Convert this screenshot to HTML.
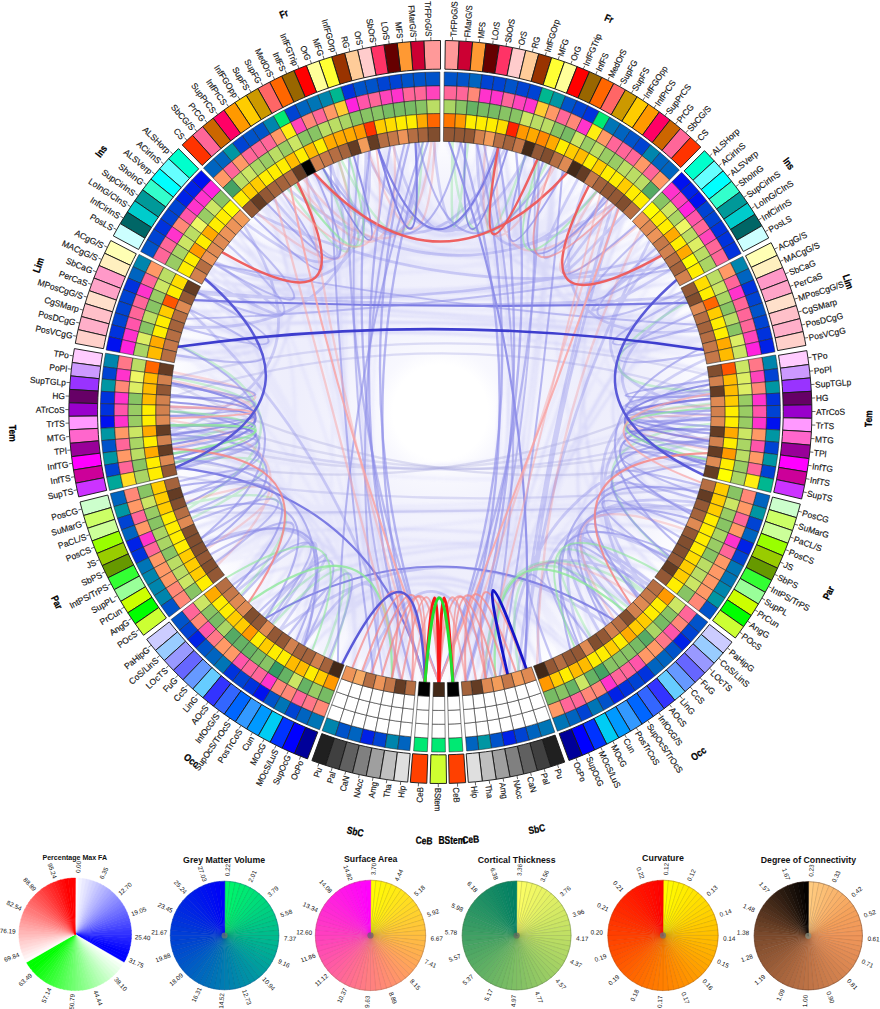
<!DOCTYPE html>
<html><head><meta charset="utf-8"><title>Connectogram</title>
<style>
html,body{margin:0;padding:0;background:#fff;}
body{width:880px;height:1009px;position:relative;overflow:hidden;font-family:"Liberation Sans",sans-serif;}
svg text{font-family:"Liberation Sans",sans-serif;}
</style></head><body>
<svg width="880" height="1009" viewBox="0 0 880 1009" style="position:absolute;left:0;top:0;font-family:'Liberation Sans',sans-serif">
<rect width="880" height="1009" fill="#fff"/>
<defs><radialGradient id="wash" cx="440.4" cy="412" r="270.6" gradientUnits="userSpaceOnUse"><stop offset="0" stop-color="#fff"/><stop offset="0.175" stop-color="#fff"/><stop offset="0.235" stop-color="#f8f8fe"/><stop offset="0.36" stop-color="#f3f3fd"/><stop offset="0.55" stop-color="#eeeefc"/><stop offset="0.78" stop-color="#f0f0fc"/><stop offset="0.92" stop-color="#f8f8fe"/><stop offset="1" stop-color="#fdfdff"/></radialGradient><filter id="bl" x="-5%" y="-5%" width="110%" height="110%"><feGaussianBlur stdDeviation="1.1"/></filter><filter id="bs" x="-5%" y="-5%" width="110%" height="110%"><feGaussianBlur stdDeviation="0.45"/></filter></defs>
<circle cx="440.4" cy="412" r="270.6" fill="url(#wash)"/>
<g fill="none" stroke-linecap="round">
<g filter="url(#bl)">
<path d="M611.9 203.3Q512.3 330.6 626.5 216.2M687 522.2Q528.2 447.8 693.7 505.7M292.8 185.8Q440.6 317.5 589 186.4M529.2 156.9Q511.7 349.2 704.7 356.1M703.5 351Q532.1 354.7 610.7 202.3M271.5 201.2Q402.2 314.2 421.4 142.6M354.4 668.1Q432 515.5 483.8 678.6M624.2 214.1Q534.4 446.8 450.8 681.9M700.2 338.2Q533.3 377.8 686 299.7M266.4 205.4Q368.8 337.1 241.8 229M708.8 381.9Q549.7 409.6 709.9 430M286.7 189.9Q336.5 439.1 414.8 680.9M279.2 195.3Q373.8 332.5 255.2 215.4M595.9 191.2Q494.2 328.8 578.1 179.7M578 179.6Q501.6 321.6 604.9 197.7M185.8 502.2Q444.2 517.6 700.9 483.5M554.4 167.1Q515.6 343.8 695.2 322.3M238.5 232.6Q381.4 335.4 318.3 171.1M414.3 143.2Q424.1 303.8 386 147.4M322.7 168.9Q344.5 411.5 319.9 653.8M172.6 447.6Q334 387.3 215.6 262.2M195.5 298.2Q351.4 449.6 351 666.9M653.1 245.5Q539.6 451.7 479.4 679.3M290.6 636.7Q353.3 464.4 171.6 438.9M687.1 521.9Q526.8 474.2 622.7 611.3M233.7 238.2Q367 342.3 256.2 214.4M540 663.1Q470 505.8 502.8 674.8M678 283.6Q538.4 452.6 517.5 670.9M255.5 215.1Q426.7 313.6 564.3 172M178.6 345.6Q442.6 313.5 704.9 357.2M591.2 636Q475.1 510 464.1 681.1M182.7 331.1Q443.6 307.6 702.6 347M194.8 299.7Q445.2 305.3 695.1 322M318.5 653Q372.1 489.9 217.2 564.1M206.2 277.5Q341.1 454.3 375.1 674.1M665.1 561.9Q492.7 503.7 454.9 681.7M554.3 167.1Q533.3 427.8 467.1 680.8M171.7 439.3Q437 508.4 706.6 458M479.1 144.7Q478.3 311.6 587.8 185.7M170.8 428.3Q338.8 431.2 183.5 495.3M302.6 644.3Q404.5 515.6 404.7 679.7M198.5 291.9Q351.8 453.8 379.3 675.1M574.1 646.7Q481.3 503.5 526.1 668.1M178.8 479.3Q375.3 487.9 413.8 680.8M279 195.4Q348.5 358.5 172.3 378.8M171.3 389.3Q342.7 412.4 171.5 437.1M171.1 432.7Q446.3 513 710.3 401.4M238.4 591.3Q357.6 476.6 217.4 564.3M481.3 145Q539.5 410.8 488 677.9M379.9 675.2Q415 507 361.4 670.3M185.1 500.2Q344 407.6 194.1 301.1M311.8 649.5Q425.4 519.7 499.1 675.7M584.4 640.5Q503.4 497.5 616 617.3M177.4 350.6Q348.5 465.8 365.2 671.4M555.9 167.9Q490.1 326.8 595.9 191.2M170.7 426.9Q355.4 457.2 277.2 627.2M170.8 428.2Q332.5 403.9 176.2 356M387.9 147Q414.7 305.2 366.5 152.2M599.7 630.1Q526.6 455.1 710.5 408.6M446.7 142Q549.7 404.2 485.2 678.4M264 207.5Q374.6 327.9 284.4 191.5M683 293.3Q540.1 387 710.3 401.9M575.6 645.8Q529.8 469.8 709.1 439.5M310 175.5Q372.2 336.1 219.1 257.1M177.9 348.2Q350.5 362.6 245.8 224.7M641.3 231.5Q538.5 381.9 708 449M323.5 655.5Q401.8 506.1 352.6 667.4M211.6 555.5Q433.8 511.9 648.5 584.2M525.5 668.3Q470.8 514.2 509.3 673.2M311.2 174.8Q435.1 306.6 545.4 163.1M262.2 209Q382.5 318.8 337.5 162.3M273.6 199.5Q456.1 314.3 665.3 262.4M320.8 654.2Q393.7 494.6 294.5 639.3M205.1 279.3Q438.8 311.7 671.2 271.7M643.4 590.2Q491.6 504 485 678.4M354.3 156Q331.6 415.2 369.7 672.7M649.5 583Q517.6 480.7 634.5 599.8M332.5 164.4Q399.5 327.2 313.6 173.5M397.3 145.4Q442.7 311.9 495.9 147.7M215.1 263Q349.7 364 190.4 309.7M384.5 676.2Q411 510.3 342.3 663.6M628 217.7Q487 323.9 495.5 147.6M180.2 339.4Q345.4 412.8 181.5 488.8M491.1 146.7Q540.7 407.5 514.5 671.7M195.6 526.2Q374.7 490.5 371 673M188.8 510.4Q353.2 457 214.6 560.2M340.1 161.2Q396.2 314.2 318.4 171M573 647.3Q470.7 506.4 469.3 680.6M256.6 609.9Q427.5 513.3 568.8 649.6M360.4 154Q343.4 419.4 400.3 679.1M216.8 563.5Q450.7 508.9 690.9 513M298.2 182.4Q347 431.9 404.3 679.7M247.7 222.8Q442.8 305.1 641.6 231.8M694.4 320.3Q539 409.4 698.9 490.3M255.3 608.7Q343.3 447 172.4 378.4M178.7 345.3Q441.3 312.3 703.2 349.8M629.5 604.9Q502 498.9 559.8 654.3M460.7 142.7Q527 347.9 703.9 471.4M604.8 197.7Q513.8 347.1 673.1 274.9M186.2 503.2Q442.2 520.7 697.5 494.9M244.6 225.9Q343.1 442.3 385.2 676.4M187.4 317.4Q332.8 404.2 176.4 469.2M225.1 248.9Q375.7 335.9 314.1 173.3M506 150Q541.8 415.2 489.2 677.7M572.7 176.5Q480.6 325.6 535.6 159.2M211.8 268.1Q360 354.1 231.6 240.7M552.9 166.4Q533.2 394.5 634.6 599.7M563.2 652.6Q488.9 497.7 583.5 641.1M608.3 623.6Q485.1 505.6 499.4 675.6M356.7 155.2Q419.3 318.8 405.4 144.2M431.3 142.1Q389.9 328.9 205 279.6M488.1 677.9Q456.5 518.7 473.2 680.1M416.4 143Q441.1 309 468.2 143.3M329.3 658.2Q369 486.8 199.6 534.4M373 673.6Q437.8 509.4 493.8 676.8M174.6 459.8Q333.1 393.8 205.1 279.3M227.4 246Q431.7 313.9 620.7 210.9M172.6 446.8Q371.1 477.8 392.1 677.7M686 299.5Q539.2 390.4 710.5 411.6M270.2 202.3Q340.8 440 404.1 679.7M710.4 419Q538.3 446.2 656 574.7M272.8 200.2Q377.9 339 257.1 213.6M182.8 493.1Q335.6 436.1 173.2 451.4M386.1 147.4Q341 415.2 403.2 679.5M209.2 272.3Q342.4 362.1 191.4 307.3M667.2 558.7Q535.3 443.7 709.8 431.2M295.3 639.8Q435.9 506.3 562.9 652.7M665.9 263.3Q529.9 442.6 527.4 667.7M408.7 143.8Q451.9 312.7 532.6 158.1M170.3 410.5Q341 446.8 230.3 581.8M271.1 622.5Q451.2 513.2 650.1 582.2M391.1 677.6Q440.1 519.5 488 677.9M196.8 528.8Q370.3 494.6 364.9 671.3M634.2 223.9Q525.4 345.7 670 269.8M408.1 143.8Q336.4 405.4 374.3 673.9M303 179.5Q444.9 303.3 596.8 191.8M266.4 205.4Q439 306.7 608.7 200.7M355.9 155.5Q345.4 420.9 405.3 679.8M559.1 169.4Q487.8 325 579.8 180.7M258.2 212.6Q358.4 358.9 183.9 327.4M296.8 640.8Q395 495.9 327.5 657.4M399.1 145.1Q443.7 303.3 497.6 148M398.4 145.2Q439.8 309.9 479.4 144.7M338.4 662.1Q413.2 505 391.4 677.6M701.2 482.3Q544.9 437.5 704.2 469.9M246.8 223.6Q340.5 413.4 252.4 605.9M258.2 212.6Q361.4 354.4 194.8 299.5M277 196.9Q443.6 306.5 616.4 207.1M514.7 671.7Q461.9 506.3 485.8 678.3M619.8 210.1Q501.5 321.7 561.2 170.4M457.2 142.4Q549.5 413.1 451.8 681.9M337.1 162.4Q345.5 415.2 354.2 668M413.4 143.3Q337.6 409.5 400.6 679.1M484.7 145.6Q486.4 329.5 644 234.5M320.3 170.1Q333.1 429.5 403.2 679.5M302.1 180Q398.5 323.2 349.4 157.7M290.2 636.5Q395.2 503.7 354 667.9M705.8 462.4Q520.5 481.2 528.8 667.2M257.9 212.9Q377.2 326.6 303.4 179.3M195.3 298.4Q449.2 310.6 701.4 342.5" stroke="#8686ea" stroke-opacity="0.065" stroke-width="3.8"/>
<path d="M629.2 605.2Q485.9 496.1 498.9 675.7M555.7 167.8Q538.6 424.9 488.7 677.7M457.4 142.4Q487.5 330.6 665.7 263M187.5 317.2Q350.1 376.2 191.2 307.8M305.5 178Q336.2 431.4 398.7 678.9M180.5 338.4Q345.5 370.9 208.8 273.1M296.2 183.6Q450.6 311.5 627.5 217.2M177.9 348.4Q445 307.7 707.5 371.5M189.9 311.1Q446.3 310.6 701 341M591.8 635.7Q529.3 457.6 710.4 404.4M616.6 207.3Q540.5 406.7 637.4 596.8M356.6 155.2Q340.9 422 409.1 680.3M524.2 155.2Q513.9 344 702.9 348.5M211.8 268.2Q347.3 372.8 177.8 349M199.5 289.9Q335.4 392.1 171.5 437.3M607.5 624.2Q530.5 472.7 699.8 487.1M677.9 283.3Q538 458.8 488.5 677.8M175.7 465.9Q364.4 479.3 354.8 668.2M230.6 582.1Q447.4 520.4 670.3 553.7M199.3 290.2Q436.2 305.3 671.2 271.7M209.7 271.6Q436.9 315.6 660.3 255.2M709.7 391.3Q546.8 426.3 694.6 503.2M476.8 144.4Q535.5 416.6 450.6 681.9M701 341.1Q537.6 375.3 682.8 292.9M479.2 144.7Q482.5 321.3 619.4 209.7M386.9 147.3Q439 306 486.8 145.9M405.3 144.2Q334 409.8 394.2 678.1M311.8 174.5Q390.3 314.8 321.3 169.6M298.4 641.8Q437 520.8 567.7 650.2M649.1 583.5Q528.5 459.6 698.2 492.7M630.1 604.3Q510.2 475.5 649.7 582.7M537.8 663.9Q468.6 502.9 502.8 674.8M379.3 148.9Q446.2 302.6 528.7 156.8M543 162.2Q467.7 316.7 485.5 145.7M238.1 233.1Q399.8 323.1 437.6 141.9M191.5 517Q441.4 507.8 691.5 511.5M594 189.8Q516.1 346.8 682.9 293M295.8 640.1Q437.5 511.3 571.4 648.2M688 304.1Q526.9 351.1 625.4 215.2M686.5 523.4Q515.2 473.6 597 632.1M215.6 561.8Q359 472.1 231.2 582.8M686.5 300.6Q535.9 462.9 485.1 678.4M201.9 538.8Q436.8 513 669.3 555.3M649.1 240.5Q517.1 353.7 661.4 256.8M232.6 239.5Q360.8 350.3 221.7 253.5M312.8 174Q448.4 314.4 605.1 197.9M205 279.5Q441 317.6 677.4 282.4M175.5 359Q347.9 366.4 237.2 234.1M279 195.4Q379.1 334.6 266.4 205.4M708.8 381.5Q547.3 411.5 709 440.1M184.3 326.2Q442.7 313.9 700.2 338.2M643.4 233.8Q535.7 421.5 604.3 626.7M658.4 571.5Q533.4 452.2 706 461.2M499 675.7Q480.4 505.5 590.4 636.6M262.1 209.1Q378.7 337.9 273.2 199.9M695.2 322.3Q530.3 363.4 655.2 248.2M176.1 356.4Q356.1 350.9 305.6 178M499.8 148.5Q498.5 322.6 657.1 250.8M537.1 159.8Q482 311.5 550.1 165.2M172.5 446.2Q344.4 374.8 265.5 206.1M437.2 141.9Q389 317.7 215.1 263M682.6 531.5Q493.2 492.1 454.6 681.7M497.7 148.1Q512.9 334.6 700 337.5M479 144.7Q549.8 417.1 453.8 681.8M700.4 339Q536 379.8 691.7 312.9M687.8 520.4Q538.6 411.5 686.7 301M205.4 545.1Q359.5 467 230.3 581.8M390 677.4Q444.5 509.7 512.6 672.3M382.9 148.1Q449.2 312.1 542.9 162.1M194.3 300.6Q446.6 311.5 698.3 331.8M368.7 151.6Q445.3 315.5 537.9 160.1M702.6 347.2Q516.2 336 504.4 149.6M196.2 527.5Q347.6 470.4 230.6 582.2M251 604.6Q448.2 508 658.4 571.4M523.8 155.1Q544 423.8 464.1 681.1M204.1 542.7Q375.4 489.4 352.5 667.4M346.7 158.7Q442.6 309.9 544.8 162.9M328 657.6Q360.4 475.6 175.8 466M255.5 608.9Q366.6 481.1 231.7 583.5M625.4 215.2Q541.8 445 473.8 680M338 162.1Q331.8 422.7 388.9 677.1M625.4 215.2Q513.3 345.6 653.7 246.3M552.4 166.2Q539 427.2 473.3 680.1M341.8 663.4Q419.7 504.4 422.4 681.5M172.8 448.5Q355.8 466.3 295.9 640.2M310.3 648.7Q431.4 510 525 668.5M271.2 622.5Q403.1 501.4 410.1 680.4" stroke="#8080e8" stroke-opacity="0.14" stroke-width="3.0"/>
</g><g filter="url(#bs)">
<path d="M629.3 605Q519.3 485 647.7 585.1M204.9 279.7Q353.1 358.6 215.3 262.7M198.7 291.4Q441.5 314.3 684.7 296.7M363.9 671Q436 508.7 492.9 676.9M369 151.5Q379.7 328 215.4 262.6M691.6 511.2Q526.7 475.8 608.9 623.1M331.4 164.9Q378.6 323.1 246.6 223.8M256.5 214.1Q453.7 307.1 667.8 266.2M303.4 644.8Q399.5 510 371.3 673.1M280.1 629.4Q379.8 487.5 262.8 615.5M171.1 432.8Q345.2 425.6 176.1 467.7M710.5 409.3Q539.9 379.3 659.6 254.1M365.8 152.4Q368.3 337 184 327M705.4 359.5Q534.3 436.8 645 588.3M197.8 293.3Q432.5 313.4 660.9 256M237.6 590.4Q375.5 480.2 272.1 623.2M612.8 204Q543.4 432.8 518.4 670.6M697.8 330.3Q521.5 349.6 585.5 184.2M171 431.4Q339.2 375.8 244.3 226.2M694.9 502.5Q524.9 480.3 582.1 642M328.5 166.1Q414.6 313 417.9 142.8M709.1 439.6Q516 476.8 509 673.2M288.1 188.9Q445 313.6 613 204.3M365.5 152.5Q442.6 307.8 526.3 155.9M686 299.6Q548.1 394.7 708.9 441.7M622.6 611.4Q509.9 477.4 650.6 581.6M624.1 214Q506.9 336.6 613.8 204.9M691.8 510.8Q515.7 486.9 540.6 662.8M670.1 269.9Q520.3 358.5 659.2 253.6M273.8 199.4Q382 325.2 306.3 177.5M393.4 146Q441.9 314 495.4 147.6M189.8 311.2Q351 463.2 400.5 679.1M648.4 584.3Q495 507.2 483.8 678.6M710.4 419.5Q535 409.9 709.8 392.8M617.9 208.4Q543.5 433.1 523.8 668.9M605.3 198.1Q498.2 326.5 577.6 179.3M707.6 372.2Q543.3 444 637.8 596.4M598.7 630.8Q512.9 480.4 668.1 557.3M313.7 173.5Q426.9 303.9 504.5 149.6M301.9 643.9Q361.7 488.1 204.1 542.8M280.9 630Q442 507.1 606.9 624.7M477 144.4Q477.1 319.3 596.9 191.9M433.7 142Q450.1 314.6 499.9 148.5M649.7 241.2Q543.3 442.4 523 669.2" stroke="#7878e6" stroke-opacity="0.30" stroke-width="2.8"/>
<path d="M174.9 461.8Q342.8 441.6 192.1 518.2M172.5 377.6Q338.4 411.1 171.9 441.7M188.2 508.7Q338.6 417.9 178.7 345.2M186.6 504.4Q353.2 464.8 241 594.1M323.6 655.5Q384.8 497.5 265.2 617.5M341.7 160.6Q418.1 312.5 422.3 142.5M295.6 184Q393.6 321.4 338.5 161.9M287.8 189.2Q389.3 323.7 323.4 168.5M330.8 658.8Q387.7 499.4 273.3 624.2M709.7 391.3Q539.3 387 687.1 302M707.2 453.9Q542.2 418.4 710.4 403.8M668.2 557.1Q537.7 442.7 710.2 423.9M627.4 606.9Q491.9 500 518.8 670.5M643.1 590.6Q507.5 488.8 590.3 636.7M525.6 155.7Q467.3 313.6 497.7 148.1M468 143.3Q447.9 310.3 452.7 142.2M546.8 163.8Q463 312.5 451.9 142.1M642.1 591.6Q489.7 501.3 485.1 678.4" stroke="#6ae27a" stroke-opacity="0.30" stroke-width="2.5"/>
<path d="M172.7 447.6Q338.4 412.9 172.1 381M170.3 408.9Q338.7 403.9 173.2 372.2M185.7 501.9Q347.9 454.9 207.3 548.4M217.7 564.8Q343.5 443.8 170.4 420.6M368.4 151.7Q425.7 311.1 435 142M297.2 183Q404 316.7 394.2 145.9M339.3 161.6Q385.9 325.8 257.5 213.2M303.5 179.1Q412 314 431.4 142.1M710.5 414.9Q542.2 417.8 709.1 439.8M710.4 405.3Q542.2 417.8 707.9 449.3M614 618.9Q521 474.6 683.8 529M636.8 597.5Q491.6 500.2 504.1 674.5M554.4 167.1Q470.7 314.6 485.6 145.7M497.8 148.1Q485 320.3 612.5 203.8M596.4 191.5Q507.3 335 636.7 226.5M640.4 230.4Q539.6 435.6 537.2 664.2" stroke="#f58888" stroke-opacity="0.30" stroke-width="2.4"/>
</g>
<path d="M265.9 618.1Q440 514 613.1 619.7" stroke="#7070e0" stroke-width="2.0" stroke-opacity="0.8"/>
<path d="M423.1 142.5Q339.7 395.5 337.9 661.9" stroke="#8c8ce8" stroke-width="2.0" stroke-opacity="0.6"/>
<path d="M404.3 144.3Q338.5 407.9 382.8 675.9" stroke="#8c8ce8" stroke-width="2.0" stroke-opacity="0.55"/>
<path d="M484.1 145.5Q542.4 411.7 485.8 678.3" stroke="#8c8ce8" stroke-width="2.0" stroke-opacity="0.55"/>
<path d="M330.5 165.3Q338.8 420.6 373.6 673.7" stroke="#8c8ce8" stroke-width="2.0" stroke-opacity="0.6"/>
<path d="M562.5 171.1Q541.6 424.6 499.7 675.5" stroke="#8c8ce8" stroke-width="2.0" stroke-opacity="0.6"/>
<path d="M358.3 154.7Q338.7 420.3 401.3 679.3" stroke="#8c8ce8" stroke-width="1.9" stroke-opacity="0.5"/>
<path d="M534.1 158.7Q541.6 425 467.1 680.8" stroke="#8c8ce8" stroke-width="1.9" stroke-opacity="0.5"/>
<path d="M378.3 149.1Q439.5 310 498 148.1" stroke="#7070e0" stroke-width="2.2" stroke-opacity="0.85"/>
<path d="M378.3 149.1Q423.9 311.3 415.5 143" stroke="#7070e0" stroke-width="2.2" stroke-opacity="0.85"/>
<path d="M418.4 142.8Q457.8 311.5 551.5 165.8" stroke="#8c8ce8" stroke-width="2.0" stroke-opacity="0.6"/>
<path d="M323.2 168.6Q421.5 311.8 460.7 142.7" stroke="#8c8ce8" stroke-width="2.0" stroke-opacity="0.6"/>
<path d="M353.8 156.2Q401.9 317.6 323.2 168.6" stroke="#7070e0" stroke-width="2.0" stroke-opacity="0.7"/>
<path d="M465.4 143.1Q457.8 311.5 507.2 150.3" stroke="#7070e0" stroke-width="2.0" stroke-opacity="0.7"/>
<path d="M525.2 155.6Q479.9 318 564.2 172" stroke="#8c8ce8" stroke-width="2.0" stroke-opacity="0.7"/>
<path d="M542.9 162.1Q491.8 323.9 607.6 199.9" stroke="#8c8ce8" stroke-width="2.0" stroke-opacity="0.7"/>
<path d="M314.8 172.9Q383.8 327.2 267.7 204.3" stroke="#8c8ce8" stroke-width="2.0" stroke-opacity="0.65"/>
<path d="M282.6 192.8Q375.2 333.6 253.6 216.9" stroke="#8c8ce8" stroke-width="2.0" stroke-opacity="0.6"/>
<path d="M603.9 197Q508.3 335.9 635.5 225.2" stroke="#8c8ce8" stroke-width="2.0" stroke-opacity="0.6"/>
<path d="M194.6 300.1Q441 310 687.5 302.9" stroke="#7070e0" stroke-width="2.2" stroke-opacity="0.9"/>
<path d="M186.9 318.9Q430.1 310.5 670 269.7" stroke="#8c8ce8" stroke-width="1.9" stroke-opacity="0.5"/>
<path d="M214.4 264.1Q453.2 310.8 696 324.8" stroke="#8c8ce8" stroke-width="1.9" stroke-opacity="0.5"/>
<path d="M176 467.4Q373.9 489.3 425 681.7" stroke="#7070e0" stroke-width="2.2" stroke-opacity="0.9"/>
<path d="M449 142Q541.4 397.5 524.7 668.6" stroke="#8c8ce8" stroke-width="2.2" stroke-opacity="0.9"/>
<path d="M174.3 458.2Q454.3 513 709.1 384.5" stroke="#a4a4dc" stroke-width="2.4" stroke-opacity="0.33"/>
<path d="M171.9 383.1Q425.9 513 706.3 459.6" stroke="#a4a4dc" stroke-width="2.4" stroke-opacity="0.33"/>
<path d="M171.3 434.8Q445.5 513.9 710.5 408" stroke="#a4a4dc" stroke-width="2.4" stroke-opacity="0.3"/>
<path d="M170.4 406.6Q434.8 513.8 709.4 436.3" stroke="#a4a4dc" stroke-width="2.4" stroke-opacity="0.3"/>
<path d="M170.5 423.1Q439.7 514 710.1 426.8" stroke="#9c9ce0" stroke-width="2.2" stroke-opacity="0.3"/>
<path d="M170.7 397.2Q440.2 310 710 396.2" stroke="#9c9ce0" stroke-width="2.2" stroke-opacity="0.3"/>
<path d="M172.4 378.4Q439.8 310 708 375.1" stroke="#9c9ce0" stroke-width="2.2" stroke-opacity="0.3"/>
<path d="M178.1 476.6Q438.3 514 699.8 487.2" stroke="#9c9ce0" stroke-width="2.2" stroke-opacity="0.3"/>
<path d="M189.7 512.4Q441.9 514 693.9 505.1" stroke="#9c9ce0" stroke-width="2.2" stroke-opacity="0.3"/>
<path d="M427.8 142.2Q338.4 411.5 425 681.7" stroke="#8c8ce8" stroke-width="2.3" stroke-opacity="0.62"/>
<path d="M409 143.7Q338.6 417.7 438.9 682.1" stroke="#8c8ce8" stroke-width="2.3" stroke-opacity="0.62"/>
<path d="M390.3 146.6Q338.5 416.2 412.1 680.6" stroke="#8c8ce8" stroke-width="2.3" stroke-opacity="0.62"/>
<path d="M369.6 151.3Q339 422.6 425 681.7" stroke="#8c8ce8" stroke-width="2.3" stroke-opacity="0.62"/>
<path d="M349.4 157.7Q339.9 429.2 438.9 682.1" stroke="#8c8ce8" stroke-width="2.3" stroke-opacity="0.55"/>
<path d="M460.7 142.7Q542.4 413.5 452.8 681.8" stroke="#8c8ce8" stroke-width="2.3" stroke-opacity="0.62"/>
<path d="M477.1 144.4Q542.1 419.2 438.9 682.1" stroke="#8c8ce8" stroke-width="2.3" stroke-opacity="0.62"/>
<path d="M498 148.1Q542.2 418.2 465.7 680.9" stroke="#8c8ce8" stroke-width="2.3" stroke-opacity="0.62"/>
<path d="M516.2 152.8Q541.7 424.1 452.8 681.8" stroke="#8c8ce8" stroke-width="2.3" stroke-opacity="0.62"/>
<path d="M538.5 160.3Q540.6 431.1 438.9 682.1" stroke="#8c8ce8" stroke-width="2.3" stroke-opacity="0.55"/>
<path d="M171.9 383.1Q338.5 415.3 174.3 458.2" stroke="#7070e0" stroke-width="2.1" stroke-opacity="0.75"/>
<path d="M170.5 401.9Q338.5 416.2 172.2 444.2" stroke="#7070e0" stroke-width="2.0" stroke-opacity="0.7"/>
<path d="M170.3 411.3Q339.9 429.4 186.3 503.6" stroke="#8c8ce8" stroke-width="2.1" stroke-opacity="0.7"/>
<path d="M171.3 434.8Q343 442.4 206 546.3" stroke="#8c8ce8" stroke-width="2.1" stroke-opacity="0.65"/>
<path d="M180.6 485.7Q350.6 460.4 235.9 588.4" stroke="#8c8ce8" stroke-width="2.1" stroke-opacity="0.65"/>
<path d="M189.7 512.4Q357.7 471.6 265.9 618.1" stroke="#8c8ce8" stroke-width="2.1" stroke-opacity="0.6"/>
<path d="M174.3 458.2Q356.6 470.2 304.2 645.3" stroke="#8c8ce8" stroke-width="2.1" stroke-opacity="0.6"/>
<path d="M206 546.3Q366.7 482.6 296.2 640.4" stroke="#8c8ce8" stroke-width="2.0" stroke-opacity="0.6"/>
<path d="M178.5 345.9Q339.1 424.1 201.5 538" stroke="#8c8ce8" stroke-width="2.1" stroke-opacity="0.6"/>
<path d="M709.1 384.5Q542.3 416.7 705.4 464.3" stroke="#7070e0" stroke-width="2.1" stroke-opacity="0.75"/>
<path d="M710.2 398.6Q542.4 414.9 708.9 440.9" stroke="#7070e0" stroke-width="2.0" stroke-opacity="0.7"/>
<path d="M710.4 417.4Q540.3 432.6 690.5 513.9" stroke="#8c8ce8" stroke-width="2.1" stroke-opacity="0.7"/>
<path d="M708.9 440.9Q536.7 445.5 669 555.9" stroke="#8c8ce8" stroke-width="2.1" stroke-opacity="0.65"/>
<path d="M698.5 491.7Q528.6 463.3 637.2 597" stroke="#8c8ce8" stroke-width="2.1" stroke-opacity="0.65"/>
<path d="M688.7 518.3Q521.1 474.4 605.7 625.6" stroke="#8c8ce8" stroke-width="2.1" stroke-opacity="0.6"/>
<path d="M705.4 464.3Q522.7 472.3 570.2 648.9" stroke="#8c8ce8" stroke-width="2.1" stroke-opacity="0.6"/>
<path d="M671.4 551.9Q512.2 484.4 578.4 644.2" stroke="#8c8ce8" stroke-width="2.0" stroke-opacity="0.6"/>
<path d="M702.7 347.4Q541.5 425.6 676.2 543.7" stroke="#8c8ce8" stroke-width="2.1" stroke-opacity="0.6"/>
<path d="M172.7 376Q338.9 402.4 170.7 397.2" stroke="#8c8ce8" stroke-width="2.3" stroke-opacity="0.6"/>
<path d="M171.6 385.4Q338.5 407.7 170.3 416" stroke="#8c8ce8" stroke-width="2.3" stroke-opacity="0.6"/>
<path d="M170.8 394.8Q338.4 413.1 171.3 434.8" stroke="#7070e0" stroke-width="2.3" stroke-opacity="0.6"/>
<path d="M170.4 406.6Q338.4 414 170.8 427.8" stroke="#8c8ce8" stroke-width="2.3" stroke-opacity="0.6"/>
<path d="M170.3 416Q338.7 419.7 172.8 448.9" stroke="#8c8ce8" stroke-width="2.3" stroke-opacity="0.6"/>
<path d="M170.6 425.4Q339.1 424.2 175.1 462.8" stroke="#7070e0" stroke-width="2.3" stroke-opacity="0.6"/>
<path d="M171.7 439.5Q339.7 428.1 176.5 469.7" stroke="#8c8ce8" stroke-width="2.3" stroke-opacity="0.55"/>
<path d="M173.5 453.5Q341.2 435.5 183.3 494.7" stroke="#8c8ce8" stroke-width="2.3" stroke-opacity="0.55"/>
<path d="M179.3 481.2Q343.6 444.1 189.7 512.4" stroke="#8c8ce8" stroke-width="2.2" stroke-opacity="0.5"/>
<path d="M183.3 494.7Q346.4 451.6 201.5 538" stroke="#8c8ce8" stroke-width="2.2" stroke-opacity="0.5"/>
<path d="M193.3 521.1Q351 461.2 215.9 562.2" stroke="#8c8ce8" stroke-width="2.2" stroke-opacity="0.5"/>
<path d="M210.8 554.3Q359.2 473.8 242.1 595.4" stroke="#8c8ce8" stroke-width="2.2" stroke-opacity="0.5"/>
<path d="M232.8 584.8Q368.6 484.5 269.5 621.2" stroke="#8c8ce8" stroke-width="2.2" stroke-opacity="0.5"/>
<path d="M258.8 612Q380.1 494.2 304.2 645.3" stroke="#8c8ce8" stroke-width="2.2" stroke-opacity="0.5"/>
<path d="M288.3 635.2Q390.5 501 329.3 658.2" stroke="#8c8ce8" stroke-width="2.2" stroke-opacity="0.5"/>
<path d="M198 292.8Q345.9 373.5 183.8 327.8" stroke="#8c8ce8" stroke-width="2.2" stroke-opacity="0.5"/>
<path d="M190.3 310.1Q342.9 381.9 176.4 355.1" stroke="#8c8ce8" stroke-width="2.2" stroke-opacity="0.5"/>
<path d="M240.4 230.5Q359.7 349.6 214.4 264.1" stroke="#8c8ce8" stroke-width="2.2" stroke-opacity="0.5"/>
<path d="M228.2 244.9Q354.1 357.6 198 292.8" stroke="#8c8ce8" stroke-width="2.2" stroke-opacity="0.45"/>
<path d="M708.6 380.3Q542 402.9 710 395.7" stroke="#8c8ce8" stroke-width="2.3" stroke-opacity="0.6"/>
<path d="M709.6 389.6Q542.3 408.3 710.5 414.6" stroke="#8c8ce8" stroke-width="2.3" stroke-opacity="0.6"/>
<path d="M710.2 399Q542.4 413.6 709.6 433.4" stroke="#7070e0" stroke-width="2.3" stroke-opacity="0.6"/>
<path d="M710.5 410.8Q542.4 414.5 710.1 426.4" stroke="#8c8ce8" stroke-width="2.3" stroke-opacity="0.6"/>
<path d="M710.4 420.2Q542.1 420.3 708.2 447.5" stroke="#8c8ce8" stroke-width="2.3" stroke-opacity="0.6"/>
<path d="M709.9 429.7Q541.6 424.7 705.9 461.5" stroke="#7070e0" stroke-width="2.3" stroke-opacity="0.6"/>
<path d="M708.6 443.8Q541 428.7 704.5 468.4" stroke="#8c8ce8" stroke-width="2.3" stroke-opacity="0.55"/>
<path d="M706.6 457.8Q539.5 436.1 697.9 493.5" stroke="#8c8ce8" stroke-width="2.3" stroke-opacity="0.55"/>
<path d="M700.3 485.4Q537 444.6 691.6 511.3" stroke="#8c8ce8" stroke-width="2.2" stroke-opacity="0.5"/>
<path d="M696.1 498.9Q534.2 452.1 679.8 537.1" stroke="#8c8ce8" stroke-width="2.2" stroke-opacity="0.5"/>
<path d="M685.6 525.2Q529.4 461.7 665.4 561.5" stroke="#8c8ce8" stroke-width="2.2" stroke-opacity="0.5"/>
<path d="M667.4 558.3Q521.1 474.4 639.1 594.9" stroke="#8c8ce8" stroke-width="2.2" stroke-opacity="0.5"/>
<path d="M644.8 588.6Q511.6 485 611.7 620.9" stroke="#8c8ce8" stroke-width="2.2" stroke-opacity="0.5"/>
<path d="M618.2 615.4Q500 494.8 576.8 645.1" stroke="#8c8ce8" stroke-width="2.2" stroke-opacity="0.5"/>
<path d="M588 638.2Q489.4 501.5 551.6 658.2" stroke="#8c8ce8" stroke-width="2.2" stroke-opacity="0.5"/>
<path d="M684.8 296.9Q535.1 374.1 696.6 326.6" stroke="#8c8ce8" stroke-width="2.2" stroke-opacity="0.5"/>
<path d="M692.2 314.2Q538 382.5 704.2 353.8" stroke="#8c8ce8" stroke-width="2.2" stroke-opacity="0.5"/>
<path d="M643.7 234.2Q521.6 350.2 665.9 263.3" stroke="#8c8ce8" stroke-width="2.2" stroke-opacity="0.5"/>
<path d="M655.6 248.7Q527.1 358.2 682.3 291.8" stroke="#8c8ce8" stroke-width="2.2" stroke-opacity="0.45"/>
<path d="M248.6 602.2Q392.9 502.2 392 677.7" stroke="#8ee89a" stroke-width="2.3" stroke-opacity="0.8"/>
<path d="M623.8 610.3Q487.1 502.7 495.1 676.5" stroke="#8ee89a" stroke-width="2.3" stroke-opacity="0.8"/>
<path d="M170.6 425.4Q338.9 422.4 173.5 453.5" stroke="#8ee89a" stroke-width="2.6" stroke-opacity="0.8"/>
<path d="M170.3 411.3Q338.8 421.5 175.1 462.8" stroke="#8ee89a" stroke-width="2.2" stroke-opacity="0.6"/>
<path d="M710.5 408Q542.1 420.3 706.3 459.6" stroke="#8ee89a" stroke-width="2.2" stroke-opacity="0.7"/>
<path d="M226.9 577.5Q374.5 489.9 312.4 649.9" stroke="#8ee89a" stroke-width="2.0" stroke-opacity="0.6"/>
<path d="M658.3 571.6Q508.3 488.1 574.3 646.6" stroke="#8ee89a" stroke-width="2.0" stroke-opacity="0.6"/>
<path d="M349.4 157.7Q395.3 320.5 294.4 184.8" stroke="#8ee89a" stroke-width="2.0" stroke-opacity="0.55"/>
<path d="M538.5 160.3Q488.7 322.2 596.3 191.5" stroke="#8ee89a" stroke-width="2.0" stroke-opacity="0.55"/>
<path d="M290.4 187.4Q342.7 441.3 438.9 682.1" stroke="#f9a4a4" stroke-width="2.1" stroke-opacity="0.85"/>
<path d="M618.5 208.9Q535.8 448.2 438.9 682.1" stroke="#f9a4a4" stroke-width="2.1" stroke-opacity="0.85"/>
<path d="M275.1 198.4Q341.7 437.9 401.3 679.3" stroke="#f9a4a4" stroke-width="2.2" stroke-opacity="0.5"/>
<path d="M306.5 177.4Q341.1 435.3 425 681.7" stroke="#f9a4a4" stroke-width="2.2" stroke-opacity="0.45"/>
<path d="M607.6 199.9Q537.5 443.2 452.8 681.8" stroke="#f9a4a4" stroke-width="2.2" stroke-opacity="0.45"/>
<path d="M600.2 194.2Q539.5 436.3 481.2 679" stroke="#f9a4a4" stroke-width="1.9" stroke-opacity="0.5"/>
<path d="M172.8 448.9Q349 457.2 248.6 602.2" stroke="#f58686" stroke-width="2.1" stroke-opacity="0.85"/>
<path d="M707.4 453.1Q531.3 458.3 630.6 603.8" stroke="#f58686" stroke-width="2.1" stroke-opacity="0.85"/>
<path d="M170.4 406.6Q338.4 412.2 170.4 418.4" stroke="#f9a4a4" stroke-width="2.2" stroke-opacity="0.8"/>
<path d="M709.9 393.9Q541.9 422.1 701.1 482.6" stroke="#f9a4a4" stroke-width="2.0" stroke-opacity="0.7"/>
<path d="M314.4 173.1Q440.5 310 566.7 173.3" stroke="#ee5858" stroke-width="2.5" stroke-opacity="0.95"/>
<path d="M297.6 182.8Q371 337.2 222.5 252.4" stroke="#ee5858" stroke-width="2.5" stroke-opacity="0.95"/>
<path d="M588.6 186.2Q511.2 338.6 660.9 255.9" stroke="#ee5858" stroke-width="2.5" stroke-opacity="0.95"/>
<path d="M498 148.1Q469.6 314.3 537.2 159.8" stroke="#ee5858" stroke-width="2.5" stroke-opacity="0.95"/>
<path d="M551.5 165.8Q494.9 325.8 614.9 205.9" stroke="#f58686" stroke-width="2.0" stroke-opacity="0.6"/>
<path d="M376.5 149.6Q397.8 319.3 282.6 192.8" stroke="#f9a4a4" stroke-width="1.9" stroke-opacity="0.5"/>
<path d="M352.5 667.4Q414.6 510.7 392 677.7" stroke="#f58686" stroke-width="2.1" stroke-opacity="0.7"/>
<path d="M362.3 670.6Q420.2 512 412.1 680.6" stroke="#f58686" stroke-width="2.1" stroke-opacity="0.7"/>
<path d="M371.8 673.2Q424.5 512.7 425 681.7" stroke="#f58686" stroke-width="2.1" stroke-opacity="0.7"/>
<path d="M381.9 675.7Q429 513.4 438.9 682.1" stroke="#f58686" stroke-width="2.1" stroke-opacity="0.7"/>
<path d="M401.8 679.3Q432.8 513.7 438.9 682.1" stroke="#f58686" stroke-width="2.1" stroke-opacity="0.65"/>
<path d="M392 677.7Q428.3 513.3 425 681.7" stroke="#f58686" stroke-width="2.0" stroke-opacity="0.65"/>
<path d="M525.6 668.3Q465.1 511 485.8 678.3" stroke="#f58686" stroke-width="2.1" stroke-opacity="0.7"/>
<path d="M515.7 671.4Q459.5 512.2 465.7 680.9" stroke="#f58686" stroke-width="2.1" stroke-opacity="0.7"/>
<path d="M506.2 674Q455.2 512.9 452.8 681.8" stroke="#f58686" stroke-width="2.1" stroke-opacity="0.7"/>
<path d="M496 676.3Q450.7 513.5 438.9 682.1" stroke="#f58686" stroke-width="2.1" stroke-opacity="0.7"/>
<path d="M476 679.7Q446.9 513.8 438.9 682.1" stroke="#f58686" stroke-width="2.1" stroke-opacity="0.65"/>
<path d="M485.8 678.3Q451.3 513.4 452.8 681.8" stroke="#f58686" stroke-width="2.0" stroke-opacity="0.65"/>
<path d="M412.1 680.6Q439.8 514 465.7 680.9" stroke="#f58686" stroke-width="2.0" stroke-opacity="0.55"/>
<path d="M205.3 279Q339.6 396.4 176 467.4" stroke="#5252d6" stroke-width="2.5" stroke-opacity="0.95"/>
<path d="M676.2 280.2Q541.4 398 703.1 474.9" stroke="#5252d6" stroke-width="2.5" stroke-opacity="0.95"/>
<path d="M178.3 346.8Q441 310 703.2 349.7" stroke="#3838cc" stroke-width="2.6" stroke-opacity="0.97"/>
<path d="M342.3 663.7Q418.7 511.7 425 681.7" stroke="#5252d6" stroke-width="2.5" stroke-opacity="0.95"/>
<path d="M526.1 668.1Q469.3 509.8 507.5 673.6" stroke="#1414c8" stroke-width="2.8" stroke-opacity="1"/>
<path d="M425 681.7Q437.2 513.9 438.9 682.1" stroke="#f81818" stroke-width="3.0" stroke-opacity="1"/>
<path d="M438.9 682.1Q442.5 514 452.8 681.8" stroke="#f81818" stroke-width="3.0" stroke-opacity="1"/>
<path d="M425 681.7Q439.8 514 452.8 681.8" stroke="#20e030" stroke-width="3.0" stroke-opacity="1"/>
</g>
<g stroke="#222" stroke-width="0.55" stroke-linejoin="miter">
<path d="M444.2 72A340 340 0 0 1 457.6 72.4L456.9 86.3A326.1 326.1 0 0 0 444.1 85.9Z" fill="#0053ca"/>
<path d="M444.1 85.9A326.1 326.1 0 0 1 456.9 86.3L456.2 100.2A312.2 312.2 0 0 0 443.9 99.8Z" fill="#ff6699"/>
<path d="M443.9 99.8A312.2 312.2 0 0 1 456.2 100.2L455.5 114A298.4 298.4 0 0 0 443.8 113.6Z" fill="#aad564"/>
<path d="M443.8 113.6A298.4 298.4 0 0 1 455.5 114L454.8 127.9A284.5 284.5 0 0 0 443.6 127.5Z" fill="#ff7700"/>
<path d="M443.6 127.5A284.5 284.5 0 0 1 454.8 127.9L454.1 141.7A270.6 270.6 0 0 0 443.4 141.4Z" fill="#935835"/>
<path d="M457.6 72.4A340 340 0 0 1 469.9 73.3L468.7 87.1A326.1 326.1 0 0 0 456.9 86.3Z" fill="#0053ca"/>
<path d="M456.9 86.3A326.1 326.1 0 0 1 468.7 87.1L467.5 101A312.2 312.2 0 0 0 456.2 100.2Z" fill="#ff6699"/>
<path d="M456.2 100.2A312.2 312.2 0 0 1 467.5 101L466.3 114.7A298.4 298.4 0 0 0 455.5 114Z" fill="#88c464"/>
<path d="M455.5 114A298.4 298.4 0 0 1 466.3 114.7L465.1 128.6A284.5 284.5 0 0 0 454.8 127.9Z" fill="#ff9900"/>
<path d="M454.8 127.9A284.5 284.5 0 0 1 465.1 128.6L463.9 142.4A270.6 270.6 0 0 0 454.1 141.7Z" fill="#935835"/>
<path d="M469.9 73.3A340 340 0 0 1 482.1 74.6L480.4 88.4A326.1 326.1 0 0 0 468.7 87.1Z" fill="#0064c0"/>
<path d="M468.7 87.1A326.1 326.1 0 0 1 480.4 88.4L478.7 102.2A312.2 312.2 0 0 0 467.5 101Z" fill="#ff8877"/>
<path d="M467.5 101A312.2 312.2 0 0 1 478.7 102.2L477 115.9A298.4 298.4 0 0 0 466.3 114.7Z" fill="#66b364"/>
<path d="M466.3 114.7A298.4 298.4 0 0 1 477 115.9L475.3 129.7A284.5 284.5 0 0 0 465.1 128.6Z" fill="#ffee00"/>
<path d="M465.1 128.6A284.5 284.5 0 0 1 475.3 129.7L473.6 143.4A270.6 270.6 0 0 0 463.9 142.4Z" fill="#935835"/>
<path d="M482.1 74.6A340 340 0 0 1 494.3 76.3L492.1 90A326.1 326.1 0 0 0 480.4 88.4Z" fill="#0043d3"/>
<path d="M480.4 88.4A326.1 326.1 0 0 1 492.1 90L489.9 103.8A312.2 312.2 0 0 0 478.7 102.2Z" fill="#ff33cc"/>
<path d="M478.7 102.2A312.2 312.2 0 0 1 489.9 103.8L487.7 117.4A298.4 298.4 0 0 0 477 115.9Z" fill="#77bb64"/>
<path d="M477 115.9A298.4 298.4 0 0 1 487.7 117.4L485.5 131.1A284.5 284.5 0 0 0 475.3 129.7Z" fill="#ffee00"/>
<path d="M475.3 129.7A284.5 284.5 0 0 1 485.5 131.1L483.3 144.8A270.6 270.6 0 0 0 473.6 143.4Z" fill="#d2814e"/>
<path d="M494.3 76.3A340 340 0 0 1 506.5 78.5L503.8 92.1A326.1 326.1 0 0 0 492.1 90Z" fill="#0043d3"/>
<path d="M492.1 90A326.1 326.1 0 0 1 503.8 92.1L501.1 105.8A312.2 312.2 0 0 0 489.9 103.8Z" fill="#ff33cc"/>
<path d="M489.9 103.8A312.2 312.2 0 0 1 501.1 105.8L498.4 119.3A298.4 298.4 0 0 0 487.7 117.4Z" fill="#77bb64"/>
<path d="M487.7 117.4A298.4 298.4 0 0 1 498.4 119.3L495.7 132.9A284.5 284.5 0 0 0 485.5 131.1Z" fill="#ffee00"/>
<path d="M485.5 131.1A284.5 284.5 0 0 1 495.7 132.9L493 146.6A270.6 270.6 0 0 0 483.3 144.8Z" fill="#f39c5a"/>
<path d="M506.5 78.5A340 340 0 0 1 518.5 81.1L515.3 94.6A326.1 326.1 0 0 0 503.8 92.1Z" fill="#0053ca"/>
<path d="M503.8 92.1A326.1 326.1 0 0 1 515.3 94.6L512.1 108.2A312.2 312.2 0 0 0 501.1 105.8Z" fill="#ff6699"/>
<path d="M501.1 105.8A312.2 312.2 0 0 1 512.1 108.2L509 121.6A298.4 298.4 0 0 0 498.4 119.3Z" fill="#88c464"/>
<path d="M498.4 119.3A298.4 298.4 0 0 1 509 121.6L505.8 135.1A284.5 284.5 0 0 0 495.7 132.9Z" fill="#ffdd00"/>
<path d="M495.7 132.9A284.5 284.5 0 0 1 505.8 135.1L502.6 148.6A270.6 270.6 0 0 0 493 146.6Z" fill="#b56e43"/>
<path d="M518.5 81.1A340 340 0 0 1 530.5 84.1L526.8 97.6A326.1 326.1 0 0 0 515.3 94.6Z" fill="#0043d3"/>
<path d="M515.3 94.6A326.1 326.1 0 0 1 526.8 97.6L523.1 111A312.2 312.2 0 0 0 512.1 108.2Z" fill="#ff44bb"/>
<path d="M512.1 108.2A312.2 312.2 0 0 1 523.1 111L519.5 124.3A298.4 298.4 0 0 0 509 121.6Z" fill="#88c464"/>
<path d="M509 121.6A298.4 298.4 0 0 1 519.5 124.3L515.8 137.7A284.5 284.5 0 0 0 505.8 135.1Z" fill="#ff2200"/>
<path d="M505.8 135.1A284.5 284.5 0 0 1 515.8 137.7L512.1 151.1A270.6 270.6 0 0 0 502.6 148.6Z" fill="#a4633c"/>
<path d="M530.5 84.1A340 340 0 0 1 542.3 87.6L538.1 100.9A326.1 326.1 0 0 0 526.8 97.6Z" fill="#0043d3"/>
<path d="M526.8 97.6A326.1 326.1 0 0 1 538.1 100.9L534 114.2A312.2 312.2 0 0 0 523.1 111Z" fill="#ff33cc"/>
<path d="M523.1 111A312.2 312.2 0 0 1 534 114.2L529.8 127.3A298.4 298.4 0 0 0 519.5 124.3Z" fill="#cce664"/>
<path d="M519.5 124.3A298.4 298.4 0 0 1 529.8 127.3L525.7 140.6A284.5 284.5 0 0 0 515.8 137.7Z" fill="#ff9900"/>
<path d="M515.8 137.7A284.5 284.5 0 0 1 525.7 140.6L521.5 153.8A270.6 270.6 0 0 0 512.1 151.1Z" fill="#c57849"/>
<path d="M542.3 87.6A340 340 0 0 1 554 91.5L549.3 104.6A326.1 326.1 0 0 0 538.1 100.9Z" fill="#00b790"/>
<path d="M538.1 100.9A326.1 326.1 0 0 1 549.3 104.6L544.7 117.7A312.2 312.2 0 0 0 534 114.2Z" fill="#ffcc33"/>
<path d="M534 114.2A312.2 312.2 0 0 1 544.7 117.7L540.1 130.7A298.4 298.4 0 0 0 529.8 127.3Z" fill="#bbdd64"/>
<path d="M529.8 127.3A298.4 298.4 0 0 1 540.1 130.7L535.4 143.8A284.5 284.5 0 0 0 525.7 140.6Z" fill="#ffaa00"/>
<path d="M525.7 140.6A284.5 284.5 0 0 1 535.4 143.8L530.8 156.9A270.6 270.6 0 0 0 521.5 153.8Z" fill="#432918"/>
<path d="M554 91.5A340 340 0 0 1 565.5 95.9L560.4 108.8A326.1 326.1 0 0 0 549.3 104.6Z" fill="#0096a3"/>
<path d="M549.3 104.6A326.1 326.1 0 0 1 560.4 108.8L555.3 121.7A312.2 312.2 0 0 0 544.7 117.7Z" fill="#ff9966"/>
<path d="M544.7 117.7A312.2 312.2 0 0 1 555.3 121.7L550.2 134.5A298.4 298.4 0 0 0 540.1 130.7Z" fill="#bbdd64"/>
<path d="M540.1 130.7A298.4 298.4 0 0 1 550.2 134.5L545.1 147.5A284.5 284.5 0 0 0 535.4 143.8Z" fill="#ff8800"/>
<path d="M535.4 143.8A284.5 284.5 0 0 1 545.1 147.5L540 160.4A270.6 270.6 0 0 0 530.8 156.9Z" fill="#935835"/>
<path d="M565.5 95.9A340 340 0 0 1 576.9 100.6L571.3 113.3A326.1 326.1 0 0 0 560.4 108.8Z" fill="#0053ca"/>
<path d="M560.4 108.8A326.1 326.1 0 0 1 571.3 113.3L565.7 126.1A312.2 312.2 0 0 0 555.3 121.7Z" fill="#ff6699"/>
<path d="M555.3 121.7A312.2 312.2 0 0 1 565.7 126.1L560.2 138.7A298.4 298.4 0 0 0 550.2 134.5Z" fill="#88c464"/>
<path d="M550.2 134.5A298.4 298.4 0 0 1 560.2 138.7L554.6 151.4A284.5 284.5 0 0 0 545.1 147.5Z" fill="#ffaa00"/>
<path d="M545.1 147.5A284.5 284.5 0 0 1 554.6 151.4L549 164.2A270.6 270.6 0 0 0 540 160.4Z" fill="#814e2f"/>
<path d="M576.9 100.6A340 340 0 0 1 588.1 105.7L582 118.3A326.1 326.1 0 0 0 571.3 113.3Z" fill="#0043d3"/>
<path d="M571.3 113.3A326.1 326.1 0 0 1 582 118.3L576 130.8A312.2 312.2 0 0 0 565.7 126.1Z" fill="#ff8877"/>
<path d="M565.7 126.1A312.2 312.2 0 0 1 576 130.8L570 143.2A298.4 298.4 0 0 0 560.2 138.7Z" fill="#77bb64"/>
<path d="M560.2 138.7A298.4 298.4 0 0 1 570 143.2L564 155.7A284.5 284.5 0 0 0 554.6 151.4Z" fill="#ffee00"/>
<path d="M554.6 151.4A284.5 284.5 0 0 1 564 155.7L557.9 168.3A270.6 270.6 0 0 0 549 164.2Z" fill="#b56e43"/>
<path d="M588.1 105.7A340 340 0 0 1 599.1 111.3L592.6 123.6A326.1 326.1 0 0 0 582 118.3Z" fill="#0032dd"/>
<path d="M582 118.3A326.1 326.1 0 0 1 592.6 123.6L586.1 135.9A312.2 312.2 0 0 0 576 130.8Z" fill="#ff33cc"/>
<path d="M576 130.8A312.2 312.2 0 0 1 586.1 135.9L579.7 148.1A298.4 298.4 0 0 0 570 143.2Z" fill="#cce664"/>
<path d="M570 143.2A298.4 298.4 0 0 1 579.7 148.1L573.2 160.4A284.5 284.5 0 0 0 564 155.7Z" fill="#ffcc00"/>
<path d="M564 155.7A284.5 284.5 0 0 1 573.2 160.4L566.7 172.7A270.6 270.6 0 0 0 557.9 168.3Z" fill="#df8a53"/>
<path d="M599.1 111.3A340 340 0 0 1 609.8 117.2L602.9 129.3A326.1 326.1 0 0 0 592.6 123.6Z" fill="#00e973"/>
<path d="M592.6 123.6A326.1 326.1 0 0 1 602.9 129.3L596 141.3A312.2 312.2 0 0 0 586.1 135.9Z" fill="#ffee11"/>
<path d="M586.1 135.9A312.2 312.2 0 0 1 596 141.3L589.1 153.3A298.4 298.4 0 0 0 579.7 148.1Z" fill="#99cc64"/>
<path d="M579.7 148.1A298.4 298.4 0 0 1 589.1 153.3L582.2 165.3A284.5 284.5 0 0 0 573.2 160.4Z" fill="#ffbb00"/>
<path d="M573.2 160.4A284.5 284.5 0 0 1 582.2 165.3L575.3 177.4A270.6 270.6 0 0 0 566.7 172.7Z" fill="#432918"/>
<path d="M609.8 117.2A340 340 0 0 1 620.4 123.6L613 135.4A326.1 326.1 0 0 0 602.9 129.3Z" fill="#0075b6"/>
<path d="M602.9 129.3A326.1 326.1 0 0 1 613 135.4L605.7 147.1A312.2 312.2 0 0 0 596 141.3Z" fill="#ff9966"/>
<path d="M596 141.3A312.2 312.2 0 0 1 605.7 147.1L598.4 158.9A298.4 298.4 0 0 0 589.1 153.3Z" fill="#bbdd64"/>
<path d="M589.1 153.3A298.4 298.4 0 0 1 598.4 158.9L591 170.6A284.5 284.5 0 0 0 582.2 165.3Z" fill="#ffee00"/>
<path d="M582.2 165.3A284.5 284.5 0 0 1 591 170.6L583.7 182.4A270.6 270.6 0 0 0 575.3 177.4Z" fill="#643c24"/>
<path d="M620.4 123.6A340 340 0 0 1 630.7 130.3L622.9 141.8A326.1 326.1 0 0 0 613 135.4Z" fill="#0064c0"/>
<path d="M613 135.4A326.1 326.1 0 0 1 622.9 141.8L615.2 153.3A312.2 312.2 0 0 0 605.7 147.1Z" fill="#ff6699"/>
<path d="M605.7 147.1A312.2 312.2 0 0 1 615.2 153.3L607.4 164.7A298.4 298.4 0 0 0 598.4 158.9Z" fill="#99cc64"/>
<path d="M598.4 158.9A298.4 298.4 0 0 1 607.4 164.7L599.7 176.3A284.5 284.5 0 0 0 591 170.6Z" fill="#ffcc00"/>
<path d="M591 170.6A284.5 284.5 0 0 1 599.7 176.3L591.9 187.8A270.6 270.6 0 0 0 583.7 182.4Z" fill="#c57849"/>
<path d="M630.7 130.3A340 340 0 0 1 640.8 137.3L632.6 148.6A326.1 326.1 0 0 0 622.9 141.8Z" fill="#0053ca"/>
<path d="M622.9 141.8A326.1 326.1 0 0 1 632.6 148.6L624.4 159.8A312.2 312.2 0 0 0 615.2 153.3Z" fill="#ff6699"/>
<path d="M615.2 153.3A312.2 312.2 0 0 1 624.4 159.8L616.3 170.9A298.4 298.4 0 0 0 607.4 164.7Z" fill="#99cc64"/>
<path d="M607.4 164.7A298.4 298.4 0 0 1 616.3 170.9L608.1 182.2A284.5 284.5 0 0 0 599.7 176.3Z" fill="#ffee00"/>
<path d="M599.7 176.3A284.5 284.5 0 0 1 608.1 182.2L599.9 193.4A270.6 270.6 0 0 0 591.9 187.8Z" fill="#a4633c"/>
<path d="M640.8 137.3A340 340 0 0 1 650.6 144.8L642 155.7A326.1 326.1 0 0 0 632.6 148.6Z" fill="#0043d3"/>
<path d="M632.6 148.6A326.1 326.1 0 0 1 642 155.7L633.4 166.6A312.2 312.2 0 0 0 624.4 159.8Z" fill="#ff6699"/>
<path d="M624.4 159.8A312.2 312.2 0 0 1 633.4 166.6L624.9 177.5A298.4 298.4 0 0 0 616.3 170.9Z" fill="#bbdd64"/>
<path d="M616.3 170.9A298.4 298.4 0 0 1 624.9 177.5L616.3 188.4A284.5 284.5 0 0 0 608.1 182.2Z" fill="#ffee00"/>
<path d="M608.1 182.2A284.5 284.5 0 0 1 616.3 188.4L607.7 199.3A270.6 270.6 0 0 0 599.9 193.4Z" fill="#935835"/>
<path d="M650.6 144.8A340 340 0 0 1 660.1 152.6L651.2 163.2A326.1 326.1 0 0 0 642 155.7Z" fill="#0085ad"/>
<path d="M642 155.7A326.1 326.1 0 0 1 651.2 163.2L642.2 173.8A312.2 312.2 0 0 0 633.4 166.6Z" fill="#ff9966"/>
<path d="M633.4 166.6A312.2 312.2 0 0 1 642.2 173.8L633.3 184.3A298.4 298.4 0 0 0 624.9 177.5Z" fill="#bbdd64"/>
<path d="M624.9 177.5A298.4 298.4 0 0 1 633.3 184.3L624.3 194.9A284.5 284.5 0 0 0 616.3 188.4Z" fill="#ffcc00"/>
<path d="M616.3 188.4A284.5 284.5 0 0 1 624.3 194.9L615.3 205.5A270.6 270.6 0 0 0 607.7 199.3Z" fill="#935835"/>
<path d="M660.1 152.6A340 340 0 0 1 669.4 160.7L660 171A326.1 326.1 0 0 0 651.2 163.2Z" fill="#0064c0"/>
<path d="M651.2 163.2A326.1 326.1 0 0 1 660 171L650.7 181.2A312.2 312.2 0 0 0 642.2 173.8Z" fill="#ff6699"/>
<path d="M642.2 173.8A312.2 312.2 0 0 1 650.7 181.2L641.4 191.4A298.4 298.4 0 0 0 633.3 184.3Z" fill="#bbdd64"/>
<path d="M633.3 184.3A298.4 298.4 0 0 1 641.4 191.4L632 201.7A284.5 284.5 0 0 0 624.3 194.9Z" fill="#ffee00"/>
<path d="M624.3 194.9A284.5 284.5 0 0 1 632 201.7L622.6 212A270.6 270.6 0 0 0 615.3 205.5Z" fill="#814e2f"/>
<path d="M669.4 160.7A340 340 0 0 1 679.3 170L669.5 179.9A326.1 326.1 0 0 0 660 171Z" fill="#0064c0"/>
<path d="M660 171A326.1 326.1 0 0 1 669.5 179.9L659.7 189.8A312.2 312.2 0 0 0 650.7 181.2Z" fill="#ff9966"/>
<path d="M650.7 181.2A312.2 312.2 0 0 1 659.7 189.8L650 199.6A298.4 298.4 0 0 0 641.4 191.4Z" fill="#55aa64"/>
<path d="M641.4 191.4A298.4 298.4 0 0 1 650 199.6L640.3 209.5A284.5 284.5 0 0 0 632 201.7Z" fill="#ffee00"/>
<path d="M632 201.7A284.5 284.5 0 0 1 640.3 209.5L630.5 219.4A270.6 270.6 0 0 0 622.6 212Z" fill="#b56e43"/>
<path d="M681.6 172.3A340 340 0 0 1 691 182.2L680.7 191.6A326.1 326.1 0 0 0 671.7 182.1Z" fill="#0011f0"/>
<path d="M671.7 182.1A326.1 326.1 0 0 1 680.7 191.6L670.5 201A312.2 312.2 0 0 0 661.8 191.9Z" fill="#ff33cc"/>
<path d="M661.8 191.9A312.2 312.2 0 0 1 670.5 201L660.3 210.3A298.4 298.4 0 0 0 652.1 201.7Z" fill="#88c464"/>
<path d="M652.1 201.7A298.4 298.4 0 0 1 660.3 210.3L650.1 219.7A284.5 284.5 0 0 0 642.2 211.5Z" fill="#ffff00"/>
<path d="M642.2 211.5A284.5 284.5 0 0 1 650.1 219.7L639.8 229.1A270.6 270.6 0 0 0 632.3 221.2Z" fill="#ed9459"/>
<path d="M691 182.2A340 340 0 0 1 699.1 191.4L688.5 200.4A326.1 326.1 0 0 0 680.7 191.6Z" fill="#0021e7"/>
<path d="M680.7 191.6A326.1 326.1 0 0 1 688.5 200.4L678 209.4A312.2 312.2 0 0 0 670.5 201Z" fill="#ff44bb"/>
<path d="M670.5 201A312.2 312.2 0 0 1 678 209.4L667.5 218.4A298.4 298.4 0 0 0 660.3 210.3Z" fill="#cce664"/>
<path d="M660.3 210.3A298.4 298.4 0 0 1 667.5 218.4L656.9 227.4A284.5 284.5 0 0 0 650.1 219.7Z" fill="#ffee00"/>
<path d="M650.1 219.7A284.5 284.5 0 0 1 656.9 227.4L646.3 236.4A270.6 270.6 0 0 0 639.8 229.1Z" fill="#df8a53"/>
<path d="M699.1 191.4A340 340 0 0 1 706.9 200.9L696 209.5A326.1 326.1 0 0 0 688.5 200.4Z" fill="#0011f0"/>
<path d="M688.5 200.4A326.1 326.1 0 0 1 696 209.5L685.1 218.2A312.2 312.2 0 0 0 678 209.4Z" fill="#ff22dd"/>
<path d="M678 209.4A312.2 312.2 0 0 1 685.1 218.2L674.3 226.7A298.4 298.4 0 0 0 667.5 218.4Z" fill="#aad564"/>
<path d="M667.5 218.4A298.4 298.4 0 0 1 674.3 226.7L663.4 235.4A284.5 284.5 0 0 0 656.9 227.4Z" fill="#ffee00"/>
<path d="M656.9 227.4A284.5 284.5 0 0 1 663.4 235.4L652.5 244A270.6 270.6 0 0 0 646.3 236.4Z" fill="#ed9459"/>
<path d="M706.9 200.9A340 340 0 0 1 714.4 210.7L703.2 218.9A326.1 326.1 0 0 0 696 209.5Z" fill="#0043d3"/>
<path d="M696 209.5A326.1 326.1 0 0 1 703.2 218.9L692 227.1A312.2 312.2 0 0 0 685.1 218.2Z" fill="#ff55aa"/>
<path d="M685.1 218.2A312.2 312.2 0 0 1 692 227.1L680.9 235.3A298.4 298.4 0 0 0 674.3 226.7Z" fill="#eef764"/>
<path d="M674.3 226.7A298.4 298.4 0 0 1 680.9 235.3L669.7 243.5A284.5 284.5 0 0 0 663.4 235.4Z" fill="#ffaa00"/>
<path d="M663.4 235.4A284.5 284.5 0 0 1 669.7 243.5L658.5 251.8A270.6 270.6 0 0 0 652.5 244Z" fill="#c57849"/>
<path d="M714.4 210.7A340 340 0 0 1 721.5 220.7L710 228.5A326.1 326.1 0 0 0 703.2 218.9Z" fill="#0043d3"/>
<path d="M703.2 218.9A326.1 326.1 0 0 1 710 228.5L698.5 236.4A312.2 312.2 0 0 0 692 227.1Z" fill="#ff6699"/>
<path d="M692 227.1A312.2 312.2 0 0 1 698.5 236.4L687.1 244.1A298.4 298.4 0 0 0 680.9 235.3Z" fill="#bbdd64"/>
<path d="M680.9 235.3A298.4 298.4 0 0 1 687.1 244.1L675.6 251.9A284.5 284.5 0 0 0 669.7 243.5Z" fill="#ffee00"/>
<path d="M669.7 243.5A284.5 284.5 0 0 1 675.6 251.9L664.1 259.8A270.6 270.6 0 0 0 658.5 251.8Z" fill="#d2814e"/>
<path d="M721.5 220.7A340 340 0 0 1 728.2 231L716.5 238.4A326.1 326.1 0 0 0 710 228.5Z" fill="#0032dd"/>
<path d="M710 228.5A326.1 326.1 0 0 1 716.5 238.4L704.7 245.8A312.2 312.2 0 0 0 698.5 236.4Z" fill="#ff44bb"/>
<path d="M698.5 236.4A312.2 312.2 0 0 1 704.7 245.8L693 253.2A298.4 298.4 0 0 0 687.1 244.1Z" fill="#ddee64"/>
<path d="M687.1 244.1A298.4 298.4 0 0 1 693 253.2L681.2 260.6A284.5 284.5 0 0 0 675.6 251.9Z" fill="#ffaa00"/>
<path d="M675.6 251.9A284.5 284.5 0 0 1 681.2 260.6L669.5 268A270.6 270.6 0 0 0 664.1 259.8Z" fill="#b56e43"/>
<path d="M728.2 231A340 340 0 0 1 734.6 241.6L722.6 248.5A326.1 326.1 0 0 0 716.5 238.4Z" fill="#0032dd"/>
<path d="M716.5 238.4A326.1 326.1 0 0 1 722.6 248.5L710.5 255.5A312.2 312.2 0 0 0 704.7 245.8Z" fill="#ff6699"/>
<path d="M704.7 245.8A312.2 312.2 0 0 1 710.5 255.5L698.6 262.4A298.4 298.4 0 0 0 693 253.2Z" fill="#bbdd64"/>
<path d="M693 253.2A298.4 298.4 0 0 1 698.6 262.4L686.6 269.4A284.5 284.5 0 0 0 681.2 260.6Z" fill="#ffff00"/>
<path d="M681.2 260.6A284.5 284.5 0 0 1 686.6 269.4L674.5 276.4A270.6 270.6 0 0 0 669.5 268Z" fill="#a4633c"/>
<path d="M734.6 241.6A340 340 0 0 1 741.2 253.5L728.9 260A326.1 326.1 0 0 0 722.6 248.5Z" fill="#0032dd"/>
<path d="M722.6 248.5A326.1 326.1 0 0 1 728.9 260L716.6 266.4A312.2 312.2 0 0 0 710.5 255.5Z" fill="#ff6699"/>
<path d="M710.5 255.5A312.2 312.2 0 0 1 716.6 266.4L704.4 272.9A298.4 298.4 0 0 0 698.6 262.4Z" fill="#aad564"/>
<path d="M698.6 262.4A298.4 298.4 0 0 1 704.4 272.9L692.1 279.4A284.5 284.5 0 0 0 686.6 269.4Z" fill="#ffee00"/>
<path d="M686.6 269.4A284.5 284.5 0 0 1 692.1 279.4L679.8 285.8A270.6 270.6 0 0 0 674.5 276.4Z" fill="#d2814e"/>
<path d="M742.7 256.4A340 340 0 0 1 748.7 268.6L736.1 274.4A326.1 326.1 0 0 0 730.3 262.7Z" fill="#0085ad"/>
<path d="M730.3 262.7A326.1 326.1 0 0 1 736.1 274.4L723.5 280.3A312.2 312.2 0 0 0 718 269.1Z" fill="#ff9966"/>
<path d="M718 269.1A312.2 312.2 0 0 1 723.5 280.3L711 286.1A298.4 298.4 0 0 0 705.7 275.4Z" fill="#bbdd64"/>
<path d="M705.7 275.4A298.4 298.4 0 0 1 711 286.1L698.4 292A284.5 284.5 0 0 0 693.3 281.8Z" fill="#ffdd00"/>
<path d="M693.3 281.8A284.5 284.5 0 0 1 698.4 292L685.7 297.9A270.6 270.6 0 0 0 681 288.1Z" fill="#935835"/>
<path d="M748.7 268.6A340 340 0 0 1 753.7 279.8L740.9 285.2A326.1 326.1 0 0 0 736.1 274.4Z" fill="#0064c0"/>
<path d="M736.1 274.4A326.1 326.1 0 0 1 740.9 285.2L728 290.6A312.2 312.2 0 0 0 723.5 280.3Z" fill="#ff6699"/>
<path d="M723.5 280.3A312.2 312.2 0 0 1 728 290.6L715.3 296A298.4 298.4 0 0 0 711 286.1Z" fill="#cce664"/>
<path d="M711 286.1A298.4 298.4 0 0 1 715.3 296L702.5 301.4A284.5 284.5 0 0 0 698.4 292Z" fill="#ffee00"/>
<path d="M698.4 292A284.5 284.5 0 0 1 702.5 301.4L689.7 306.8A270.6 270.6 0 0 0 685.7 297.9Z" fill="#814e2f"/>
<path d="M753.7 279.8A340 340 0 0 1 758.2 291.3L745.3 296.2A326.1 326.1 0 0 0 740.9 285.2Z" fill="#0032dd"/>
<path d="M740.9 285.2A326.1 326.1 0 0 1 745.3 296.2L732.3 301.1A312.2 312.2 0 0 0 728 290.6Z" fill="#ff33cc"/>
<path d="M728 290.6A312.2 312.2 0 0 1 732.3 301.1L719.4 306A298.4 298.4 0 0 0 715.3 296Z" fill="#aad564"/>
<path d="M715.3 296A298.4 298.4 0 0 1 719.4 306L706.4 311A284.5 284.5 0 0 0 702.5 301.4Z" fill="#ff6600"/>
<path d="M702.5 301.4A284.5 284.5 0 0 1 706.4 311L693.4 315.9A270.6 270.6 0 0 0 689.7 306.8Z" fill="#df8a53"/>
<path d="M758.2 291.3A340 340 0 0 1 762.4 302.9L749.2 307.3A326.1 326.1 0 0 0 745.3 296.2Z" fill="#0043d3"/>
<path d="M745.3 296.2A326.1 326.1 0 0 1 749.2 307.3L736.1 311.8A312.2 312.2 0 0 0 732.3 301.1Z" fill="#ff6699"/>
<path d="M732.3 301.1A312.2 312.2 0 0 1 736.1 311.8L723 316.2A298.4 298.4 0 0 0 719.4 306Z" fill="#88c464"/>
<path d="M719.4 306A298.4 298.4 0 0 1 723 316.2L709.8 320.7A284.5 284.5 0 0 0 706.4 311Z" fill="#ffcc00"/>
<path d="M706.4 311A284.5 284.5 0 0 1 709.8 320.7L696.7 325.1A270.6 270.6 0 0 0 693.4 315.9Z" fill="#b56e43"/>
<path d="M762.4 302.9A340 340 0 0 1 766.2 314.6L752.8 318.6A326.1 326.1 0 0 0 749.2 307.3Z" fill="#0053ca"/>
<path d="M749.2 307.3A326.1 326.1 0 0 1 752.8 318.6L739.5 322.6A312.2 312.2 0 0 0 736.1 311.8Z" fill="#ff6699"/>
<path d="M736.1 311.8A312.2 312.2 0 0 1 739.5 322.6L726.3 326.5A298.4 298.4 0 0 0 723 316.2Z" fill="#bbdd64"/>
<path d="M723 316.2A298.4 298.4 0 0 1 726.3 326.5L713 330.5A284.5 284.5 0 0 0 709.8 320.7Z" fill="#ffee00"/>
<path d="M709.8 320.7A284.5 284.5 0 0 1 713 330.5L699.7 334.5A270.6 270.6 0 0 0 696.7 325.1Z" fill="#a4633c"/>
<path d="M766.2 314.6A340 340 0 0 1 769.5 326.5L756 330A326.1 326.1 0 0 0 752.8 318.6Z" fill="#0043d3"/>
<path d="M752.8 318.6A326.1 326.1 0 0 1 756 330L742.6 333.5A312.2 312.2 0 0 0 739.5 322.6Z" fill="#ff6699"/>
<path d="M739.5 322.6A312.2 312.2 0 0 1 742.6 333.5L729.2 336.9A298.4 298.4 0 0 0 726.3 326.5Z" fill="#88c464"/>
<path d="M726.3 326.5A298.4 298.4 0 0 1 729.2 336.9L715.8 340.4A284.5 284.5 0 0 0 713 330.5Z" fill="#ffee00"/>
<path d="M713 330.5A284.5 284.5 0 0 1 715.8 340.4L702.3 343.9A270.6 270.6 0 0 0 699.7 334.5Z" fill="#b56e43"/>
<path d="M769.5 326.5A340 340 0 0 1 772.4 338.5L758.8 341.5A326.1 326.1 0 0 0 756 330Z" fill="#0032dd"/>
<path d="M756 330A326.1 326.1 0 0 1 758.8 341.5L745.2 344.5A312.2 312.2 0 0 0 742.6 333.5Z" fill="#ff44bb"/>
<path d="M742.6 333.5A312.2 312.2 0 0 1 745.2 344.5L731.7 347.5A298.4 298.4 0 0 0 729.2 336.9Z" fill="#ddee64"/>
<path d="M729.2 336.9A298.4 298.4 0 0 1 731.7 347.5L718.2 350.5A284.5 284.5 0 0 0 715.8 340.4Z" fill="#ffaa00"/>
<path d="M715.8 340.4A284.5 284.5 0 0 1 718.2 350.5L704.6 353.5A270.6 270.6 0 0 0 702.3 343.9Z" fill="#c57849"/>
<path d="M772.4 338.5A340 340 0 0 1 775 351.8L761.4 354.3A326.1 326.1 0 0 0 758.8 341.5Z" fill="#0021e7"/>
<path d="M758.8 341.5A326.1 326.1 0 0 1 761.4 354.3L747.7 356.7A312.2 312.2 0 0 0 745.2 344.5Z" fill="#ff22dd"/>
<path d="M745.2 344.5A312.2 312.2 0 0 1 747.7 356.7L734.1 359.2A298.4 298.4 0 0 0 731.7 347.5Z" fill="#cce664"/>
<path d="M731.7 347.5A298.4 298.4 0 0 1 734.1 359.2L720.4 361.6A284.5 284.5 0 0 0 718.2 350.5Z" fill="#ffbb00"/>
<path d="M718.2 350.5A284.5 284.5 0 0 1 720.4 361.6L706.7 364.1A270.6 270.6 0 0 0 704.6 353.5Z" fill="#c57849"/>
<path d="M775.6 355A340 340 0 0 1 777.6 368.5L763.8 370.3A326.1 326.1 0 0 0 761.9 357.4Z" fill="#0085ad"/>
<path d="M761.9 357.4A326.1 326.1 0 0 1 763.8 370.3L750 372.1A312.2 312.2 0 0 0 748.2 359.7Z" fill="#ff7788"/>
<path d="M748.2 359.7A312.2 312.2 0 0 1 750 372.1L736.3 373.8A298.4 298.4 0 0 0 734.6 362Z" fill="#cce664"/>
<path d="M734.6 362A298.4 298.4 0 0 1 736.3 373.8L722.6 375.6A284.5 284.5 0 0 0 720.9 364.3Z" fill="#ff5500"/>
<path d="M720.9 364.3A284.5 284.5 0 0 1 722.6 375.6L708.8 377.4A270.6 270.6 0 0 0 707.2 366.7Z" fill="#814e2f"/>
<path d="M777.6 368.5A340 340 0 0 1 779 380.8L765.1 382A326.1 326.1 0 0 0 763.8 370.3Z" fill="#0043d3"/>
<path d="M763.8 370.3A326.1 326.1 0 0 1 765.1 382L751.3 383.3A312.2 312.2 0 0 0 750 372.1Z" fill="#ff44bb"/>
<path d="M750 372.1A312.2 312.2 0 0 1 751.3 383.3L737.5 384.6A298.4 298.4 0 0 0 736.3 373.8Z" fill="#ddee64"/>
<path d="M736.3 373.8A298.4 298.4 0 0 1 737.5 384.6L723.7 385.9A284.5 284.5 0 0 0 722.6 375.6Z" fill="#ffbb00"/>
<path d="M722.6 375.6A284.5 284.5 0 0 1 723.7 385.9L709.9 387.1A270.6 270.6 0 0 0 708.8 377.4Z" fill="#d2814e"/>
<path d="M779 380.8A340 340 0 0 1 779.9 393.1L766 393.8A326.1 326.1 0 0 0 765.1 382Z" fill="#0096a3"/>
<path d="M765.1 382A326.1 326.1 0 0 1 766 393.8L752.1 394.6A312.2 312.2 0 0 0 751.3 383.3Z" fill="#ff8877"/>
<path d="M751.3 383.3A312.2 312.2 0 0 1 752.1 394.6L738.3 395.4A298.4 298.4 0 0 0 737.5 384.6Z" fill="#ddee64"/>
<path d="M737.5 384.6A298.4 298.4 0 0 1 738.3 395.4L724.5 396.2A284.5 284.5 0 0 0 723.7 385.9Z" fill="#ffbb00"/>
<path d="M723.7 385.9A284.5 284.5 0 0 1 724.5 396.2L710.6 396.9A270.6 270.6 0 0 0 709.9 387.1Z" fill="#643c24"/>
<path d="M779.9 393.1A340 340 0 0 1 780.3 405.4L766.4 405.7A326.1 326.1 0 0 0 766 393.8Z" fill="#0032dd"/>
<path d="M766 393.8A326.1 326.1 0 0 1 766.4 405.7L752.5 405.9A312.2 312.2 0 0 0 752.1 394.6Z" fill="#ff33cc"/>
<path d="M752.1 394.6A312.2 312.2 0 0 1 752.5 405.9L738.7 406.2A298.4 298.4 0 0 0 738.3 395.4Z" fill="#99cc64"/>
<path d="M738.3 395.4A298.4 298.4 0 0 1 738.7 406.2L724.8 406.5A284.5 284.5 0 0 0 724.5 396.2Z" fill="#ffcc00"/>
<path d="M724.5 396.2A284.5 284.5 0 0 1 724.8 406.5L710.9 406.7A270.6 270.6 0 0 0 710.6 396.9Z" fill="#df8a53"/>
<path d="M780.3 405.4A340 340 0 0 1 780.4 417.7L766.5 417.5A326.1 326.1 0 0 0 766.4 405.7Z" fill="#0043d3"/>
<path d="M766.4 405.7A326.1 326.1 0 0 1 766.5 417.5L752.6 417.3A312.2 312.2 0 0 0 752.5 405.9Z" fill="#ff55aa"/>
<path d="M752.5 405.9A312.2 312.2 0 0 1 752.6 417.3L738.8 417A298.4 298.4 0 0 0 738.7 406.2Z" fill="#99cc64"/>
<path d="M738.7 406.2A298.4 298.4 0 0 1 738.8 417L724.9 416.8A284.5 284.5 0 0 0 724.8 406.5Z" fill="#ffee00"/>
<path d="M724.8 406.5A284.5 284.5 0 0 1 724.9 416.8L711 416.6A270.6 270.6 0 0 0 710.9 406.7Z" fill="#d2814e"/>
<path d="M780.4 417.7A340 340 0 0 1 779.9 430.1L766 429.3A326.1 326.1 0 0 0 766.5 417.5Z" fill="#0011f0"/>
<path d="M766.5 417.5A326.1 326.1 0 0 1 766 429.3L752.2 428.6A312.2 312.2 0 0 0 752.6 417.3Z" fill="#ff33cc"/>
<path d="M752.6 417.3A312.2 312.2 0 0 1 752.2 428.6L738.4 427.9A298.4 298.4 0 0 0 738.8 417Z" fill="#99cc64"/>
<path d="M738.8 417A298.4 298.4 0 0 1 738.4 427.9L724.5 427.1A284.5 284.5 0 0 0 724.9 416.8Z" fill="#ffee00"/>
<path d="M724.9 416.8A284.5 284.5 0 0 1 724.5 427.1L710.6 426.4A270.6 270.6 0 0 0 711 416.6Z" fill="#df8a53"/>
<path d="M779.9 430.1A340 340 0 0 1 779 442.4L765.2 441.2A326.1 326.1 0 0 0 766 429.3Z" fill="#0096a3"/>
<path d="M766 429.3A326.1 326.1 0 0 1 765.2 441.2L751.3 439.9A312.2 312.2 0 0 0 752.2 428.6Z" fill="#ff9966"/>
<path d="M752.2 428.6A312.2 312.2 0 0 1 751.3 439.9L737.6 438.7A298.4 298.4 0 0 0 738.4 427.9Z" fill="#cce664"/>
<path d="M738.4 427.9A298.4 298.4 0 0 1 737.6 438.7L723.8 437.4A284.5 284.5 0 0 0 724.5 427.1Z" fill="#ffaa00"/>
<path d="M724.5 427.1A284.5 284.5 0 0 1 723.8 437.4L709.9 436.2A270.6 270.6 0 0 0 710.6 426.4Z" fill="#643c24"/>
<path d="M779 442.4A340 340 0 0 1 777.7 454.7L763.9 452.9A326.1 326.1 0 0 0 765.2 441.2Z" fill="#0043d3"/>
<path d="M765.2 441.2A326.1 326.1 0 0 1 763.9 452.9L750.1 451.2A312.2 312.2 0 0 0 751.3 439.9Z" fill="#ff55aa"/>
<path d="M751.3 439.9A312.2 312.2 0 0 1 750.1 451.2L736.4 449.5A298.4 298.4 0 0 0 737.6 438.7Z" fill="#aad564"/>
<path d="M737.6 438.7A298.4 298.4 0 0 1 736.4 449.5L722.7 447.7A284.5 284.5 0 0 0 723.8 437.4Z" fill="#ffee00"/>
<path d="M723.8 437.4A284.5 284.5 0 0 1 722.7 447.7L708.9 446A270.6 270.6 0 0 0 709.9 436.2Z" fill="#d2814e"/>
<path d="M777.7 454.7A340 340 0 0 1 775.9 466.9L762.2 464.7A326.1 326.1 0 0 0 763.9 452.9Z" fill="#0096a3"/>
<path d="M763.9 452.9A326.1 326.1 0 0 1 762.2 464.7L748.5 462.4A312.2 312.2 0 0 0 750.1 451.2Z" fill="#ff9966"/>
<path d="M750.1 451.2A312.2 312.2 0 0 1 748.5 462.4L734.9 460.2A298.4 298.4 0 0 0 736.4 449.5Z" fill="#bbdd64"/>
<path d="M736.4 449.5A298.4 298.4 0 0 1 734.9 460.2L721.2 457.9A284.5 284.5 0 0 0 722.7 447.7Z" fill="#ff9900"/>
<path d="M722.7 447.7A284.5 284.5 0 0 1 721.2 457.9L707.4 455.7A270.6 270.6 0 0 0 708.9 446Z" fill="#643c24"/>
<path d="M775.9 466.9A340 340 0 0 1 773.7 479.1L760.1 476.3A326.1 326.1 0 0 0 762.2 464.7Z" fill="#0043d3"/>
<path d="M762.2 464.7A326.1 326.1 0 0 1 760.1 476.3L746.5 473.6A312.2 312.2 0 0 0 748.5 462.4Z" fill="#ff6699"/>
<path d="M748.5 462.4A312.2 312.2 0 0 1 746.5 473.6L732.9 470.9A298.4 298.4 0 0 0 734.9 460.2Z" fill="#99cc64"/>
<path d="M734.9 460.2A298.4 298.4 0 0 1 732.9 470.9L719.3 468.1A284.5 284.5 0 0 0 721.2 457.9Z" fill="#ffee00"/>
<path d="M721.2 457.9A284.5 284.5 0 0 1 719.3 468.1L705.7 465.4A270.6 270.6 0 0 0 707.4 455.7Z" fill="#df8a53"/>
<path d="M773.7 479.1A340 340 0 0 1 770.8 492.4L757.3 489.1A326.1 326.1 0 0 0 760.1 476.3Z" fill="#00b790"/>
<path d="M760.1 476.3A326.1 326.1 0 0 1 757.3 489.1L743.7 485.8A312.2 312.2 0 0 0 746.5 473.6Z" fill="#ffee11"/>
<path d="M746.5 473.6A312.2 312.2 0 0 1 743.7 485.8L730.3 482.6A298.4 298.4 0 0 0 732.9 470.9Z" fill="#aad564"/>
<path d="M732.9 470.9A298.4 298.4 0 0 1 730.3 482.6L716.8 479.3A284.5 284.5 0 0 0 719.3 468.1Z" fill="#ffff00"/>
<path d="M719.3 468.1A284.5 284.5 0 0 1 716.8 479.3L703.3 476A270.6 270.6 0 0 0 705.7 465.4Z" fill="#643c24"/>
<path d="M770 495.6A340 340 0 0 1 766.3 508.7L753 504.8A326.1 326.1 0 0 0 756.5 492.1Z" fill="#0064c0"/>
<path d="M756.5 492.1A326.1 326.1 0 0 1 753 504.8L739.7 500.8A312.2 312.2 0 0 0 743 488.7Z" fill="#ff8877"/>
<path d="M743 488.7A312.2 312.2 0 0 1 739.7 500.8L726.5 496.9A298.4 298.4 0 0 0 729.6 485.3Z" fill="#88c464"/>
<path d="M729.6 485.3A298.4 298.4 0 0 1 726.5 496.9L713.1 492.9A284.5 284.5 0 0 0 716.2 481.9Z" fill="#ffcc00"/>
<path d="M716.2 481.9A284.5 284.5 0 0 1 713.1 492.9L699.8 489A270.6 270.6 0 0 0 702.7 478.5Z" fill="#b56e43"/>
<path d="M766.3 508.7A340 340 0 0 1 762.6 520.5L749.4 516.1A326.1 326.1 0 0 0 753 504.8Z" fill="#0096a3"/>
<path d="M753 504.8A326.1 326.1 0 0 1 749.4 516.1L736.3 511.6A312.2 312.2 0 0 0 739.7 500.8Z" fill="#ff9966"/>
<path d="M739.7 500.8A312.2 312.2 0 0 1 736.3 511.6L723.2 507.2A298.4 298.4 0 0 0 726.5 496.9Z" fill="#cce664"/>
<path d="M726.5 496.9A298.4 298.4 0 0 1 723.2 507.2L710 502.8A284.5 284.5 0 0 0 713.1 492.9Z" fill="#ffcc00"/>
<path d="M713.1 492.9A284.5 284.5 0 0 1 710 502.8L696.8 498.4A270.6 270.6 0 0 0 699.8 489Z" fill="#643c24"/>
<path d="M762.6 520.5A340 340 0 0 1 758.5 532.2L745.5 527.3A326.1 326.1 0 0 0 749.4 516.1Z" fill="#0043d3"/>
<path d="M749.4 516.1A326.1 326.1 0 0 1 745.5 527.3L732.5 522.3A312.2 312.2 0 0 0 736.3 511.6Z" fill="#ff6699"/>
<path d="M736.3 511.6A312.2 312.2 0 0 1 732.5 522.3L719.5 517.5A298.4 298.4 0 0 0 723.2 507.2Z" fill="#99cc64"/>
<path d="M723.2 507.2A298.4 298.4 0 0 1 719.5 517.5L706.5 512.5A284.5 284.5 0 0 0 710 502.8Z" fill="#ffcc00"/>
<path d="M710 502.8A284.5 284.5 0 0 1 706.5 512.5L693.5 507.6A270.6 270.6 0 0 0 696.8 498.4Z" fill="#935835"/>
<path d="M758.5 532.2A340 340 0 0 1 753.9 543.7L741.1 538.3A326.1 326.1 0 0 0 745.5 527.3Z" fill="#0064c0"/>
<path d="M745.5 527.3A326.1 326.1 0 0 1 741.1 538.3L728.2 532.9A312.2 312.2 0 0 0 732.5 522.3Z" fill="#ff9966"/>
<path d="M732.5 522.3A312.2 312.2 0 0 1 728.2 532.9L715.5 527.5A298.4 298.4 0 0 0 719.5 517.5Z" fill="#88c464"/>
<path d="M719.5 517.5A298.4 298.4 0 0 1 715.5 527.5L702.7 522.2A284.5 284.5 0 0 0 706.5 512.5Z" fill="#ffee00"/>
<path d="M706.5 512.5A284.5 284.5 0 0 1 702.7 522.2L689.9 516.8A270.6 270.6 0 0 0 693.5 507.6Z" fill="#a4633c"/>
<path d="M753.9 543.7A340 340 0 0 1 748.9 555L736.3 549.1A326.1 326.1 0 0 0 741.1 538.3Z" fill="#0021e7"/>
<path d="M741.1 538.3A326.1 326.1 0 0 1 736.3 549.1L723.7 543.3A312.2 312.2 0 0 0 728.2 532.9Z" fill="#ff33cc"/>
<path d="M728.2 532.9A312.2 312.2 0 0 1 723.7 543.3L711.1 537.5A298.4 298.4 0 0 0 715.5 527.5Z" fill="#aad564"/>
<path d="M715.5 527.5A298.4 298.4 0 0 1 711.1 537.5L698.5 531.6A284.5 284.5 0 0 0 702.7 522.2Z" fill="#ffee00"/>
<path d="M702.7 522.2A284.5 284.5 0 0 1 698.5 531.6L685.9 525.8A270.6 270.6 0 0 0 689.9 516.8Z" fill="#df8a53"/>
<path d="M748.9 555A340 340 0 0 1 743.5 566.1L731.1 559.8A326.1 326.1 0 0 0 736.3 549.1Z" fill="#0043d3"/>
<path d="M736.3 549.1A326.1 326.1 0 0 1 731.1 559.8L718.7 553.5A312.2 312.2 0 0 0 723.7 543.3Z" fill="#ff6699"/>
<path d="M723.7 543.3A312.2 312.2 0 0 1 718.7 553.5L706.4 547.2A298.4 298.4 0 0 0 711.1 537.5Z" fill="#99cc64"/>
<path d="M711.1 537.5A298.4 298.4 0 0 1 706.4 547.2L694 540.9A284.5 284.5 0 0 0 698.5 531.6Z" fill="#ffee00"/>
<path d="M698.5 531.6A284.5 284.5 0 0 1 694 540.9L681.6 534.6A270.6 270.6 0 0 0 685.9 525.8Z" fill="#935835"/>
<path d="M743.5 566.1A340 340 0 0 1 737.7 577L725.5 570.3A326.1 326.1 0 0 0 731.1 559.8Z" fill="#0075b6"/>
<path d="M731.1 559.8A326.1 326.1 0 0 1 725.5 570.3L713.4 563.5A312.2 312.2 0 0 0 718.7 553.5Z" fill="#ff9966"/>
<path d="M718.7 553.5A312.2 312.2 0 0 1 713.4 563.5L701.3 556.8A298.4 298.4 0 0 0 706.4 547.2Z" fill="#88c464"/>
<path d="M706.4 547.2A298.4 298.4 0 0 1 701.3 556.8L689.1 550.1A284.5 284.5 0 0 0 694 540.9Z" fill="#ffee00"/>
<path d="M694 540.9A284.5 284.5 0 0 1 689.1 550.1L677 543.3A270.6 270.6 0 0 0 681.6 534.6Z" fill="#814e2f"/>
<path d="M737.7 577A340 340 0 0 1 731.5 587.7L719.6 580.5A326.1 326.1 0 0 0 725.5 570.3Z" fill="#0075b6"/>
<path d="M725.5 570.3A326.1 326.1 0 0 1 719.6 580.5L707.7 573.4A312.2 312.2 0 0 0 713.4 563.5Z" fill="#ff9966"/>
<path d="M713.4 563.5A312.2 312.2 0 0 1 707.7 573.4L695.9 566.2A298.4 298.4 0 0 0 701.3 556.8Z" fill="#bbdd64"/>
<path d="M701.3 556.8A298.4 298.4 0 0 1 695.9 566.2L684 559A284.5 284.5 0 0 0 689.1 550.1Z" fill="#ffdd00"/>
<path d="M689.1 550.1A284.5 284.5 0 0 1 684 559L672.1 551.9A270.6 270.6 0 0 0 677 543.3Z" fill="#814e2f"/>
<path d="M731.5 587.7A340 340 0 0 1 724.9 598.2L713.2 590.6A326.1 326.1 0 0 0 719.6 580.5Z" fill="#0085ad"/>
<path d="M719.6 580.5A326.1 326.1 0 0 1 713.2 590.6L701.6 583A312.2 312.2 0 0 0 707.7 573.4Z" fill="#ff9966"/>
<path d="M707.7 573.4A312.2 312.2 0 0 1 701.6 583L690.1 575.4A298.4 298.4 0 0 0 695.9 566.2Z" fill="#bbdd64"/>
<path d="M695.9 566.2A298.4 298.4 0 0 1 690.1 575.4L678.4 567.8A284.5 284.5 0 0 0 684 559Z" fill="#ffcc00"/>
<path d="M684 559A284.5 284.5 0 0 1 678.4 567.8L666.8 560.2A270.6 270.6 0 0 0 672.1 551.9Z" fill="#935835"/>
<path d="M724.9 598.2A340 340 0 0 1 717.9 608.4L706.6 600.4A326.1 326.1 0 0 0 713.2 590.6Z" fill="#0096a3"/>
<path d="M713.2 590.6A326.1 326.1 0 0 1 706.6 600.4L695.2 592.4A312.2 312.2 0 0 0 701.6 583Z" fill="#ff9966"/>
<path d="M701.6 583A312.2 312.2 0 0 1 695.2 592.4L684 584.4A298.4 298.4 0 0 0 690.1 575.4Z" fill="#cce664"/>
<path d="M690.1 575.4A298.4 298.4 0 0 1 684 584.4L672.6 576.4A284.5 284.5 0 0 0 678.4 567.8Z" fill="#ffcc00"/>
<path d="M678.4 567.8A284.5 284.5 0 0 1 672.6 576.4L661.3 568.3A270.6 270.6 0 0 0 666.8 560.2Z" fill="#643c24"/>
<path d="M717.9 608.4A340 340 0 0 1 709.8 619.4L698.8 611A326.1 326.1 0 0 0 706.6 600.4Z" fill="#0053ca"/>
<path d="M706.6 600.4A326.1 326.1 0 0 1 698.8 611L687.8 602.5A312.2 312.2 0 0 0 695.2 592.4Z" fill="#ff8877"/>
<path d="M695.2 592.4A312.2 312.2 0 0 1 687.8 602.5L676.8 594.1A298.4 298.4 0 0 0 684 584.4Z" fill="#88c464"/>
<path d="M684 584.4A298.4 298.4 0 0 1 676.8 594.1L665.8 585.6A284.5 284.5 0 0 0 672.6 576.4Z" fill="#ffee00"/>
<path d="M672.6 576.4A284.5 284.5 0 0 1 665.8 585.6L654.8 577.1A270.6 270.6 0 0 0 661.3 568.3Z" fill="#935835"/>
<path d="M707.8 622A340 340 0 0 1 699.1 632.6L688.5 623.6A326.1 326.1 0 0 0 696.8 613.4Z" fill="#0053ca"/>
<path d="M696.8 613.4A326.1 326.1 0 0 1 688.5 623.6L678 614.6A312.2 312.2 0 0 0 685.9 604.8Z" fill="#ff6699"/>
<path d="M685.9 604.8A312.2 312.2 0 0 1 678 614.6L667.5 605.6A298.4 298.4 0 0 0 675.1 596.3Z" fill="#cce664"/>
<path d="M675.1 596.3A298.4 298.4 0 0 1 667.5 605.6L656.9 596.6A284.5 284.5 0 0 0 664.1 587.7Z" fill="#ff9900"/>
<path d="M664.1 587.7A284.5 284.5 0 0 1 656.9 596.6L646.3 587.6A270.6 270.6 0 0 0 653.2 579.1Z" fill="#b56e43"/>
<path d="M699.1 632.6A340 340 0 0 1 690.9 641.9L680.7 632.5A326.1 326.1 0 0 0 688.5 623.6Z" fill="#0043d3"/>
<path d="M688.5 623.6A326.1 326.1 0 0 1 680.7 632.5L670.4 623.1A312.2 312.2 0 0 0 678 614.6Z" fill="#ff8877"/>
<path d="M678 614.6A312.2 312.2 0 0 1 670.4 623.1L660.3 613.8A298.4 298.4 0 0 0 667.5 605.6Z" fill="#88c464"/>
<path d="M667.5 605.6A298.4 298.4 0 0 1 660.3 613.8L650 604.4A284.5 284.5 0 0 0 656.9 596.6Z" fill="#ffee00"/>
<path d="M656.9 596.6A284.5 284.5 0 0 1 650 604.4L639.8 595A270.6 270.6 0 0 0 646.3 587.6Z" fill="#c57849"/>
<path d="M690.9 641.9A340 340 0 0 1 682.4 650.8L672.5 641.1A326.1 326.1 0 0 0 680.7 632.5Z" fill="#0021e7"/>
<path d="M680.7 632.5A326.1 326.1 0 0 1 672.5 641.1L662.6 631.3A312.2 312.2 0 0 0 670.4 623.1Z" fill="#ff55aa"/>
<path d="M670.4 623.1A312.2 312.2 0 0 1 662.6 631.3L652.8 621.6A298.4 298.4 0 0 0 660.3 613.8Z" fill="#77bb64"/>
<path d="M660.3 613.8A298.4 298.4 0 0 1 652.8 621.6L642.9 611.9A284.5 284.5 0 0 0 650 604.4Z" fill="#ffee00"/>
<path d="M650 604.4A284.5 284.5 0 0 1 642.9 611.9L633 602.1A270.6 270.6 0 0 0 639.8 595Z" fill="#df8a53"/>
<path d="M682.4 650.8A340 340 0 0 1 673.5 659.5L664 649.4A326.1 326.1 0 0 0 672.5 641.1Z" fill="#0053ca"/>
<path d="M672.5 641.1A326.1 326.1 0 0 1 664 649.4L654.5 639.3A312.2 312.2 0 0 0 662.6 631.3Z" fill="#ff7788"/>
<path d="M662.6 631.3A312.2 312.2 0 0 1 654.5 639.3L645 629.2A298.4 298.4 0 0 0 652.8 621.6Z" fill="#aad564"/>
<path d="M652.8 621.6A298.4 298.4 0 0 1 645 629.2L635.5 619.1A284.5 284.5 0 0 0 642.9 611.9Z" fill="#ffcc00"/>
<path d="M642.9 611.9A284.5 284.5 0 0 1 635.5 619.1L625.9 609A270.6 270.6 0 0 0 633 602.1Z" fill="#d2814e"/>
<path d="M673.5 659.5A340 340 0 0 1 664.4 667.8L655.2 657.4A326.1 326.1 0 0 0 664 649.4Z" fill="#0064c0"/>
<path d="M664 649.4A326.1 326.1 0 0 1 655.2 657.4L646 646.9A312.2 312.2 0 0 0 654.5 639.3Z" fill="#ff9966"/>
<path d="M654.5 639.3A312.2 312.2 0 0 1 646 646.9L637 636.5A298.4 298.4 0 0 0 645 629.2Z" fill="#55aa64"/>
<path d="M645 629.2A298.4 298.4 0 0 1 637 636.5L627.8 626.1A284.5 284.5 0 0 0 635.5 619.1Z" fill="#ffcc00"/>
<path d="M635.5 619.1A284.5 284.5 0 0 1 627.8 626.1L618.6 615.6A270.6 270.6 0 0 0 625.9 609Z" fill="#814e2f"/>
<path d="M664.4 667.8A340 340 0 0 1 654.9 675.8L646.1 665A326.1 326.1 0 0 0 655.2 657.4Z" fill="#0064c0"/>
<path d="M655.2 657.4A326.1 326.1 0 0 1 646.1 665L637.4 654.2A312.2 312.2 0 0 0 646 646.9Z" fill="#ff9966"/>
<path d="M646 646.9A312.2 312.2 0 0 1 637.4 654.2L628.7 643.5A298.4 298.4 0 0 0 637 636.5Z" fill="#77bb64"/>
<path d="M637 636.5A298.4 298.4 0 0 1 628.7 643.5L619.9 632.7A284.5 284.5 0 0 0 627.8 626.1Z" fill="#ffaa00"/>
<path d="M627.8 626.1A284.5 284.5 0 0 1 619.9 632.7L611.1 622A270.6 270.6 0 0 0 618.6 615.6Z" fill="#b56e43"/>
<path d="M654.9 675.8A340 340 0 0 1 645.2 683.4L636.8 672.3A326.1 326.1 0 0 0 646.1 665Z" fill="#0032dd"/>
<path d="M646.1 665A326.1 326.1 0 0 1 636.8 672.3L628.4 661.2A312.2 312.2 0 0 0 637.4 654.2Z" fill="#ff55aa"/>
<path d="M637.4 654.2A312.2 312.2 0 0 1 628.4 661.2L620.1 650.2A298.4 298.4 0 0 0 628.7 643.5Z" fill="#88c464"/>
<path d="M628.7 643.5A298.4 298.4 0 0 1 620.1 650.2L611.7 639.1A284.5 284.5 0 0 0 619.9 632.7Z" fill="#ffee00"/>
<path d="M619.9 632.7A284.5 284.5 0 0 1 611.7 639.1L603.4 628A270.6 270.6 0 0 0 611.1 622Z" fill="#d2814e"/>
<path d="M645.2 683.4A340 340 0 0 1 635.1 690.7L627.2 679.3A326.1 326.1 0 0 0 636.8 672.3Z" fill="#0043d3"/>
<path d="M636.8 672.3A326.1 326.1 0 0 1 627.2 679.3L619.2 667.9A312.2 312.2 0 0 0 628.4 661.2Z" fill="#ff6699"/>
<path d="M628.4 661.2A312.2 312.2 0 0 1 619.2 667.9L611.3 656.6A298.4 298.4 0 0 0 620.1 650.2Z" fill="#88c464"/>
<path d="M620.1 650.2A298.4 298.4 0 0 1 611.3 656.6L603.3 645.2A284.5 284.5 0 0 0 611.7 639.1Z" fill="#ffcc00"/>
<path d="M611.7 639.1A284.5 284.5 0 0 1 603.3 645.2L595.4 633.8A270.6 270.6 0 0 0 603.4 628Z" fill="#935835"/>
<path d="M635.1 690.7A340 340 0 0 1 624.9 697.6L617.3 685.9A326.1 326.1 0 0 0 627.2 679.3Z" fill="#0032dd"/>
<path d="M627.2 679.3A326.1 326.1 0 0 1 617.3 685.9L609.8 674.3A312.2 312.2 0 0 0 619.2 667.9Z" fill="#ff6699"/>
<path d="M619.2 667.9A312.2 312.2 0 0 1 609.8 674.3L602.3 662.7A298.4 298.4 0 0 0 611.3 656.6Z" fill="#88c464"/>
<path d="M611.3 656.6A298.4 298.4 0 0 1 602.3 662.7L594.8 651A284.5 284.5 0 0 0 603.3 645.2Z" fill="#ffee00"/>
<path d="M603.3 645.2A284.5 284.5 0 0 1 594.8 651L587.2 639.3A270.6 270.6 0 0 0 595.4 633.8Z" fill="#814e2f"/>
<path d="M624.9 697.6A340 340 0 0 1 614.3 704.1L607.2 692.2A326.1 326.1 0 0 0 617.3 685.9Z" fill="#0021e7"/>
<path d="M617.3 685.9A326.1 326.1 0 0 1 607.2 692.2L600.1 680.2A312.2 312.2 0 0 0 609.8 674.3Z" fill="#ff33cc"/>
<path d="M609.8 674.3A312.2 312.2 0 0 1 600.1 680.2L593.1 668.4A298.4 298.4 0 0 0 602.3 662.7Z" fill="#44a264"/>
<path d="M602.3 662.7A298.4 298.4 0 0 1 593.1 668.4L586 656.4A284.5 284.5 0 0 0 594.8 651Z" fill="#ffee00"/>
<path d="M594.8 651A284.5 284.5 0 0 1 586 656.4L578.8 644.5A270.6 270.6 0 0 0 587.2 639.3Z" fill="#df8a53"/>
<path d="M614.3 704.1A340 340 0 0 1 603.6 710.3L596.9 698.1A326.1 326.1 0 0 0 607.2 692.2Z" fill="#0053ca"/>
<path d="M607.2 692.2A326.1 326.1 0 0 1 596.9 698.1L590.3 685.9A312.2 312.2 0 0 0 600.1 680.2Z" fill="#ff8877"/>
<path d="M600.1 680.2A312.2 312.2 0 0 1 590.3 685.9L583.6 673.8A298.4 298.4 0 0 0 593.1 668.4Z" fill="#66b364"/>
<path d="M593.1 668.4A298.4 298.4 0 0 1 583.6 673.8L577 661.6A284.5 284.5 0 0 0 586 656.4Z" fill="#ffbb00"/>
<path d="M586 656.4A284.5 284.5 0 0 1 577 661.6L570.3 649.4A270.6 270.6 0 0 0 578.8 644.5Z" fill="#935835"/>
<path d="M603.6 710.3A340 340 0 0 1 592.6 716L586.4 703.6A326.1 326.1 0 0 0 596.9 698.1Z" fill="#0075b6"/>
<path d="M596.9 698.1A326.1 326.1 0 0 1 586.4 703.6L580.2 691.2A312.2 312.2 0 0 0 590.3 685.9Z" fill="#ff8877"/>
<path d="M590.3 685.9A312.2 312.2 0 0 1 580.2 691.2L574 678.8A298.4 298.4 0 0 0 583.6 673.8Z" fill="#cce664"/>
<path d="M583.6 673.8A298.4 298.4 0 0 1 574 678.8L567.8 666.4A284.5 284.5 0 0 0 577 661.6Z" fill="#ffbb00"/>
<path d="M577 661.6A284.5 284.5 0 0 1 567.8 666.4L561.6 654A270.6 270.6 0 0 0 570.3 649.4Z" fill="#935835"/>
<path d="M592.6 716A340 340 0 0 1 581.5 721.3L575.7 708.7A326.1 326.1 0 0 0 586.4 703.6Z" fill="#0043d3"/>
<path d="M586.4 703.6A326.1 326.1 0 0 1 575.7 708.7L569.9 696.1A312.2 312.2 0 0 0 580.2 691.2Z" fill="#ff6699"/>
<path d="M580.2 691.2A312.2 312.2 0 0 1 569.9 696.1L564.2 683.5A298.4 298.4 0 0 0 574 678.8Z" fill="#66b364"/>
<path d="M574 678.8A298.4 298.4 0 0 1 564.2 683.5L558.5 670.9A284.5 284.5 0 0 0 567.8 666.4Z" fill="#ffee00"/>
<path d="M567.8 666.4A284.5 284.5 0 0 1 558.5 670.9L552.7 658.2A270.6 270.6 0 0 0 561.6 654Z" fill="#b56e43"/>
<path d="M581.5 721.3A340 340 0 0 1 570.1 726.3L564.8 713.4A326.1 326.1 0 0 0 575.7 708.7Z" fill="#0064c0"/>
<path d="M575.7 708.7A326.1 326.1 0 0 1 564.8 713.4L559.5 700.6A312.2 312.2 0 0 0 569.9 696.1Z" fill="#ff6699"/>
<path d="M569.9 696.1A312.2 312.2 0 0 1 559.5 700.6L554.3 687.8A298.4 298.4 0 0 0 564.2 683.5Z" fill="#88c464"/>
<path d="M564.2 683.5A298.4 298.4 0 0 1 554.3 687.8L549 675A284.5 284.5 0 0 0 558.5 670.9Z" fill="#ffcc00"/>
<path d="M558.5 670.9A284.5 284.5 0 0 1 549 675L543.7 662.1A270.6 270.6 0 0 0 552.7 658.2Z" fill="#935835"/>
<path d="M570.1 726.3A340 340 0 0 1 557.4 731.2L552.6 718.2A326.1 326.1 0 0 0 564.8 713.4Z" fill="#0075b6"/>
<path d="M564.8 713.4A326.1 326.1 0 0 1 552.6 718.2L547.8 705.1A312.2 312.2 0 0 0 559.5 700.6Z" fill="#ff9966"/>
<path d="M559.5 700.6A312.2 312.2 0 0 1 547.8 705.1L543.1 692.2A298.4 298.4 0 0 0 554.3 687.8Z" fill="#77bb64"/>
<path d="M554.3 687.8A298.4 298.4 0 0 1 543.1 692.2L538.3 679.1A284.5 284.5 0 0 0 549 675Z" fill="#ff9900"/>
<path d="M549 675A284.5 284.5 0 0 1 538.3 679.1L533.5 666.1A270.6 270.6 0 0 0 543.7 662.1Z" fill="#432918"/>
<path d="M554.8 732.2A340 340 0 0 1 541.4 736.6L537.3 723.4A326.1 326.1 0 0 0 550.2 719.1Z" fill="#0075b6"/>
<path d="M550.2 719.1A326.1 326.1 0 0 1 537.3 723.4L533.2 710.1A312.2 312.2 0 0 0 545.5 706Z" fill="#fff"/>
<path d="M545.5 706A312.2 312.2 0 0 1 533.2 710.1L529.1 696.9A298.4 298.4 0 0 0 540.8 693Z" fill="#fff"/>
<path d="M540.8 693A298.4 298.4 0 0 1 529.1 696.9L524.9 683.7A284.5 284.5 0 0 0 536.2 679.9Z" fill="#fff"/>
<path d="M536.2 679.9A284.5 284.5 0 0 1 524.9 683.7L520.8 670.4A270.6 270.6 0 0 0 531.5 666.8Z" fill="#df8a53"/>
<path d="M541.4 736.6A340 340 0 0 1 529.1 740.2L525.5 726.8A326.1 326.1 0 0 0 537.3 723.4Z" fill="#0064c0"/>
<path d="M537.3 723.4A326.1 326.1 0 0 1 525.5 726.8L521.8 713.4A312.2 312.2 0 0 0 533.2 710.1Z" fill="#fff"/>
<path d="M533.2 710.1A312.2 312.2 0 0 1 521.8 713.4L518.2 700.1A298.4 298.4 0 0 0 529.1 696.9Z" fill="#fff"/>
<path d="M529.1 696.9A298.4 298.4 0 0 1 518.2 700.1L514.6 686.6A284.5 284.5 0 0 0 524.9 683.7Z" fill="#fff"/>
<path d="M524.9 683.7A284.5 284.5 0 0 1 514.6 686.6L511 673.2A270.6 270.6 0 0 0 520.8 670.4Z" fill="#f39c5a"/>
<path d="M529.1 740.2A340 340 0 0 1 516.6 743.3L513.5 729.8A326.1 326.1 0 0 0 525.5 726.8Z" fill="#0043d3"/>
<path d="M525.5 726.8A326.1 326.1 0 0 1 513.5 729.8L510.4 716.2A312.2 312.2 0 0 0 521.8 713.4Z" fill="#fff"/>
<path d="M521.8 713.4A312.2 312.2 0 0 1 510.4 716.2L507.3 702.8A298.4 298.4 0 0 0 518.2 700.1Z" fill="#fff"/>
<path d="M518.2 700.1A298.4 298.4 0 0 1 507.3 702.8L504.2 689.3A284.5 284.5 0 0 0 514.6 686.6Z" fill="#fff"/>
<path d="M514.6 686.6A284.5 284.5 0 0 1 504.2 689.3L501.1 675.7A270.6 270.6 0 0 0 511 673.2Z" fill="#c57849"/>
<path d="M516.6 743.3A340 340 0 0 1 504.1 746L501.5 732.3A326.1 326.1 0 0 0 513.5 729.8Z" fill="#0021e7"/>
<path d="M513.5 729.8A326.1 326.1 0 0 1 501.5 732.3L498.9 718.7A312.2 312.2 0 0 0 510.4 716.2Z" fill="#fff"/>
<path d="M510.4 716.2A312.2 312.2 0 0 1 498.9 718.7L496.3 705.1A298.4 298.4 0 0 0 507.3 702.8Z" fill="#fff"/>
<path d="M507.3 702.8A298.4 298.4 0 0 1 496.3 705.1L493.7 691.5A284.5 284.5 0 0 0 504.2 689.3Z" fill="#fff"/>
<path d="M504.2 689.3A284.5 284.5 0 0 1 493.7 691.5L491.1 677.8A270.6 270.6 0 0 0 501.1 675.7Z" fill="#f39c5a"/>
<path d="M504.1 746A340 340 0 0 1 491.4 748.1L489.4 734.4A326.1 326.1 0 0 0 501.5 732.3Z" fill="#0053ca"/>
<path d="M501.5 732.3A326.1 326.1 0 0 1 489.4 734.4L487.3 720.7A312.2 312.2 0 0 0 498.9 718.7Z" fill="#fff"/>
<path d="M498.9 718.7A312.2 312.2 0 0 1 487.3 720.7L485.2 707A298.4 298.4 0 0 0 496.3 705.1Z" fill="#fff"/>
<path d="M496.3 705.1A298.4 298.4 0 0 1 485.2 707L483.1 693.3A284.5 284.5 0 0 0 493.7 691.5Z" fill="#fff"/>
<path d="M493.7 691.5A284.5 284.5 0 0 1 483.1 693.3L481 679.5A270.6 270.6 0 0 0 491.1 677.8Z" fill="#df8a53"/>
<path d="M491.4 748.1A340 340 0 0 1 478.7 749.8L477.2 736A326.1 326.1 0 0 0 489.4 734.4Z" fill="#0096a3"/>
<path d="M489.4 734.4A326.1 326.1 0 0 1 477.2 736L475.6 722.2A312.2 312.2 0 0 0 487.3 720.7Z" fill="#fff"/>
<path d="M487.3 720.7A312.2 312.2 0 0 1 475.6 722.2L474 708.5A298.4 298.4 0 0 0 485.2 707Z" fill="#fff"/>
<path d="M485.2 707A298.4 298.4 0 0 1 474 708.5L472.5 694.7A284.5 284.5 0 0 0 483.1 693.3Z" fill="#fff"/>
<path d="M483.1 693.3A284.5 284.5 0 0 1 472.5 694.7L470.9 680.9A270.6 270.6 0 0 0 481 679.5Z" fill="#643c24"/>
<path d="M478.7 749.8A340 340 0 0 1 466.7 751L465.6 737.1A326.1 326.1 0 0 0 477.2 736Z" fill="#0064c0"/>
<path d="M477.2 736A326.1 326.1 0 0 1 465.6 737.1L464.5 723.3A312.2 312.2 0 0 0 475.6 722.2Z" fill="#fff"/>
<path d="M475.6 722.2A312.2 312.2 0 0 1 464.5 723.3L463.5 709.5A298.4 298.4 0 0 0 474 708.5Z" fill="#fff"/>
<path d="M474 708.5A298.4 298.4 0 0 1 463.5 709.5L462.4 695.6A284.5 284.5 0 0 0 472.5 694.7Z" fill="#fff"/>
<path d="M472.5 694.7A284.5 284.5 0 0 1 462.4 695.6L461.3 681.8A270.6 270.6 0 0 0 470.9 680.9Z" fill="#a4633c"/>
<path d="M462.9 751.3A340 340 0 0 1 449.1 751.9L448.7 738A326.1 326.1 0 0 0 462 737.4Z" fill="#00e973"/>
<path d="M462 737.4A326.1 326.1 0 0 1 448.7 738L448.4 724.1A312.2 312.2 0 0 0 461 723.5Z" fill="#fff"/>
<path d="M461 723.5A312.2 312.2 0 0 1 448.4 724.1L448 710.3A298.4 298.4 0 0 0 460.1 709.7Z" fill="#fff"/>
<path d="M460.1 709.7A298.4 298.4 0 0 1 448 710.3L447.6 696.4A284.5 284.5 0 0 0 459.2 695.9Z" fill="#fff"/>
<path d="M459.2 695.9A284.5 284.5 0 0 1 447.6 696.4L447.3 682.5A270.6 270.6 0 0 0 458.3 682Z" fill="#000000"/>
<path d="M425.2 72.3A340 340 0 0 1 439.9 72L439.9 85.9A326.1 326.1 0 0 0 425.9 86.2Z" fill="#0053ca"/>
<path d="M425.9 86.2A326.1 326.1 0 0 1 439.9 85.9L440 99.8A312.2 312.2 0 0 0 426.5 100.1Z" fill="#ff44bb"/>
<path d="M426.5 100.1A312.2 312.2 0 0 1 440 99.8L440 113.6A298.4 298.4 0 0 0 427.1 113.9Z" fill="#bbdd64"/>
<path d="M427.1 113.9A298.4 298.4 0 0 1 440 113.6L440 127.5A284.5 284.5 0 0 0 427.7 127.8Z" fill="#ff6600"/>
<path d="M427.7 127.8A284.5 284.5 0 0 1 440 127.5L440 141.4A270.6 270.6 0 0 0 428.3 141.7Z" fill="#814e2f"/>
<path d="M413 73.1A340 340 0 0 1 425.2 72.3L425.9 86.2A326.1 326.1 0 0 0 414.1 87Z" fill="#0053ca"/>
<path d="M414.1 87A326.1 326.1 0 0 1 425.9 86.2L426.5 100.1A312.2 312.2 0 0 0 415.3 100.8Z" fill="#ff6699"/>
<path d="M415.3 100.8A312.2 312.2 0 0 1 426.5 100.1L427.1 113.9A298.4 298.4 0 0 0 416.4 114.6Z" fill="#88c464"/>
<path d="M416.4 114.6A298.4 298.4 0 0 1 427.1 113.9L427.7 127.8A284.5 284.5 0 0 0 417.5 128.4Z" fill="#ffaa00"/>
<path d="M417.5 128.4A284.5 284.5 0 0 1 427.7 127.8L428.3 141.7A270.6 270.6 0 0 0 418.6 142.3Z" fill="#a4633c"/>
<path d="M400.8 74.3A340 340 0 0 1 413 73.1L414.1 87A326.1 326.1 0 0 0 402.4 88.1Z" fill="#0053ca"/>
<path d="M402.4 88.1A326.1 326.1 0 0 1 414.1 87L415.3 100.8A312.2 312.2 0 0 0 404 101.9Z" fill="#ff6699"/>
<path d="M404 101.9A312.2 312.2 0 0 1 415.3 100.8L416.4 114.6A298.4 298.4 0 0 0 405.7 115.6Z" fill="#77bb64"/>
<path d="M405.7 115.6A298.4 298.4 0 0 1 416.4 114.6L417.5 128.4A284.5 284.5 0 0 0 407.3 129.4Z" fill="#ffee00"/>
<path d="M407.3 129.4A284.5 284.5 0 0 1 417.5 128.4L418.6 142.3A270.6 270.6 0 0 0 408.9 143.2Z" fill="#b56e43"/>
<path d="M388.7 76A340 340 0 0 1 400.8 74.3L402.4 88.1A326.1 326.1 0 0 0 390.8 89.7Z" fill="#0043d3"/>
<path d="M390.8 89.7A326.1 326.1 0 0 1 402.4 88.1L404 101.9A312.2 312.2 0 0 0 392.9 103.4Z" fill="#ff33cc"/>
<path d="M392.9 103.4A312.2 312.2 0 0 1 404 101.9L405.7 115.6A298.4 298.4 0 0 0 395 117.1Z" fill="#77bb64"/>
<path d="M395 117.1A298.4 298.4 0 0 1 405.7 115.6L407.3 129.4A284.5 284.5 0 0 0 397.1 130.8Z" fill="#ffee00"/>
<path d="M397.1 130.8A284.5 284.5 0 0 1 407.3 129.4L408.9 143.2A270.6 270.6 0 0 0 399.2 144.6Z" fill="#ed9459"/>
<path d="M376.6 78A340 340 0 0 1 388.7 76L390.8 89.7A326.1 326.1 0 0 0 379.2 91.7Z" fill="#0043d3"/>
<path d="M379.2 91.7A326.1 326.1 0 0 1 390.8 89.7L392.9 103.4A312.2 312.2 0 0 0 381.8 105.4Z" fill="#ff44bb"/>
<path d="M381.8 105.4A312.2 312.2 0 0 1 392.9 103.4L395 117.1A298.4 298.4 0 0 0 384.4 118.9Z" fill="#77bb64"/>
<path d="M384.4 118.9A298.4 298.4 0 0 1 395 117.1L397.1 130.8A284.5 284.5 0 0 0 387 132.6Z" fill="#ffdd00"/>
<path d="M387 132.6A284.5 284.5 0 0 1 397.1 130.8L399.2 144.6A270.6 270.6 0 0 0 389.6 146.2Z" fill="#c57849"/>
<path d="M364.6 80.6A340 340 0 0 1 376.6 78L379.2 91.7A326.1 326.1 0 0 0 367.7 94.1Z" fill="#0053ca"/>
<path d="M367.7 94.1A326.1 326.1 0 0 1 379.2 91.7L381.8 105.4A312.2 312.2 0 0 0 370.8 107.7Z" fill="#ff6699"/>
<path d="M370.8 107.7A312.2 312.2 0 0 1 381.8 105.4L384.4 118.9A298.4 298.4 0 0 0 373.8 121.1Z" fill="#88c464"/>
<path d="M373.8 121.1A298.4 298.4 0 0 1 384.4 118.9L387 132.6A284.5 284.5 0 0 0 376.9 134.7Z" fill="#ffcc00"/>
<path d="M376.9 134.7A284.5 284.5 0 0 1 387 132.6L389.6 146.2A270.6 270.6 0 0 0 380 148.2Z" fill="#b56e43"/>
<path d="M352.7 83.5A340 340 0 0 1 364.6 80.6L367.7 94.1A326.1 326.1 0 0 0 356.2 96.9Z" fill="#0053ca"/>
<path d="M356.2 96.9A326.1 326.1 0 0 1 367.7 94.1L370.8 107.7A312.2 312.2 0 0 0 359.8 110.4Z" fill="#ff55aa"/>
<path d="M359.8 110.4A312.2 312.2 0 0 1 370.8 107.7L373.8 121.1A298.4 298.4 0 0 0 363.4 123.7Z" fill="#88c464"/>
<path d="M363.4 123.7A298.4 298.4 0 0 1 373.8 121.1L376.9 134.7A284.5 284.5 0 0 0 367 137.1Z" fill="#ff3300"/>
<path d="M367 137.1A284.5 284.5 0 0 1 376.9 134.7L380 148.2A270.6 270.6 0 0 0 370.6 150.6Z" fill="#643c24"/>
<path d="M340.9 86.9A340 340 0 0 1 352.7 83.5L356.2 96.9A326.1 326.1 0 0 0 344.9 100.2Z" fill="#0032dd"/>
<path d="M344.9 100.2A326.1 326.1 0 0 1 356.2 96.9L359.8 110.4A312.2 312.2 0 0 0 349 113.5Z" fill="#ff22dd"/>
<path d="M349 113.5A312.2 312.2 0 0 1 359.8 110.4L363.4 123.7A298.4 298.4 0 0 0 353 126.7Z" fill="#88c464"/>
<path d="M353 126.7A298.4 298.4 0 0 1 363.4 123.7L367 137.1A284.5 284.5 0 0 0 357.1 140Z" fill="#ff9900"/>
<path d="M357.1 140A284.5 284.5 0 0 1 367 137.1L370.6 150.6A270.6 270.6 0 0 0 361.2 153.3Z" fill="#f39c5a"/>
<path d="M329.2 90.7A340 340 0 0 1 340.9 86.9L344.9 100.2A326.1 326.1 0 0 0 333.7 103.8Z" fill="#00b790"/>
<path d="M333.7 103.8A326.1 326.1 0 0 1 344.9 100.2L349 113.5A312.2 312.2 0 0 0 338.3 117Z" fill="#ffcc33"/>
<path d="M338.3 117A312.2 312.2 0 0 1 349 113.5L353 126.7A298.4 298.4 0 0 0 342.8 130Z" fill="#aad564"/>
<path d="M342.8 130A298.4 298.4 0 0 1 353 126.7L357.1 140A284.5 284.5 0 0 0 347.3 143.2Z" fill="#ffaa00"/>
<path d="M347.3 143.2A284.5 284.5 0 0 1 357.1 140L361.2 153.3A270.6 270.6 0 0 0 351.9 156.3Z" fill="#643c24"/>
<path d="M317.7 94.9A340 340 0 0 1 329.2 90.7L333.7 103.8A326.1 326.1 0 0 0 322.7 107.9Z" fill="#0085ad"/>
<path d="M322.7 107.9A326.1 326.1 0 0 1 333.7 103.8L338.3 117A312.2 312.2 0 0 0 327.7 120.9Z" fill="#ff9966"/>
<path d="M327.7 120.9A312.2 312.2 0 0 1 338.3 117L342.8 130A298.4 298.4 0 0 0 332.7 133.7Z" fill="#bbdd64"/>
<path d="M332.7 133.7A298.4 298.4 0 0 1 342.8 130L347.3 143.2A284.5 284.5 0 0 0 337.7 146.7Z" fill="#ffaa00"/>
<path d="M337.7 146.7A284.5 284.5 0 0 1 347.3 143.2L351.9 156.3A270.6 270.6 0 0 0 342.7 159.6Z" fill="#a4633c"/>
<path d="M306.3 99.6A340 340 0 0 1 317.7 94.9L322.7 107.9A326.1 326.1 0 0 0 311.8 112.3Z" fill="#0075b6"/>
<path d="M311.8 112.3A326.1 326.1 0 0 1 322.7 107.9L327.7 120.9A312.2 312.2 0 0 0 317.3 125.1Z" fill="#ff6699"/>
<path d="M317.3 125.1A312.2 312.2 0 0 1 327.7 120.9L332.7 133.7A298.4 298.4 0 0 0 322.7 137.8Z" fill="#bbdd64"/>
<path d="M322.7 137.8A298.4 298.4 0 0 1 332.7 133.7L337.7 146.7A284.5 284.5 0 0 0 328.2 150.6Z" fill="#ffaa00"/>
<path d="M328.2 150.6A284.5 284.5 0 0 1 337.7 146.7L342.7 159.6A270.6 270.6 0 0 0 333.7 163.3Z" fill="#b56e43"/>
<path d="M295.1 104.6A340 340 0 0 1 306.3 99.6L311.8 112.3A326.1 326.1 0 0 0 301 117.2Z" fill="#0064c0"/>
<path d="M301 117.2A326.1 326.1 0 0 1 311.8 112.3L317.3 125.1A312.2 312.2 0 0 0 307 129.7Z" fill="#ff8877"/>
<path d="M307 129.7A312.2 312.2 0 0 1 317.3 125.1L322.7 137.8A298.4 298.4 0 0 0 312.9 142.2Z" fill="#88c464"/>
<path d="M312.9 142.2A298.4 298.4 0 0 1 322.7 137.8L328.2 150.6A284.5 284.5 0 0 0 318.8 154.8Z" fill="#ffee00"/>
<path d="M318.8 154.8A284.5 284.5 0 0 1 328.2 150.6L333.7 163.3A270.6 270.6 0 0 0 324.8 167.4Z" fill="#c57849"/>
<path d="M284.1 110.1A340 340 0 0 1 295.1 104.6L301 117.2A326.1 326.1 0 0 0 290.5 122.4Z" fill="#0043d3"/>
<path d="M290.5 122.4A326.1 326.1 0 0 1 301 117.2L307 129.7A312.2 312.2 0 0 0 296.9 134.8Z" fill="#ff44bb"/>
<path d="M296.9 134.8A312.2 312.2 0 0 1 307 129.7L312.9 142.2A298.4 298.4 0 0 0 303.2 147Z" fill="#88c464"/>
<path d="M303.2 147A298.4 298.4 0 0 1 312.9 142.2L318.8 154.8A284.5 284.5 0 0 0 309.6 159.3Z" fill="#ffbb00"/>
<path d="M309.6 159.3A284.5 284.5 0 0 1 318.8 154.8L324.8 167.4A270.6 270.6 0 0 0 316 171.7Z" fill="#d2814e"/>
<path d="M273.3 115.9A340 340 0 0 1 284.1 110.1L290.5 122.4A326.1 326.1 0 0 0 280.1 128Z" fill="#00e973"/>
<path d="M280.1 128A326.1 326.1 0 0 1 290.5 122.4L296.9 134.8A312.2 312.2 0 0 0 286.9 140.1Z" fill="#ffee11"/>
<path d="M286.9 140.1A312.2 312.2 0 0 1 296.9 134.8L303.2 147A298.4 298.4 0 0 0 293.7 152.1Z" fill="#cce664"/>
<path d="M293.7 152.1A298.4 298.4 0 0 1 303.2 147L309.6 159.3A284.5 284.5 0 0 0 300.6 164.2Z" fill="#ffee00"/>
<path d="M300.6 164.2A284.5 284.5 0 0 1 309.6 159.3L316 171.7A270.6 270.6 0 0 0 307.4 176.3Z" fill="#000000"/>
<path d="M262.7 122.1A340 340 0 0 1 273.3 115.9L280.1 128A326.1 326.1 0 0 0 270 134Z" fill="#0085ad"/>
<path d="M270 134A326.1 326.1 0 0 1 280.1 128L286.9 140.1A312.2 312.2 0 0 0 277.2 145.8Z" fill="#ff9966"/>
<path d="M277.2 145.8A312.2 312.2 0 0 1 286.9 140.1L293.7 152.1A298.4 298.4 0 0 0 284.4 157.6Z" fill="#99cc64"/>
<path d="M284.4 157.6A298.4 298.4 0 0 1 293.7 152.1L300.6 164.2A284.5 284.5 0 0 0 291.7 169.5Z" fill="#ffbb00"/>
<path d="M291.7 169.5A284.5 284.5 0 0 1 300.6 164.2L307.4 176.3A270.6 270.6 0 0 0 299 181.3Z" fill="#643c24"/>
<path d="M252.3 128.7A340 340 0 0 1 262.7 122.1L270 134A326.1 326.1 0 0 0 260 140.3Z" fill="#0053ca"/>
<path d="M260 140.3A326.1 326.1 0 0 1 270 134L277.2 145.8A312.2 312.2 0 0 0 267.7 151.9Z" fill="#ff6699"/>
<path d="M267.7 151.9A312.2 312.2 0 0 1 277.2 145.8L284.4 157.6A298.4 298.4 0 0 0 275.3 163.4Z" fill="#bbdd64"/>
<path d="M275.3 163.4A298.4 298.4 0 0 1 284.4 157.6L291.7 169.5A284.5 284.5 0 0 0 283 175Z" fill="#ffee00"/>
<path d="M283 175A284.5 284.5 0 0 1 291.7 169.5L299 181.3A270.6 270.6 0 0 0 290.7 186.6Z" fill="#b56e43"/>
<path d="M242.2 135.7A340 340 0 0 1 252.3 128.7L260 140.3A326.1 326.1 0 0 0 250.3 147Z" fill="#0053ca"/>
<path d="M250.3 147A326.1 326.1 0 0 1 260 140.3L267.7 151.9A312.2 312.2 0 0 0 258.4 158.3Z" fill="#ff6699"/>
<path d="M258.4 158.3A312.2 312.2 0 0 1 267.7 151.9L275.3 163.4A298.4 298.4 0 0 0 266.5 169.5Z" fill="#99cc64"/>
<path d="M266.5 169.5A298.4 298.4 0 0 1 275.3 163.4L283 175A284.5 284.5 0 0 0 274.6 180.8Z" fill="#ffee00"/>
<path d="M274.6 180.8A284.5 284.5 0 0 1 283 175L290.7 186.6A270.6 270.6 0 0 0 282.7 192.1Z" fill="#a4633c"/>
<path d="M232.4 143.1A340 340 0 0 1 242.2 135.7L250.3 147A326.1 326.1 0 0 0 240.9 154.1Z" fill="#0043d3"/>
<path d="M240.9 154.1A326.1 326.1 0 0 1 250.3 147L258.4 158.3A312.2 312.2 0 0 0 249.4 165.1Z" fill="#ff6699"/>
<path d="M249.4 165.1A312.2 312.2 0 0 1 258.4 158.3L266.5 169.5A298.4 298.4 0 0 0 257.8 176Z" fill="#aad564"/>
<path d="M257.8 176A298.4 298.4 0 0 1 266.5 169.5L274.6 180.8A284.5 284.5 0 0 0 266.3 187Z" fill="#ffee00"/>
<path d="M266.3 187A284.5 284.5 0 0 1 274.6 180.8L282.7 192.1A270.6 270.6 0 0 0 274.8 198Z" fill="#a4633c"/>
<path d="M222.8 150.8A340 340 0 0 1 232.4 143.1L240.9 154.1A326.1 326.1 0 0 0 231.7 161.4Z" fill="#0096a3"/>
<path d="M231.7 161.4A326.1 326.1 0 0 1 240.9 154.1L249.4 165.1A312.2 312.2 0 0 0 240.6 172.1Z" fill="#ff9966"/>
<path d="M240.6 172.1A312.2 312.2 0 0 1 249.4 165.1L257.8 176A298.4 298.4 0 0 0 249.4 182.7Z" fill="#cce664"/>
<path d="M249.4 182.7A298.4 298.4 0 0 1 257.8 176L266.3 187A284.5 284.5 0 0 0 258.3 193.4Z" fill="#ffcc00"/>
<path d="M258.3 193.4A284.5 284.5 0 0 1 266.3 187L274.8 198A270.6 270.6 0 0 0 267.2 204.1Z" fill="#935835"/>
<path d="M213.5 158.8A340 340 0 0 1 222.8 150.8L231.7 161.4A326.1 326.1 0 0 0 222.8 169.1Z" fill="#0064c0"/>
<path d="M222.8 169.1A326.1 326.1 0 0 1 231.7 161.4L240.6 172.1A312.2 312.2 0 0 0 232 179.5Z" fill="#ff6699"/>
<path d="M232 179.5A312.2 312.2 0 0 1 240.6 172.1L249.4 182.7A298.4 298.4 0 0 0 241.3 189.8Z" fill="#bbdd64"/>
<path d="M241.3 189.8A298.4 298.4 0 0 1 249.4 182.7L258.3 193.4A284.5 284.5 0 0 0 250.5 200.1Z" fill="#ffcc00"/>
<path d="M250.5 200.1A284.5 284.5 0 0 1 258.3 193.4L267.2 204.1A270.6 270.6 0 0 0 259.8 210.5Z" fill="#643c24"/>
<path d="M203.5 168.1A340 340 0 0 1 213.5 158.8L222.8 169.1A326.1 326.1 0 0 0 213.2 178Z" fill="#0064c0"/>
<path d="M213.2 178A326.1 326.1 0 0 1 222.8 169.1L232 179.5A312.2 312.2 0 0 0 222.9 188Z" fill="#ff9966"/>
<path d="M222.9 188A312.2 312.2 0 0 1 232 179.5L241.3 189.8A298.4 298.4 0 0 0 232.5 197.9Z" fill="#44a264"/>
<path d="M232.5 197.9A298.4 298.4 0 0 1 241.3 189.8L250.5 200.1A284.5 284.5 0 0 0 242.2 207.9Z" fill="#ffee00"/>
<path d="M242.2 207.9A284.5 284.5 0 0 1 250.5 200.1L259.8 210.5A270.6 270.6 0 0 0 251.9 217.9Z" fill="#935835"/>
<path d="M191.7 180.2A340 340 0 0 1 201.2 170.4L211 180.2A326.1 326.1 0 0 0 201.9 189.7Z" fill="#0011f0"/>
<path d="M201.9 189.7A326.1 326.1 0 0 1 211 180.2L220.8 190.1A312.2 312.2 0 0 0 212 199.1Z" fill="#ff22dd"/>
<path d="M212 199.1A312.2 312.2 0 0 1 220.8 190.1L230.5 199.9A298.4 298.4 0 0 0 222.1 208.5Z" fill="#88c464"/>
<path d="M222.1 208.5A298.4 298.4 0 0 1 230.5 199.9L240.3 209.8A284.5 284.5 0 0 0 232.3 218Z" fill="#ffff00"/>
<path d="M232.3 218A284.5 284.5 0 0 1 240.3 209.8L250 219.7A270.6 270.6 0 0 0 242.5 227.5Z" fill="#f39c5a"/>
<path d="M183.4 189.4A340 340 0 0 1 191.7 180.2L201.9 189.7A326.1 326.1 0 0 0 193.9 198.5Z" fill="#0021e7"/>
<path d="M193.9 198.5A326.1 326.1 0 0 1 201.9 189.7L212 199.1A312.2 312.2 0 0 0 204.4 207.6Z" fill="#ff33cc"/>
<path d="M204.4 207.6A312.2 312.2 0 0 1 212 199.1L222.1 208.5A298.4 298.4 0 0 0 214.9 216.6Z" fill="#cce664"/>
<path d="M214.9 216.6A298.4 298.4 0 0 1 222.1 208.5L232.3 218A284.5 284.5 0 0 0 225.4 225.7Z" fill="#ffee00"/>
<path d="M225.4 225.7A284.5 284.5 0 0 1 232.3 218L242.5 227.5A270.6 270.6 0 0 0 235.9 234.8Z" fill="#ed9459"/>
<path d="M175.5 198.9A340 340 0 0 1 183.4 189.4L193.9 198.5A326.1 326.1 0 0 0 186.3 207.6Z" fill="#0021e7"/>
<path d="M186.3 207.6A326.1 326.1 0 0 1 193.9 198.5L204.4 207.6A312.2 312.2 0 0 0 197.1 216.3Z" fill="#ff33cc"/>
<path d="M197.1 216.3A312.2 312.2 0 0 1 204.4 207.6L214.9 216.6A298.4 298.4 0 0 0 207.9 225Z" fill="#99cc64"/>
<path d="M207.9 225A298.4 298.4 0 0 1 214.9 216.6L225.4 225.7A284.5 284.5 0 0 0 218.7 233.7Z" fill="#ffee00"/>
<path d="M218.7 233.7A284.5 284.5 0 0 1 225.4 225.7L235.9 234.8A270.6 270.6 0 0 0 229.6 242.4Z" fill="#ed9459"/>
<path d="M167.9 208.7A340 340 0 0 1 175.5 198.9L186.3 207.6A326.1 326.1 0 0 0 179 217Z" fill="#0043d3"/>
<path d="M179 217A326.1 326.1 0 0 1 186.3 207.6L197.1 216.3A312.2 312.2 0 0 0 190.2 225.3Z" fill="#ff55aa"/>
<path d="M190.2 225.3A312.2 312.2 0 0 1 197.1 216.3L207.9 225A298.4 298.4 0 0 0 201.2 233.6Z" fill="#eef764"/>
<path d="M201.2 233.6A298.4 298.4 0 0 1 207.9 225L218.7 233.7A284.5 284.5 0 0 0 212.4 241.9Z" fill="#ffaa00"/>
<path d="M212.4 241.9A284.5 284.5 0 0 1 218.7 233.7L229.6 242.4A270.6 270.6 0 0 0 223.5 250.2Z" fill="#df8a53"/>
<path d="M160.7 218.7A340 340 0 0 1 167.9 208.7L179 217A326.1 326.1 0 0 0 172.1 226.6Z" fill="#0043d3"/>
<path d="M172.1 226.6A326.1 326.1 0 0 1 179 217L190.2 225.3A312.2 312.2 0 0 0 183.5 234.5Z" fill="#ff8877"/>
<path d="M183.5 234.5A312.2 312.2 0 0 1 190.2 225.3L201.2 233.6A298.4 298.4 0 0 0 194.9 242.4Z" fill="#bbdd64"/>
<path d="M194.9 242.4A298.4 298.4 0 0 1 201.2 233.6L212.4 241.9A284.5 284.5 0 0 0 206.3 250.3Z" fill="#ffee00"/>
<path d="M206.3 250.3A284.5 284.5 0 0 1 212.4 241.9L223.5 250.2A270.6 270.6 0 0 0 217.8 258.2Z" fill="#df8a53"/>
<path d="M153.8 229A340 340 0 0 1 160.7 218.7L172.1 226.6A326.1 326.1 0 0 0 165.5 236.5Z" fill="#0032dd"/>
<path d="M165.5 236.5A326.1 326.1 0 0 1 172.1 226.6L183.5 234.5A312.2 312.2 0 0 0 177.3 244Z" fill="#ff33cc"/>
<path d="M177.3 244A312.2 312.2 0 0 1 183.5 234.5L194.9 242.4A298.4 298.4 0 0 0 188.9 251.4Z" fill="#cce664"/>
<path d="M188.9 251.4A298.4 298.4 0 0 1 194.9 242.4L206.3 250.3A284.5 284.5 0 0 0 200.6 258.9Z" fill="#ff9900"/>
<path d="M200.6 258.9A284.5 284.5 0 0 1 206.3 250.3L217.8 258.2A270.6 270.6 0 0 0 212.3 266.4Z" fill="#ed9459"/>
<path d="M147.4 239.6A340 340 0 0 1 153.8 229L165.5 236.5A326.1 326.1 0 0 0 159.3 246.6Z" fill="#0043d3"/>
<path d="M159.3 246.6A326.1 326.1 0 0 1 165.5 236.5L177.3 244A312.2 312.2 0 0 0 171.3 253.7Z" fill="#ff6699"/>
<path d="M171.3 253.7A312.2 312.2 0 0 1 177.3 244L188.9 251.4A298.4 298.4 0 0 0 183.2 260.7Z" fill="#aad564"/>
<path d="M183.2 260.7A298.4 298.4 0 0 1 188.9 251.4L200.6 258.9A284.5 284.5 0 0 0 195.2 267.7Z" fill="#ffee00"/>
<path d="M195.2 267.7A284.5 284.5 0 0 1 200.6 258.9L212.3 266.4A270.6 270.6 0 0 0 207.2 274.8Z" fill="#b56e43"/>
<path d="M140.7 251.5A340 340 0 0 1 147.4 239.6L159.3 246.6A326.1 326.1 0 0 0 152.9 258.1Z" fill="#0053ca"/>
<path d="M152.9 258.1A326.1 326.1 0 0 1 159.3 246.6L171.3 253.7A312.2 312.2 0 0 0 165.2 264.6Z" fill="#ff6699"/>
<path d="M165.2 264.6A312.2 312.2 0 0 1 171.3 253.7L183.2 260.7A298.4 298.4 0 0 0 177.3 271.1Z" fill="#99cc64"/>
<path d="M177.3 271.1A298.4 298.4 0 0 1 183.2 260.7L195.2 267.7A284.5 284.5 0 0 0 189.6 277.7Z" fill="#ffee00"/>
<path d="M189.6 277.7A284.5 284.5 0 0 1 195.2 267.7L207.2 274.8A270.6 270.6 0 0 0 201.8 284.3Z" fill="#d2814e"/>
<path d="M133 266.6A340 340 0 0 1 139.1 254.4L151.5 260.8A326.1 326.1 0 0 0 145.6 272.6Z" fill="#0085ad"/>
<path d="M145.6 272.6A326.1 326.1 0 0 1 151.5 260.8L163.8 267.3A312.2 312.2 0 0 0 158.2 278.5Z" fill="#ff9966"/>
<path d="M158.2 278.5A312.2 312.2 0 0 1 163.8 267.3L176 273.7A298.4 298.4 0 0 0 170.6 284.4Z" fill="#bbdd64"/>
<path d="M170.6 284.4A298.4 298.4 0 0 1 176 273.7L188.3 280.1A284.5 284.5 0 0 0 183.2 290.4Z" fill="#ffdd00"/>
<path d="M183.2 290.4A284.5 284.5 0 0 1 188.3 280.1L200.6 286.6A270.6 270.6 0 0 0 195.8 296.3Z" fill="#643c24"/>
<path d="M128 277.9A340 340 0 0 1 133 266.6L145.6 272.6A326.1 326.1 0 0 0 140.7 283.4Z" fill="#0064c0"/>
<path d="M140.7 283.4A326.1 326.1 0 0 1 145.6 272.6L158.2 278.5A312.2 312.2 0 0 0 153.5 288.9Z" fill="#ff6699"/>
<path d="M153.5 288.9A312.2 312.2 0 0 1 158.2 278.5L170.6 284.4A298.4 298.4 0 0 0 166.2 294.3Z" fill="#cce664"/>
<path d="M166.2 294.3A298.4 298.4 0 0 1 170.6 284.4L183.2 290.4A284.5 284.5 0 0 0 179 299.8Z" fill="#ffee00"/>
<path d="M179 299.8A284.5 284.5 0 0 1 183.2 290.4L195.8 296.3A270.6 270.6 0 0 0 191.7 305.3Z" fill="#935835"/>
<path d="M123.3 289.4A340 340 0 0 1 128 277.9L140.7 283.4A326.1 326.1 0 0 0 136.2 294.4Z" fill="#0032dd"/>
<path d="M136.2 294.4A326.1 326.1 0 0 1 140.7 283.4L153.5 288.9A312.2 312.2 0 0 0 149.2 299.4Z" fill="#ff33cc"/>
<path d="M149.2 299.4A312.2 312.2 0 0 1 153.5 288.9L166.2 294.3A298.4 298.4 0 0 0 162.1 304.4Z" fill="#99cc64"/>
<path d="M162.1 304.4A298.4 298.4 0 0 1 166.2 294.3L179 299.8A284.5 284.5 0 0 0 175 309.4Z" fill="#ff5500"/>
<path d="M175 309.4A284.5 284.5 0 0 1 179 299.8L191.7 305.3A270.6 270.6 0 0 0 188 314.4Z" fill="#df8a53"/>
<path d="M119 301A340 340 0 0 1 123.3 289.4L136.2 294.4A326.1 326.1 0 0 0 132.2 305.5Z" fill="#0043d3"/>
<path d="M132.2 305.5A326.1 326.1 0 0 1 136.2 294.4L149.2 299.4A312.2 312.2 0 0 0 145.3 310.1Z" fill="#ff6699"/>
<path d="M145.3 310.1A312.2 312.2 0 0 1 149.2 299.4L162.1 304.4A298.4 298.4 0 0 0 158.4 314.6Z" fill="#88c464"/>
<path d="M158.4 314.6A298.4 298.4 0 0 1 162.1 304.4L175 309.4A284.5 284.5 0 0 0 171.5 319.1Z" fill="#ffcc00"/>
<path d="M171.5 319.1A284.5 284.5 0 0 1 175 309.4L188 314.4A270.6 270.6 0 0 0 184.6 323.6Z" fill="#b56e43"/>
<path d="M115.2 312.7A340 340 0 0 1 119 301L132.2 305.5A326.1 326.1 0 0 0 128.5 316.8Z" fill="#0043d3"/>
<path d="M128.5 316.8A326.1 326.1 0 0 1 132.2 305.5L145.3 310.1A312.2 312.2 0 0 0 141.8 320.9Z" fill="#ff6699"/>
<path d="M141.8 320.9A312.2 312.2 0 0 1 145.3 310.1L158.4 314.6A298.4 298.4 0 0 0 155 324.9Z" fill="#bbdd64"/>
<path d="M155 324.9A298.4 298.4 0 0 1 158.4 314.6L171.5 319.1A284.5 284.5 0 0 0 168.3 328.9Z" fill="#ffee00"/>
<path d="M168.3 328.9A284.5 284.5 0 0 1 171.5 319.1L184.6 323.6A270.6 270.6 0 0 0 181.6 333Z" fill="#a4633c"/>
<path d="M111.8 324.6A340 340 0 0 1 115.2 312.7L128.5 316.8A326.1 326.1 0 0 0 125.3 328.2Z" fill="#0043d3"/>
<path d="M125.3 328.2A326.1 326.1 0 0 1 128.5 316.8L141.8 320.9A312.2 312.2 0 0 0 138.7 331.8Z" fill="#ff55aa"/>
<path d="M138.7 331.8A312.2 312.2 0 0 1 141.8 320.9L155 324.9A298.4 298.4 0 0 0 152 335.3Z" fill="#88c464"/>
<path d="M152 335.3A298.4 298.4 0 0 1 155 324.9L168.3 328.9A284.5 284.5 0 0 0 165.5 338.9Z" fill="#ffee00"/>
<path d="M165.5 338.9A284.5 284.5 0 0 1 168.3 328.9L181.6 333A270.6 270.6 0 0 0 178.9 342.5Z" fill="#b56e43"/>
<path d="M108.9 336.6A340 340 0 0 1 111.8 324.6L125.3 328.2A326.1 326.1 0 0 0 122.4 339.7Z" fill="#0032dd"/>
<path d="M122.4 339.7A326.1 326.1 0 0 1 125.3 328.2L138.7 331.8A312.2 312.2 0 0 0 136 342.8Z" fill="#ff33cc"/>
<path d="M136 342.8A312.2 312.2 0 0 1 138.7 331.8L152 335.3A298.4 298.4 0 0 0 149.4 345.8Z" fill="#ddee64"/>
<path d="M149.4 345.8A298.4 298.4 0 0 1 152 335.3L165.5 338.9A284.5 284.5 0 0 0 163 348.9Z" fill="#ffaa00"/>
<path d="M163 348.9A284.5 284.5 0 0 1 165.5 338.9L178.9 342.5A270.6 270.6 0 0 0 176.5 352Z" fill="#c57849"/>
<path d="M106.1 350A340 340 0 0 1 108.9 336.6L122.4 339.7A326.1 326.1 0 0 0 119.8 352.5Z" fill="#0011f0"/>
<path d="M119.8 352.5A326.1 326.1 0 0 1 122.4 339.7L136 342.8A312.2 312.2 0 0 0 133.4 355.1Z" fill="#ff22dd"/>
<path d="M133.4 355.1A312.2 312.2 0 0 1 136 342.8L149.4 345.8A298.4 298.4 0 0 0 147 357.6Z" fill="#aad564"/>
<path d="M147 357.6A298.4 298.4 0 0 1 149.4 345.8L163 348.9A284.5 284.5 0 0 0 160.7 360.1Z" fill="#ffbb00"/>
<path d="M160.7 360.1A284.5 284.5 0 0 1 163 348.9L176.5 352A270.6 270.6 0 0 0 174.3 362.7Z" fill="#b56e43"/>
<path d="M103.4 366.7A340 340 0 0 1 105.5 353.2L119.2 355.6A326.1 326.1 0 0 0 117.2 368.6Z" fill="#0085ad"/>
<path d="M117.2 368.6A326.1 326.1 0 0 1 119.2 355.6L132.9 358A312.2 312.2 0 0 0 131 370.4Z" fill="#ff7788"/>
<path d="M131 370.4A312.2 312.2 0 0 1 132.9 358L146.5 360.4A298.4 298.4 0 0 0 144.7 372.3Z" fill="#bbdd64"/>
<path d="M144.7 372.3A298.4 298.4 0 0 1 146.5 360.4L160.2 362.8A284.5 284.5 0 0 0 158.4 374.1Z" fill="#ff6600"/>
<path d="M158.4 374.1A284.5 284.5 0 0 1 160.2 362.8L173.9 365.2A270.6 270.6 0 0 0 172.2 376Z" fill="#643c24"/>
<path d="M102 379A340 340 0 0 1 103.4 366.7L117.2 368.6A326.1 326.1 0 0 0 115.8 380.3Z" fill="#0043d3"/>
<path d="M115.8 380.3A326.1 326.1 0 0 1 117.2 368.6L131 370.4A312.2 312.2 0 0 0 129.7 381.7Z" fill="#ff33cc"/>
<path d="M129.7 381.7A312.2 312.2 0 0 1 131 370.4L144.7 372.3A298.4 298.4 0 0 0 143.4 383Z" fill="#eef764"/>
<path d="M143.4 383A298.4 298.4 0 0 1 144.7 372.3L158.4 374.1A284.5 284.5 0 0 0 157.2 384.4Z" fill="#ffbb00"/>
<path d="M157.2 384.4A284.5 284.5 0 0 1 158.4 374.1L172.2 376A270.6 270.6 0 0 0 171.1 385.7Z" fill="#d2814e"/>
<path d="M101 391.3A340 340 0 0 1 102 379L115.8 380.3A326.1 326.1 0 0 0 114.9 392.1Z" fill="#0096a3"/>
<path d="M114.9 392.1A326.1 326.1 0 0 1 115.8 380.3L129.7 381.7A312.2 312.2 0 0 0 128.8 393Z" fill="#ff8877"/>
<path d="M128.8 393A312.2 312.2 0 0 1 129.7 381.7L143.4 383A298.4 298.4 0 0 0 142.6 393.8Z" fill="#ddee64"/>
<path d="M142.6 393.8A298.4 298.4 0 0 1 143.4 383L157.2 384.4A284.5 284.5 0 0 0 156.4 394.7Z" fill="#ffbb00"/>
<path d="M156.4 394.7A284.5 284.5 0 0 1 157.2 384.4L171.1 385.7A270.6 270.6 0 0 0 170.3 395.5Z" fill="#935835"/>
<path d="M100.5 403.6A340 340 0 0 1 101 391.3L114.9 392.1A326.1 326.1 0 0 0 114.4 404Z" fill="#0032dd"/>
<path d="M114.4 404A326.1 326.1 0 0 1 114.9 392.1L128.8 393A312.2 312.2 0 0 0 128.3 404.3Z" fill="#ff33cc"/>
<path d="M128.3 404.3A312.2 312.2 0 0 1 128.8 393L142.6 393.8A298.4 298.4 0 0 0 142.1 404.6Z" fill="#88c464"/>
<path d="M142.1 404.6A298.4 298.4 0 0 1 142.6 393.8L156.4 394.7A284.5 284.5 0 0 0 156 405Z" fill="#ffbb00"/>
<path d="M156 405A284.5 284.5 0 0 1 156.4 394.7L170.3 395.5A270.6 270.6 0 0 0 169.9 405.3Z" fill="#d2814e"/>
<path d="M100.4 416A340 340 0 0 1 100.5 403.6L114.4 404A326.1 326.1 0 0 0 114.3 415.8Z" fill="#0032dd"/>
<path d="M114.3 415.8A326.1 326.1 0 0 1 114.4 404L128.3 404.3A312.2 312.2 0 0 0 128.2 415.6Z" fill="#ff55aa"/>
<path d="M128.2 415.6A312.2 312.2 0 0 1 128.3 404.3L142.1 404.6A298.4 298.4 0 0 0 142 415.5Z" fill="#99cc64"/>
<path d="M142 415.5A298.4 298.4 0 0 1 142.1 404.6L156 405A284.5 284.5 0 0 0 155.9 415.3Z" fill="#ffee00"/>
<path d="M155.9 415.3A284.5 284.5 0 0 1 156 405L169.9 405.3A270.6 270.6 0 0 0 169.8 415.2Z" fill="#d2814e"/>
<path d="M100.8 428.3A340 340 0 0 1 100.4 416L114.3 415.8A326.1 326.1 0 0 0 114.7 427.6Z" fill="#0011f0"/>
<path d="M114.7 427.6A326.1 326.1 0 0 1 114.3 415.8L128.2 415.6A312.2 312.2 0 0 0 128.6 427Z" fill="#ff33cc"/>
<path d="M128.6 427A312.2 312.2 0 0 1 128.2 415.6L142 415.5A298.4 298.4 0 0 0 142.3 426.3Z" fill="#99cc64"/>
<path d="M142.3 426.3A298.4 298.4 0 0 1 142 415.5L155.9 415.3A284.5 284.5 0 0 0 156.2 425.6Z" fill="#ffee00"/>
<path d="M156.2 425.6A284.5 284.5 0 0 1 155.9 415.3L169.8 415.2A270.6 270.6 0 0 0 170.1 425Z" fill="#df8a53"/>
<path d="M101.6 440.6A340 340 0 0 1 100.8 428.3L114.7 427.6A326.1 326.1 0 0 0 115.5 439.4Z" fill="#0096a3"/>
<path d="M115.5 439.4A326.1 326.1 0 0 1 114.7 427.6L128.6 427A312.2 312.2 0 0 0 129.3 438.3Z" fill="#ff9966"/>
<path d="M129.3 438.3A312.2 312.2 0 0 1 128.6 427L142.3 426.3A298.4 298.4 0 0 0 143.1 437.1Z" fill="#cce664"/>
<path d="M143.1 437.1A298.4 298.4 0 0 1 142.3 426.3L156.2 425.6A284.5 284.5 0 0 0 156.9 435.9Z" fill="#ffaa00"/>
<path d="M156.9 435.9A284.5 284.5 0 0 1 156.2 425.6L170.1 425A270.6 270.6 0 0 0 170.8 434.8Z" fill="#643c24"/>
<path d="M102.9 452.9A340 340 0 0 1 101.6 440.6L115.5 439.4A326.1 326.1 0 0 0 116.7 451.2Z" fill="#0053ca"/>
<path d="M116.7 451.2A326.1 326.1 0 0 1 115.5 439.4L129.3 438.3A312.2 312.2 0 0 0 130.5 449.5Z" fill="#ff6699"/>
<path d="M130.5 449.5A312.2 312.2 0 0 1 129.3 438.3L143.1 437.1A298.4 298.4 0 0 0 144.2 447.9Z" fill="#aad564"/>
<path d="M144.2 447.9A298.4 298.4 0 0 1 143.1 437.1L156.9 435.9A284.5 284.5 0 0 0 158 446.2Z" fill="#ffee00"/>
<path d="M158 446.2A284.5 284.5 0 0 1 156.9 435.9L170.8 434.8A270.6 270.6 0 0 0 171.8 444.5Z" fill="#d2814e"/>
<path d="M104.6 465.1A340 340 0 0 1 102.9 452.9L116.7 451.2A326.1 326.1 0 0 0 118.3 462.9Z" fill="#0096a3"/>
<path d="M118.3 462.9A326.1 326.1 0 0 1 116.7 451.2L130.5 449.5A312.2 312.2 0 0 0 132 460.8Z" fill="#ff9966"/>
<path d="M132 460.8A312.2 312.2 0 0 1 130.5 449.5L144.2 447.9A298.4 298.4 0 0 0 145.7 458.6Z" fill="#bbdd64"/>
<path d="M145.7 458.6A298.4 298.4 0 0 1 144.2 447.9L158 446.2A284.5 284.5 0 0 0 159.4 456.4Z" fill="#ffaa00"/>
<path d="M159.4 456.4A284.5 284.5 0 0 1 158 446.2L171.8 444.5A270.6 270.6 0 0 0 173.1 454.3Z" fill="#643c24"/>
<path d="M106.7 477.2A340 340 0 0 1 104.6 465.1L118.3 462.9A326.1 326.1 0 0 0 120.4 474.5Z" fill="#0043d3"/>
<path d="M120.4 474.5A326.1 326.1 0 0 1 118.3 462.9L132 460.8A312.2 312.2 0 0 0 134 471.9Z" fill="#ff6699"/>
<path d="M134 471.9A312.2 312.2 0 0 1 132 460.8L145.7 458.6A298.4 298.4 0 0 0 147.5 469.2Z" fill="#88c464"/>
<path d="M147.5 469.2A298.4 298.4 0 0 1 145.7 458.6L159.4 456.4A284.5 284.5 0 0 0 161.2 466.6Z" fill="#ffee00"/>
<path d="M161.2 466.6A284.5 284.5 0 0 1 159.4 456.4L173.1 454.3A270.6 270.6 0 0 0 174.8 463.9Z" fill="#df8a53"/>
<path d="M109.6 490.5A340 340 0 0 1 106.7 477.2L120.4 474.5A326.1 326.1 0 0 0 123.1 487.3Z" fill="#00a799"/>
<path d="M123.1 487.3A326.1 326.1 0 0 1 120.4 474.5L134 471.9A312.2 312.2 0 0 0 136.6 484.1Z" fill="#ffdd22"/>
<path d="M136.6 484.1A312.2 312.2 0 0 1 134 471.9L147.5 469.2A298.4 298.4 0 0 0 150.1 480.9Z" fill="#aad564"/>
<path d="M150.1 480.9A298.4 298.4 0 0 1 147.5 469.2L161.2 466.6A284.5 284.5 0 0 0 163.6 477.7Z" fill="#ffee00"/>
<path d="M163.6 477.7A284.5 284.5 0 0 1 161.2 466.6L174.8 463.9A270.6 270.6 0 0 0 177.1 474.5Z" fill="#935835"/>
<path d="M113.9 506.7A340 340 0 0 1 110.3 493.6L123.8 490.3A326.1 326.1 0 0 0 127.2 502.9Z" fill="#0064c0"/>
<path d="M127.2 502.9A326.1 326.1 0 0 1 123.8 490.3L137.3 486.9A312.2 312.2 0 0 0 140.6 499Z" fill="#ff8877"/>
<path d="M140.6 499A312.2 312.2 0 0 1 137.3 486.9L150.7 483.6A298.4 298.4 0 0 0 153.8 495.1Z" fill="#88c464"/>
<path d="M153.8 495.1A298.4 298.4 0 0 1 150.7 483.6L164.2 480.3A284.5 284.5 0 0 0 167.2 491.3Z" fill="#ffcc00"/>
<path d="M167.2 491.3A284.5 284.5 0 0 1 164.2 480.3L177.7 477A270.6 270.6 0 0 0 180.5 487.4Z" fill="#a4633c"/>
<path d="M117.5 518.4A340 340 0 0 1 113.9 506.7L127.2 502.9A326.1 326.1 0 0 0 130.7 514.1Z" fill="#0096a3"/>
<path d="M130.7 514.1A326.1 326.1 0 0 1 127.2 502.9L140.6 499A312.2 312.2 0 0 0 143.9 509.7Z" fill="#ff9966"/>
<path d="M143.9 509.7A312.2 312.2 0 0 1 140.6 499L153.8 495.1A298.4 298.4 0 0 0 157 505.4Z" fill="#cce664"/>
<path d="M157 505.4A298.4 298.4 0 0 1 153.8 495.1L167.2 491.3A284.5 284.5 0 0 0 170.2 501.1Z" fill="#ffcc00"/>
<path d="M170.2 501.1A284.5 284.5 0 0 1 167.2 491.3L180.5 487.4A270.6 270.6 0 0 0 183.4 496.7Z" fill="#643c24"/>
<path d="M121.5 530A340 340 0 0 1 117.5 518.4L130.7 514.1A326.1 326.1 0 0 0 134.6 525.2Z" fill="#0043d3"/>
<path d="M134.6 525.2A326.1 326.1 0 0 1 130.7 514.1L143.9 509.7A312.2 312.2 0 0 0 147.6 520.4Z" fill="#ff6699"/>
<path d="M147.6 520.4A312.2 312.2 0 0 1 143.9 509.7L157 505.4A298.4 298.4 0 0 0 160.6 515.6Z" fill="#99cc64"/>
<path d="M160.6 515.6A298.4 298.4 0 0 1 157 505.4L170.2 501.1A284.5 284.5 0 0 0 173.6 510.8Z" fill="#ffcc00"/>
<path d="M173.6 510.8A284.5 284.5 0 0 1 170.2 501.1L183.4 496.7A270.6 270.6 0 0 0 186.6 505.9Z" fill="#814e2f"/>
<path d="M126 541.5A340 340 0 0 1 121.5 530L134.6 525.2A326.1 326.1 0 0 0 138.9 536.2Z" fill="#0064c0"/>
<path d="M138.9 536.2A326.1 326.1 0 0 1 134.6 525.2L147.6 520.4A312.2 312.2 0 0 0 151.7 530.9Z" fill="#ff9966"/>
<path d="M151.7 530.9A312.2 312.2 0 0 1 147.6 520.4L160.6 515.6A298.4 298.4 0 0 0 164.5 525.6Z" fill="#88c464"/>
<path d="M164.5 525.6A298.4 298.4 0 0 1 160.6 515.6L173.6 510.8A284.5 284.5 0 0 0 177.3 520.3Z" fill="#ffee00"/>
<path d="M177.3 520.3A284.5 284.5 0 0 1 173.6 510.8L186.6 505.9A270.6 270.6 0 0 0 190.2 515Z" fill="#b56e43"/>
<path d="M130.9 552.7A340 340 0 0 1 126 541.5L138.9 536.2A326.1 326.1 0 0 0 143.5 547Z" fill="#0021e7"/>
<path d="M143.5 547A326.1 326.1 0 0 1 138.9 536.2L151.7 530.9A312.2 312.2 0 0 0 156.2 541.2Z" fill="#ff33cc"/>
<path d="M156.2 541.2A312.2 312.2 0 0 1 151.7 530.9L164.5 525.6A298.4 298.4 0 0 0 168.8 535.5Z" fill="#aad564"/>
<path d="M168.8 535.5A298.4 298.4 0 0 1 164.5 525.6L177.3 520.3A284.5 284.5 0 0 0 181.4 529.7Z" fill="#ffee00"/>
<path d="M181.4 529.7A284.5 284.5 0 0 1 177.3 520.3L190.2 515A270.6 270.6 0 0 0 194.1 524Z" fill="#df8a53"/>
<path d="M136.2 563.8A340 340 0 0 1 130.9 552.7L143.5 547A326.1 326.1 0 0 0 148.6 557.6Z" fill="#0032dd"/>
<path d="M148.6 557.6A326.1 326.1 0 0 1 143.5 547L156.2 541.2A312.2 312.2 0 0 0 161 551.4Z" fill="#ff6699"/>
<path d="M161 551.4A312.2 312.2 0 0 1 156.2 541.2L168.8 535.5A298.4 298.4 0 0 0 173.4 545.2Z" fill="#aad564"/>
<path d="M173.4 545.2A298.4 298.4 0 0 1 168.8 535.5L181.4 529.7A284.5 284.5 0 0 0 185.8 539Z" fill="#ffee00"/>
<path d="M185.8 539A284.5 284.5 0 0 1 181.4 529.7L194.1 524A270.6 270.6 0 0 0 198.3 532.8Z" fill="#814e2f"/>
<path d="M141.8 574.7A340 340 0 0 1 136.2 563.8L148.6 557.6A326.1 326.1 0 0 0 154 568Z" fill="#0075b6"/>
<path d="M154 568A326.1 326.1 0 0 1 148.6 557.6L161 551.4A312.2 312.2 0 0 0 166.2 561.4Z" fill="#ff9966"/>
<path d="M166.2 561.4A312.2 312.2 0 0 1 161 551.4L173.4 545.2A298.4 298.4 0 0 0 178.4 554.8Z" fill="#88c464"/>
<path d="M178.4 554.8A298.4 298.4 0 0 1 173.4 545.2L185.8 539A284.5 284.5 0 0 0 190.6 548.1Z" fill="#ffee00"/>
<path d="M190.6 548.1A284.5 284.5 0 0 1 185.8 539L198.3 532.8A270.6 270.6 0 0 0 202.8 541.5Z" fill="#814e2f"/>
<path d="M147.9 585.3A340 340 0 0 1 141.8 574.7L154 568A326.1 326.1 0 0 0 159.8 578.2Z" fill="#0085ad"/>
<path d="M159.8 578.2A326.1 326.1 0 0 1 154 568L166.2 561.4A312.2 312.2 0 0 0 171.8 571.1Z" fill="#ff9966"/>
<path d="M171.8 571.1A312.2 312.2 0 0 1 166.2 561.4L178.4 554.8A298.4 298.4 0 0 0 183.7 564.1Z" fill="#bbdd64"/>
<path d="M183.7 564.1A298.4 298.4 0 0 1 178.4 554.8L190.6 548.1A284.5 284.5 0 0 0 195.6 557Z" fill="#ffcc00"/>
<path d="M195.6 557A284.5 284.5 0 0 1 190.6 548.1L202.8 541.5A270.6 270.6 0 0 0 207.6 549.9Z" fill="#814e2f"/>
<path d="M154.3 595.7A340 340 0 0 1 147.9 585.3L159.8 578.2A326.1 326.1 0 0 0 166 588.2Z" fill="#0085ad"/>
<path d="M166 588.2A326.1 326.1 0 0 1 159.8 578.2L171.8 571.1A312.2 312.2 0 0 0 177.7 580.7Z" fill="#ff9966"/>
<path d="M177.7 580.7A312.2 312.2 0 0 1 171.8 571.1L183.7 564.1A298.4 298.4 0 0 0 189.3 573.3Z" fill="#bbdd64"/>
<path d="M189.3 573.3A298.4 298.4 0 0 1 183.7 564.1L195.6 557A284.5 284.5 0 0 0 201 565.8Z" fill="#ffcc00"/>
<path d="M201 565.8A284.5 284.5 0 0 1 195.6 557L207.6 549.9A270.6 270.6 0 0 0 212.7 558.2Z" fill="#935835"/>
<path d="M161.1 605.9A340 340 0 0 1 154.3 595.7L166 588.2A326.1 326.1 0 0 0 172.6 598Z" fill="#0085ad"/>
<path d="M172.6 598A326.1 326.1 0 0 1 166 588.2L177.7 580.7A312.2 312.2 0 0 0 184 590.1Z" fill="#ff8877"/>
<path d="M184 590.1A312.2 312.2 0 0 1 177.7 580.7L189.3 573.3A298.4 298.4 0 0 0 195.3 582.2Z" fill="#cce664"/>
<path d="M195.3 582.2A298.4 298.4 0 0 1 189.3 573.3L201 565.8A284.5 284.5 0 0 0 206.7 574.3Z" fill="#ffcc00"/>
<path d="M206.7 574.3A284.5 284.5 0 0 1 201 565.8L212.7 558.2A270.6 270.6 0 0 0 218.1 566.4Z" fill="#814e2f"/>
<path d="M169.1 617A340 340 0 0 1 161.1 605.9L172.6 598A326.1 326.1 0 0 0 180.2 608.6Z" fill="#0053ca"/>
<path d="M180.2 608.6A326.1 326.1 0 0 1 172.6 598L184 590.1A312.2 312.2 0 0 0 191.3 600.2Z" fill="#ff8877"/>
<path d="M191.3 600.2A312.2 312.2 0 0 1 184 590.1L195.3 582.2A298.4 298.4 0 0 0 202.3 591.9Z" fill="#88c464"/>
<path d="M202.3 591.9A298.4 298.4 0 0 1 195.3 582.2L206.7 574.3A284.5 284.5 0 0 0 213.4 583.5Z" fill="#ffee00"/>
<path d="M213.4 583.5A284.5 284.5 0 0 1 206.7 574.3L218.1 566.4A270.6 270.6 0 0 0 224.5 575.1Z" fill="#935835"/>
<path d="M179.6 630.2A340 340 0 0 1 171.1 619.5L182.1 611.1A326.1 326.1 0 0 0 190.3 621.2Z" fill="#0053ca"/>
<path d="M190.3 621.2A326.1 326.1 0 0 1 182.1 611.1L193.1 602.6A312.2 312.2 0 0 0 200.9 612.3Z" fill="#ff6699"/>
<path d="M200.9 612.3A312.2 312.2 0 0 1 193.1 602.6L204 594.1A298.4 298.4 0 0 0 211.5 603.5Z" fill="#cce664"/>
<path d="M211.5 603.5A298.4 298.4 0 0 1 204 594.1L215.1 585.7A284.5 284.5 0 0 0 222.2 594.5Z" fill="#ffaa00"/>
<path d="M222.2 594.5A284.5 284.5 0 0 1 215.1 585.7L226.1 577.2A270.6 270.6 0 0 0 232.8 585.6Z" fill="#b56e43"/>
<path d="M187.7 639.4A340 340 0 0 1 179.6 630.2L190.3 621.2A326.1 326.1 0 0 0 198 630.1Z" fill="#0043d3"/>
<path d="M198 630.1A326.1 326.1 0 0 1 190.3 621.2L200.9 612.3A312.2 312.2 0 0 0 208.3 620.8Z" fill="#ff8877"/>
<path d="M208.3 620.8A312.2 312.2 0 0 1 200.9 612.3L211.5 603.5A298.4 298.4 0 0 0 218.6 611.6Z" fill="#88c464"/>
<path d="M218.6 611.6A298.4 298.4 0 0 1 211.5 603.5L222.2 594.5A284.5 284.5 0 0 0 228.9 602.3Z" fill="#ffee00"/>
<path d="M228.9 602.3A284.5 284.5 0 0 1 222.2 594.5L232.8 585.6A270.6 270.6 0 0 0 239.3 593Z" fill="#c57849"/>
<path d="M196.1 648.4A340 340 0 0 1 187.7 639.4L198 630.1A326.1 326.1 0 0 0 206.1 638.8Z" fill="#0021e7"/>
<path d="M206.1 638.8A326.1 326.1 0 0 1 198 630.1L208.3 620.8A312.2 312.2 0 0 0 216.1 629.1Z" fill="#ff55aa"/>
<path d="M216.1 629.1A312.2 312.2 0 0 1 208.3 620.8L218.6 611.6A298.4 298.4 0 0 0 226 619.5Z" fill="#77bb64"/>
<path d="M226 619.5A298.4 298.4 0 0 1 218.6 611.6L228.9 602.3A284.5 284.5 0 0 0 236 609.8Z" fill="#ffee00"/>
<path d="M236 609.8A284.5 284.5 0 0 1 228.9 602.3L239.3 593A270.6 270.6 0 0 0 245.9 600.2Z" fill="#df8a53"/>
<path d="M204.8 657.1A340 340 0 0 1 196.1 648.4L206.1 638.8A326.1 326.1 0 0 0 214.4 647.1Z" fill="#0053ca"/>
<path d="M214.4 647.1A326.1 326.1 0 0 1 206.1 638.8L216.1 629.1A312.2 312.2 0 0 0 224.1 637.1Z" fill="#ff7788"/>
<path d="M224.1 637.1A312.2 312.2 0 0 1 216.1 629.1L226 619.5A298.4 298.4 0 0 0 233.6 627.1Z" fill="#aad564"/>
<path d="M233.6 627.1A298.4 298.4 0 0 1 226 619.5L236 609.8A284.5 284.5 0 0 0 243.3 617.1Z" fill="#ffcc00"/>
<path d="M243.3 617.1A284.5 284.5 0 0 1 236 609.8L245.9 600.2A270.6 270.6 0 0 0 252.9 607.1Z" fill="#df8a53"/>
<path d="M213.8 665.5A340 340 0 0 1 204.8 657.1L214.4 647.1A326.1 326.1 0 0 0 223.1 655.1Z" fill="#0064c0"/>
<path d="M223.1 655.1A326.1 326.1 0 0 1 214.4 647.1L224.1 637.1A312.2 312.2 0 0 0 232.3 644.8Z" fill="#ff9966"/>
<path d="M232.3 644.8A312.2 312.2 0 0 1 224.1 637.1L233.6 627.1A298.4 298.4 0 0 0 241.5 634.5Z" fill="#55aa64"/>
<path d="M241.5 634.5A298.4 298.4 0 0 1 233.6 627.1L243.3 617.1A284.5 284.5 0 0 0 250.8 624.1Z" fill="#ffcc00"/>
<path d="M250.8 624.1A284.5 284.5 0 0 1 243.3 617.1L252.9 607.1A270.6 270.6 0 0 0 260.1 613.8Z" fill="#814e2f"/>
<path d="M223.1 673.5A340 340 0 0 1 213.8 665.5L223.1 655.1A326.1 326.1 0 0 0 232 662.8Z" fill="#0075b6"/>
<path d="M232 662.8A326.1 326.1 0 0 1 223.1 655.1L232.3 644.8A312.2 312.2 0 0 0 240.9 652.1Z" fill="#ff9966"/>
<path d="M240.9 652.1A312.2 312.2 0 0 1 232.3 644.8L241.5 634.5A298.4 298.4 0 0 0 249.7 641.5Z" fill="#66b364"/>
<path d="M249.7 641.5A298.4 298.4 0 0 1 241.5 634.5L250.8 624.1A284.5 284.5 0 0 0 258.6 630.8Z" fill="#ff9900"/>
<path d="M258.6 630.8A284.5 284.5 0 0 1 250.8 624.1L260.1 613.8A270.6 270.6 0 0 0 267.5 620.1Z" fill="#935835"/>
<path d="M232.7 681.2A340 340 0 0 1 223.1 673.5L232 662.8A326.1 326.1 0 0 0 241.2 670.2Z" fill="#0032dd"/>
<path d="M241.2 670.2A326.1 326.1 0 0 1 232 662.8L240.9 652.1A312.2 312.2 0 0 0 249.7 659.2Z" fill="#ff55aa"/>
<path d="M249.7 659.2A312.2 312.2 0 0 1 240.9 652.1L249.7 641.5A298.4 298.4 0 0 0 258.2 648.3Z" fill="#66b364"/>
<path d="M258.2 648.3A298.4 298.4 0 0 1 249.7 641.5L258.6 630.8A284.5 284.5 0 0 0 266.6 637.3Z" fill="#ffee00"/>
<path d="M266.6 637.3A284.5 284.5 0 0 1 258.6 630.8L267.5 620.1A270.6 270.6 0 0 0 275.1 626.3Z" fill="#df8a53"/>
<path d="M242.6 688.6A340 340 0 0 1 232.7 681.2L241.2 670.2A326.1 326.1 0 0 0 250.7 677.3Z" fill="#0043d3"/>
<path d="M250.7 677.3A326.1 326.1 0 0 1 241.2 670.2L249.7 659.2A312.2 312.2 0 0 0 258.8 665.9Z" fill="#ff6699"/>
<path d="M258.8 665.9A312.2 312.2 0 0 1 249.7 659.2L258.2 648.3A298.4 298.4 0 0 0 266.8 654.7Z" fill="#77bb64"/>
<path d="M266.8 654.7A298.4 298.4 0 0 1 258.2 648.3L266.6 637.3A284.5 284.5 0 0 0 274.9 643.4Z" fill="#ffcc00"/>
<path d="M274.9 643.4A284.5 284.5 0 0 1 266.6 637.3L275.1 626.3A270.6 270.6 0 0 0 283 632.1Z" fill="#935835"/>
<path d="M252.8 695.5A340 340 0 0 1 242.6 688.6L250.7 677.3A326.1 326.1 0 0 0 260.4 683.9Z" fill="#0032dd"/>
<path d="M260.4 683.9A326.1 326.1 0 0 1 250.7 677.3L258.8 665.9A312.2 312.2 0 0 0 268.1 672.4Z" fill="#ff6699"/>
<path d="M268.1 672.4A312.2 312.2 0 0 1 258.8 665.9L266.8 654.7A298.4 298.4 0 0 0 275.7 660.8Z" fill="#88c464"/>
<path d="M275.7 660.8A298.4 298.4 0 0 1 266.8 654.7L274.9 643.4A284.5 284.5 0 0 0 283.4 649.3Z" fill="#ffee00"/>
<path d="M283.4 649.3A284.5 284.5 0 0 1 274.9 643.4L283 632.1A270.6 270.6 0 0 0 291.1 637.7Z" fill="#935835"/>
<path d="M263.2 702.1A340 340 0 0 1 252.8 695.5L260.4 683.9A326.1 326.1 0 0 0 270.4 690.3Z" fill="#0011f0"/>
<path d="M270.4 690.3A326.1 326.1 0 0 1 260.4 683.9L268.1 672.4A312.2 312.2 0 0 0 277.6 678.4Z" fill="#ff33cc"/>
<path d="M277.6 678.4A312.2 312.2 0 0 1 268.1 672.4L275.7 660.8A298.4 298.4 0 0 0 284.8 666.6Z" fill="#339964"/>
<path d="M284.8 666.6A298.4 298.4 0 0 1 275.7 660.8L283.4 649.3A284.5 284.5 0 0 0 292.1 654.8Z" fill="#ffee00"/>
<path d="M292.1 654.8A284.5 284.5 0 0 1 283.4 649.3L291.1 637.7A270.6 270.6 0 0 0 299.3 642.9Z" fill="#d2814e"/>
<path d="M273.8 708.4A340 340 0 0 1 263.2 702.1L270.4 690.3A326.1 326.1 0 0 0 280.6 696.3Z" fill="#0053ca"/>
<path d="M280.6 696.3A326.1 326.1 0 0 1 270.4 690.3L277.6 678.4A312.2 312.2 0 0 0 287.4 684.1Z" fill="#ff8877"/>
<path d="M287.4 684.1A312.2 312.2 0 0 1 277.6 678.4L284.8 666.6A298.4 298.4 0 0 0 294.2 672.1Z" fill="#66b364"/>
<path d="M294.2 672.1A298.4 298.4 0 0 1 284.8 666.6L292.1 654.8A284.5 284.5 0 0 0 301 660Z" fill="#ffbb00"/>
<path d="M301 660A284.5 284.5 0 0 1 292.1 654.8L299.3 642.9A270.6 270.6 0 0 0 307.8 647.9Z" fill="#a4633c"/>
<path d="M284.6 714.2A340 340 0 0 1 273.8 708.4L280.6 696.3A326.1 326.1 0 0 0 291 701.9Z" fill="#0075b6"/>
<path d="M291 701.9A326.1 326.1 0 0 1 280.6 696.3L287.4 684.1A312.2 312.2 0 0 0 297.3 689.5Z" fill="#ff8877"/>
<path d="M297.3 689.5A312.2 312.2 0 0 1 287.4 684.1L294.2 672.1A298.4 298.4 0 0 0 303.7 677.2Z" fill="#cce664"/>
<path d="M303.7 677.2A298.4 298.4 0 0 1 294.2 672.1L301 660A284.5 284.5 0 0 0 310 664.9Z" fill="#ffbb00"/>
<path d="M310 664.9A284.5 284.5 0 0 1 301 660L307.8 647.9A270.6 270.6 0 0 0 316.4 652.5Z" fill="#a4633c"/>
<path d="M295.7 719.7A340 340 0 0 1 284.6 714.2L291 701.9A326.1 326.1 0 0 0 301.6 707.1Z" fill="#0043d3"/>
<path d="M301.6 707.1A326.1 326.1 0 0 1 291 701.9L297.3 689.5A312.2 312.2 0 0 0 307.5 694.5Z" fill="#ff6699"/>
<path d="M307.5 694.5A312.2 312.2 0 0 1 297.3 689.5L303.7 677.2A298.4 298.4 0 0 0 313.4 682Z" fill="#66b364"/>
<path d="M313.4 682A298.4 298.4 0 0 1 303.7 677.2L310 664.9A284.5 284.5 0 0 0 319.3 669.4Z" fill="#ffee00"/>
<path d="M319.3 669.4A284.5 284.5 0 0 1 310 664.9L316.4 652.5A270.6 270.6 0 0 0 325.2 656.9Z" fill="#d2814e"/>
<path d="M306.9 724.7A340 340 0 0 1 295.7 719.7L301.6 707.1A326.1 326.1 0 0 0 312.4 711.9Z" fill="#0064c0"/>
<path d="M312.4 711.9A326.1 326.1 0 0 1 301.6 707.1L307.5 694.5A312.2 312.2 0 0 0 317.8 699.1Z" fill="#ff7788"/>
<path d="M317.8 699.1A312.2 312.2 0 0 1 307.5 694.5L313.4 682A298.4 298.4 0 0 0 323.2 686.4Z" fill="#99cc64"/>
<path d="M323.2 686.4A298.4 298.4 0 0 1 313.4 682L319.3 669.4A284.5 284.5 0 0 0 328.7 673.6Z" fill="#ffcc00"/>
<path d="M328.7 673.6A284.5 284.5 0 0 1 319.3 669.4L325.2 656.9A270.6 270.6 0 0 0 334.1 660.9Z" fill="#a4633c"/>
<path d="M319.5 729.8A340 340 0 0 1 306.9 724.7L312.4 711.9A326.1 326.1 0 0 0 324.5 716.8Z" fill="#0075b6"/>
<path d="M324.5 716.8A326.1 326.1 0 0 1 312.4 711.9L317.8 699.1A312.2 312.2 0 0 0 329.4 703.8Z" fill="#ff8877"/>
<path d="M329.4 703.8A312.2 312.2 0 0 1 317.8 699.1L323.2 686.4A298.4 298.4 0 0 0 334.3 690.9Z" fill="#77bb64"/>
<path d="M334.3 690.9A298.4 298.4 0 0 1 323.2 686.4L328.7 673.6A284.5 284.5 0 0 0 339.3 677.9Z" fill="#ff9900"/>
<path d="M339.3 677.9A284.5 284.5 0 0 1 328.7 673.6L334.1 660.9A270.6 270.6 0 0 0 344.2 664.9Z" fill="#432918"/>
<path d="M335.4 735.4A340 340 0 0 1 322.1 730.7L326.9 717.7A326.1 326.1 0 0 0 339.7 722.1Z" fill="#0085ad"/>
<path d="M339.7 722.1A326.1 326.1 0 0 1 326.9 717.7L331.7 704.7A312.2 312.2 0 0 0 344 708.9Z" fill="#fff"/>
<path d="M344 708.9A312.2 312.2 0 0 1 331.7 704.7L336.5 691.7A298.4 298.4 0 0 0 348.2 695.8Z" fill="#fff"/>
<path d="M348.2 695.8A298.4 298.4 0 0 1 336.5 691.7L341.4 678.7A284.5 284.5 0 0 0 352.5 682.6Z" fill="#fff"/>
<path d="M352.5 682.6A284.5 284.5 0 0 1 341.4 678.7L346.2 665.7A270.6 270.6 0 0 0 356.8 669.4Z" fill="#ed9459"/>
<path d="M347.6 739.1A340 340 0 0 1 335.4 735.4L339.7 722.1A326.1 326.1 0 0 0 351.4 725.7Z" fill="#0053ca"/>
<path d="M351.4 725.7A326.1 326.1 0 0 1 339.7 722.1L344 708.9A312.2 312.2 0 0 0 355.2 712.3Z" fill="#fff"/>
<path d="M355.2 712.3A312.2 312.2 0 0 1 344 708.9L348.2 695.8A298.4 298.4 0 0 0 359 699.1Z" fill="#fff"/>
<path d="M359 699.1A298.4 298.4 0 0 1 348.2 695.8L352.5 682.6A284.5 284.5 0 0 0 362.8 685.7Z" fill="#fff"/>
<path d="M362.8 685.7A284.5 284.5 0 0 1 352.5 682.6L356.8 669.4A270.6 270.6 0 0 0 366.5 672.3Z" fill="#f7aa63"/>
<path d="M360 742.4A340 340 0 0 1 347.6 739.1L351.4 725.7A326.1 326.1 0 0 0 363.3 728.8Z" fill="#0064c0"/>
<path d="M363.3 728.8A326.1 326.1 0 0 1 351.4 725.7L355.2 712.3A312.2 312.2 0 0 0 366.6 715.3Z" fill="#fff"/>
<path d="M366.6 715.3A312.2 312.2 0 0 1 355.2 712.3L359 699.1A298.4 298.4 0 0 0 369.8 701.9Z" fill="#fff"/>
<path d="M369.8 701.9A298.4 298.4 0 0 1 359 699.1L362.8 685.7A284.5 284.5 0 0 0 373.1 688.4Z" fill="#fff"/>
<path d="M373.1 688.4A284.5 284.5 0 0 1 362.8 685.7L366.5 672.3A270.6 270.6 0 0 0 376.4 674.9Z" fill="#b56e43"/>
<path d="M372.5 745.1A340 340 0 0 1 360 742.4L363.3 728.8A326.1 326.1 0 0 0 375.3 731.5Z" fill="#0021e7"/>
<path d="M375.3 731.5A326.1 326.1 0 0 1 363.3 728.8L366.6 715.3A312.2 312.2 0 0 0 378 717.9Z" fill="#fff"/>
<path d="M378 717.9A312.2 312.2 0 0 1 366.6 715.3L369.8 701.9A298.4 298.4 0 0 0 380.8 704.4Z" fill="#fff"/>
<path d="M380.8 704.4A298.4 298.4 0 0 1 369.8 701.9L373.1 688.4A284.5 284.5 0 0 0 383.6 690.8Z" fill="#fff"/>
<path d="M383.6 690.8A284.5 284.5 0 0 1 373.1 688.4L376.4 674.9A270.6 270.6 0 0 0 386.3 677.1Z" fill="#ed9459"/>
<path d="M385.1 747.5A340 340 0 0 1 372.5 745.1L375.3 731.5A326.1 326.1 0 0 0 387.3 733.8Z" fill="#0043d3"/>
<path d="M387.3 733.8A326.1 326.1 0 0 1 375.3 731.5L378 717.9A312.2 312.2 0 0 0 389.6 720Z" fill="#fff"/>
<path d="M389.6 720A312.2 312.2 0 0 1 378 717.9L380.8 704.4A298.4 298.4 0 0 0 391.8 706.4Z" fill="#fff"/>
<path d="M391.8 706.4A298.4 298.4 0 0 1 380.8 704.4L383.6 690.8A284.5 284.5 0 0 0 394.1 692.7Z" fill="#fff"/>
<path d="M394.1 692.7A284.5 284.5 0 0 1 383.6 690.8L386.3 677.1A270.6 270.6 0 0 0 396.4 679Z" fill="#c57849"/>
<path d="M397.7 749.3A340 340 0 0 1 385.1 747.5L387.3 733.8A326.1 326.1 0 0 0 399.5 735.5Z" fill="#0085ad"/>
<path d="M399.5 735.5A326.1 326.1 0 0 1 387.3 733.8L389.6 720A312.2 312.2 0 0 0 401.2 721.7Z" fill="#fff"/>
<path d="M401.2 721.7A312.2 312.2 0 0 1 389.6 720L391.8 706.4A298.4 298.4 0 0 0 403 708Z" fill="#fff"/>
<path d="M403 708A298.4 298.4 0 0 1 391.8 706.4L394.1 692.7A284.5 284.5 0 0 0 404.7 694.3Z" fill="#fff"/>
<path d="M404.7 694.3A284.5 284.5 0 0 1 394.1 692.7L396.4 679A270.6 270.6 0 0 0 406.4 680.5Z" fill="#643c24"/>
<path d="M409.8 750.6A340 340 0 0 1 397.7 749.3L399.5 735.5A326.1 326.1 0 0 0 411 736.8Z" fill="#0064c0"/>
<path d="M411 736.8A326.1 326.1 0 0 1 399.5 735.5L401.2 721.7A312.2 312.2 0 0 0 412.3 722.9Z" fill="#fff"/>
<path d="M412.3 722.9A312.2 312.2 0 0 1 401.2 721.7L403 708A298.4 298.4 0 0 0 413.5 709.2Z" fill="#fff"/>
<path d="M413.5 709.2A298.4 298.4 0 0 1 403 708L404.7 694.3A284.5 284.5 0 0 0 414.8 695.3Z" fill="#fff"/>
<path d="M414.8 695.3A284.5 284.5 0 0 1 404.7 694.3L406.4 680.5A270.6 270.6 0 0 0 416 681.5Z" fill="#b56e43"/>
<path d="M427.3 751.7A340 340 0 0 1 413.6 750.9L414.6 737.1A326.1 326.1 0 0 0 427.9 737.9Z" fill="#00e973"/>
<path d="M427.9 737.9A326.1 326.1 0 0 1 414.6 737.1L415.7 723.2A312.2 312.2 0 0 0 428.4 724Z" fill="#fff"/>
<path d="M428.4 724A312.2 312.2 0 0 1 415.7 723.2L416.8 709.5A298.4 298.4 0 0 0 428.9 710.2Z" fill="#fff"/>
<path d="M428.9 710.2A298.4 298.4 0 0 1 416.8 709.5L417.9 695.6A284.5 284.5 0 0 0 429.5 696.3Z" fill="#fff"/>
<path d="M429.5 696.3A284.5 284.5 0 0 1 417.9 695.6L419 681.8A270.6 270.6 0 0 0 430 682.4Z" fill="#000000"/>
<path d="M445.4 752A340 340 0 0 1 431.6 751.9L431.9 738A326.1 326.1 0 0 0 445.2 738.1Z" fill="#00e973"/>
<path d="M445.2 738.1A326.1 326.1 0 0 1 431.9 738L432.3 724.1A312.2 312.2 0 0 0 445 724.2Z" fill="#fff"/>
<path d="M445 724.2A312.2 312.2 0 0 1 432.3 724.1L432.7 710.3A298.4 298.4 0 0 0 444.8 710.4Z" fill="#fff"/>
<path d="M444.8 710.4A298.4 298.4 0 0 1 432.7 710.3L433 696.4A284.5 284.5 0 0 0 444.6 696.5Z" fill="#fff"/>
<path d="M444.6 696.5A284.5 284.5 0 0 1 433 696.4L433.4 682.5A270.6 270.6 0 0 0 444.4 682.6Z" fill="#432918"/>
</g>
<g stroke="#1a1a1a" stroke-width="0.95">
<path d="M445.3 40.5A371.5 371.5 0 0 1 459.2 41L457.7 69.6A342.8 342.8 0 0 0 444.9 69.2Z" fill="#ff9999"/>
<path d="M459.2 41A371.5 371.5 0 0 1 472.6 41.9L470.1 70.5A342.8 342.8 0 0 0 457.7 69.6Z" fill="#cc0033"/>
<path d="M472.6 41.9A371.5 371.5 0 0 1 486 43.3L482.5 71.8A342.8 342.8 0 0 0 470.1 70.5Z" fill="#ff9933"/>
<path d="M486 43.3A371.5 371.5 0 0 1 499.3 45.2L494.8 73.5A342.8 342.8 0 0 0 482.5 71.8Z" fill="#660000"/>
<path d="M499.3 45.2A371.5 371.5 0 0 1 512.6 47.6L507 75.7A342.8 342.8 0 0 0 494.8 73.5Z" fill="#ff3366"/>
<path d="M512.6 47.6A371.5 371.5 0 0 1 525.8 50.4L519.2 78.4A342.8 342.8 0 0 0 507 75.7Z" fill="#ffcccc"/>
<path d="M525.8 50.4A371.5 371.5 0 0 1 538.8 53.8L531.2 81.4A342.8 342.8 0 0 0 519.2 78.4Z" fill="#ffcc99"/>
<path d="M538.8 53.8A371.5 371.5 0 0 1 551.7 57.6L543.1 85A342.8 342.8 0 0 0 531.2 81.4Z" fill="#993300"/>
<path d="M551.7 57.6A371.5 371.5 0 0 1 564.5 61.8L554.9 88.9A342.8 342.8 0 0 0 543.1 85Z" fill="#ffff33"/>
<path d="M564.5 61.8A371.5 371.5 0 0 1 577.1 66.6L566.5 93.3A342.8 342.8 0 0 0 554.9 88.9Z" fill="#ffff99"/>
<path d="M577.1 66.6A371.5 371.5 0 0 1 589.5 71.7L578 98A342.8 342.8 0 0 0 566.5 93.3Z" fill="#ff0000"/>
<path d="M589.5 71.7A371.5 371.5 0 0 1 601.8 77.4L589.3 103.2A342.8 342.8 0 0 0 578 98Z" fill="#996600"/>
<path d="M601.8 77.4A371.5 371.5 0 0 1 613.8 83.4L600.4 108.8A342.8 342.8 0 0 0 589.3 103.2Z" fill="#ff6600"/>
<path d="M613.8 83.4A371.5 371.5 0 0 1 625.5 89.9L611.2 114.8A342.8 342.8 0 0 0 600.4 108.8Z" fill="#ff6666"/>
<path d="M625.5 89.9A371.5 371.5 0 0 1 637.1 96.8L621.9 121.2A342.8 342.8 0 0 0 611.2 114.8Z" fill="#cc9900"/>
<path d="M637.1 96.8A371.5 371.5 0 0 1 648.4 104.2L632.3 127.9A342.8 342.8 0 0 0 621.9 121.2Z" fill="#ffcc00"/>
<path d="M648.4 104.2A371.5 371.5 0 0 1 659.4 111.9L642.5 135.1A342.8 342.8 0 0 0 632.3 127.9Z" fill="#ff9900"/>
<path d="M659.4 111.9A371.5 371.5 0 0 1 670.1 120L652.3 142.6A342.8 342.8 0 0 0 642.5 135.1Z" fill="#ff0066"/>
<path d="M670.1 120A371.5 371.5 0 0 1 680.5 128.5L662 150.4A342.8 342.8 0 0 0 652.3 142.6Z" fill="#cc6600"/>
<path d="M680.5 128.5A371.5 371.5 0 0 1 690.6 137.4L671.3 158.6A342.8 342.8 0 0 0 662 150.4Z" fill="#ff6699"/>
<path d="M690.6 137.4A371.5 371.5 0 0 1 700.8 147L680.7 167.5A342.8 342.8 0 0 0 671.3 158.6Z" fill="#ff3300"/>
<path d="M704.5 150.7A371.5 371.5 0 0 1 714.2 160.9L693 180.3A342.8 342.8 0 0 0 684.1 170.9Z" fill="#00ffcc"/>
<path d="M714.2 160.9A371.5 371.5 0 0 1 723.1 170.9L701.2 189.6A342.8 342.8 0 0 0 693 180.3Z" fill="#66ffff"/>
<path d="M723.1 170.9A371.5 371.5 0 0 1 731.6 181.3L709.1 199.2A342.8 342.8 0 0 0 701.2 189.6Z" fill="#00ffff"/>
<path d="M731.6 181.3A371.5 371.5 0 0 1 739.8 192L716.6 209A342.8 342.8 0 0 0 709.1 199.2Z" fill="#33ffcc"/>
<path d="M739.8 192A371.5 371.5 0 0 1 747.5 203L723.8 219.2A342.8 342.8 0 0 0 716.6 209Z" fill="#009999"/>
<path d="M747.5 203A371.5 371.5 0 0 1 754.9 214.3L730.6 229.5A342.8 342.8 0 0 0 723.8 219.2Z" fill="#00cccc"/>
<path d="M754.9 214.3A371.5 371.5 0 0 1 761.9 225.8L737 240.2A342.8 342.8 0 0 0 730.6 229.5Z" fill="#006666"/>
<path d="M761.9 225.8A371.5 371.5 0 0 1 768.7 238L743.3 251.5A342.8 342.8 0 0 0 737 240.2Z" fill="#ccffff"/>
<path d="M771.1 242.7A371.5 371.5 0 0 1 777.2 255.3L751.2 267.4A342.8 342.8 0 0 0 745.5 255.8Z" fill="#ffffb4"/>
<path d="M777.2 255.3A371.5 371.5 0 0 1 782.7 267.6L756.2 278.8A342.8 342.8 0 0 0 751.2 267.4Z" fill="#fff0bf"/>
<path d="M782.7 267.6A371.5 371.5 0 0 1 787.7 280.1L760.9 290.3A342.8 342.8 0 0 0 756.2 278.8Z" fill="#ff99c8"/>
<path d="M787.7 280.1A371.5 371.5 0 0 1 792.2 292.8L765.1 302A342.8 342.8 0 0 0 760.9 290.3Z" fill="#ffa4c8"/>
<path d="M792.2 292.8A371.5 371.5 0 0 1 796.3 305.6L768.8 313.8A342.8 342.8 0 0 0 765.1 302Z" fill="#ffe0cb"/>
<path d="M796.3 305.6A371.5 371.5 0 0 1 800 318.6L772.2 325.8A342.8 342.8 0 0 0 768.8 313.8Z" fill="#ffc0c9"/>
<path d="M800 318.6A371.5 371.5 0 0 1 803.1 331.6L775.1 337.9A342.8 342.8 0 0 0 772.2 325.8Z" fill="#ffafc9"/>
<path d="M803.1 331.6A371.5 371.5 0 0 1 805.9 345.4L777.6 350.6A342.8 342.8 0 0 0 775.1 337.9Z" fill="#ffd0ca"/>
<path d="M806.8 350.6A371.5 371.5 0 0 1 808.8 364.5L780.4 368.2A342.8 342.8 0 0 0 778.5 355.3Z" fill="#ffccff"/>
<path d="M808.8 364.5A371.5 371.5 0 0 1 810.3 377.9L781.8 380.5A342.8 342.8 0 0 0 780.4 368.2Z" fill="#cc99ff"/>
<path d="M810.3 377.9A371.5 371.5 0 0 1 811.3 391.3L782.7 392.9A342.8 342.8 0 0 0 781.8 380.5Z" fill="#9933ff"/>
<path d="M811.3 391.3A371.5 371.5 0 0 1 811.8 404.8L783.1 405.3A342.8 342.8 0 0 0 782.7 392.9Z" fill="#660066"/>
<path d="M811.8 404.8A371.5 371.5 0 0 1 811.8 418.3L783.2 417.8A342.8 342.8 0 0 0 783.1 405.3Z" fill="#9900cc"/>
<path d="M811.8 418.3A371.5 371.5 0 0 1 811.4 431.8L782.7 430.2A342.8 342.8 0 0 0 783.2 417.8Z" fill="#ff99ff"/>
<path d="M811.4 431.8A371.5 371.5 0 0 1 810.4 445.2L781.8 442.6A342.8 342.8 0 0 0 782.7 430.2Z" fill="#ff66cc"/>
<path d="M810.4 445.2A371.5 371.5 0 0 1 809 458.6L780.5 455A342.8 342.8 0 0 0 781.8 442.6Z" fill="#990099"/>
<path d="M809 458.6A371.5 371.5 0 0 1 807 472L778.7 467.4A342.8 342.8 0 0 0 780.5 455Z" fill="#ff00ff"/>
<path d="M807 472A371.5 371.5 0 0 1 804.6 485.3L776.5 479.6A342.8 342.8 0 0 0 778.7 467.4Z" fill="#cc0099"/>
<path d="M804.6 485.3A371.5 371.5 0 0 1 801.6 499L773.7 492.3A342.8 342.8 0 0 0 776.5 479.6Z" fill="#cc33ff"/>
<path d="M800.3 504.1A371.5 371.5 0 0 1 796.5 517.7L769 509.5A342.8 342.8 0 0 0 772.5 497Z" fill="#ccffcc"/>
<path d="M796.5 517.7A371.5 371.5 0 0 1 792.5 530.6L765.3 521.4A342.8 342.8 0 0 0 769 509.5Z" fill="#ccff66"/>
<path d="M792.5 530.6A371.5 371.5 0 0 1 787.9 543.3L761.1 533.2A342.8 342.8 0 0 0 765.3 521.4Z" fill="#ccff99"/>
<path d="M787.9 543.3A371.5 371.5 0 0 1 782.9 555.8L756.5 544.7A342.8 342.8 0 0 0 761.1 533.2Z" fill="#99ff00"/>
<path d="M782.9 555.8A371.5 371.5 0 0 1 777.5 568.2L751.4 556.1A342.8 342.8 0 0 0 756.5 544.7Z" fill="#99cc00"/>
<path d="M777.5 568.2A371.5 371.5 0 0 1 771.6 580.4L746 567.4A342.8 342.8 0 0 0 751.4 556.1Z" fill="#669900"/>
<path d="M771.6 580.4A371.5 371.5 0 0 1 765.2 592.3L740.1 578.4A342.8 342.8 0 0 0 746 567.4Z" fill="#33ff33"/>
<path d="M765.2 592.3A371.5 371.5 0 0 1 758.4 604L733.9 589.2A342.8 342.8 0 0 0 740.1 578.4Z" fill="#99ff99"/>
<path d="M758.4 604A371.5 371.5 0 0 1 751.2 615.5L727.2 599.7A342.8 342.8 0 0 0 733.9 589.2Z" fill="#ccff00"/>
<path d="M751.2 615.5A371.5 371.5 0 0 1 743.6 626.6L720.2 610.1A342.8 342.8 0 0 0 727.2 599.7Z" fill="#00ff00"/>
<path d="M743.6 626.6A371.5 371.5 0 0 1 735.3 638L712.5 620.5A342.8 342.8 0 0 0 720.2 610.1Z" fill="#ccff33"/>
<path d="M732 642.1A371.5 371.5 0 0 1 723.1 653L701.2 634.4A342.8 342.8 0 0 0 709.5 624.4Z" fill="#ccccff"/>
<path d="M723.1 653A371.5 371.5 0 0 1 714.1 663.2L693 643.8A342.8 342.8 0 0 0 701.2 634.4Z" fill="#99ccff"/>
<path d="M714.1 663.2A371.5 371.5 0 0 1 704.8 673L684.4 652.8A342.8 342.8 0 0 0 693 643.8Z" fill="#9999ff"/>
<path d="M704.8 673A371.5 371.5 0 0 1 695.1 682.4L675.4 661.5A342.8 342.8 0 0 0 684.4 652.8Z" fill="#6666ff"/>
<path d="M695.1 682.4A371.5 371.5 0 0 1 685.1 691.5L666.2 669.9A342.8 342.8 0 0 0 675.4 661.5Z" fill="#6699ff"/>
<path d="M685.1 691.5A371.5 371.5 0 0 1 674.8 700.2L656.7 678A342.8 342.8 0 0 0 666.2 669.9Z" fill="#66ccff"/>
<path d="M674.8 700.2A371.5 371.5 0 0 1 664.1 708.6L646.8 685.7A342.8 342.8 0 0 0 656.7 678Z" fill="#3333ff"/>
<path d="M664.1 708.6A371.5 371.5 0 0 1 653.2 716.5L636.7 693A342.8 342.8 0 0 0 646.8 685.7Z" fill="#3366ff"/>
<path d="M653.2 716.5A371.5 371.5 0 0 1 642 724.1L626.4 700A342.8 342.8 0 0 0 636.7 693Z" fill="#0066ff"/>
<path d="M642 724.1A371.5 371.5 0 0 1 630.5 731.2L615.8 706.5A342.8 342.8 0 0 0 626.4 700Z" fill="#3399ff"/>
<path d="M630.5 731.2A371.5 371.5 0 0 1 618.7 737.9L604.9 712.7A342.8 342.8 0 0 0 615.8 706.5Z" fill="#0099ff"/>
<path d="M618.7 737.9A371.5 371.5 0 0 1 606.7 744.2L593.9 718.5A342.8 342.8 0 0 0 604.9 712.7Z" fill="#00ccf4"/>
<path d="M606.7 744.2A371.5 371.5 0 0 1 594.6 750L582.6 723.9A342.8 342.8 0 0 0 593.9 718.5Z" fill="#0033ff"/>
<path d="M594.6 750A371.5 371.5 0 0 1 582.2 755.4L571.2 728.9A342.8 342.8 0 0 0 582.6 723.9Z" fill="#0000ff"/>
<path d="M582.2 755.4A371.5 371.5 0 0 1 569 760.5L559.1 733.6A342.8 342.8 0 0 0 571.2 728.9Z" fill="#000099"/>
<path d="M564.7 762.1A371.5 371.5 0 0 1 550.8 766.7L542.3 739.3A342.8 342.8 0 0 0 555.1 735.1Z" fill="#202020"/>
<path d="M550.8 766.7A371.5 371.5 0 0 1 537.3 770.6L529.8 742.9A342.8 342.8 0 0 0 542.3 739.3Z" fill="#404040"/>
<path d="M537.3 770.6A371.5 371.5 0 0 1 523.7 774L517.3 746.1A342.8 342.8 0 0 0 529.8 742.9Z" fill="#606060"/>
<path d="M523.7 774A371.5 371.5 0 0 1 510 776.9L504.6 748.7A342.8 342.8 0 0 0 517.3 746.1Z" fill="#808080"/>
<path d="M510 776.9A371.5 371.5 0 0 1 496.2 779.3L491.9 750.9A342.8 342.8 0 0 0 504.6 748.7Z" fill="#9f9f9f"/>
<path d="M496.2 779.3A371.5 371.5 0 0 1 482.3 781.1L479 752.6A342.8 342.8 0 0 0 491.9 750.9Z" fill="#bfbfbf"/>
<path d="M482.3 781.1A371.5 371.5 0 0 1 468.3 782.4L466.2 753.8A342.8 342.8 0 0 0 479 752.6Z" fill="#dfdfdf"/>
<path d="M465.7 782.6A371.5 371.5 0 0 1 449.2 783.4L448.5 754.7A342.8 342.8 0 0 0 463.8 754Z" fill="#ff4000"/>
<path d="M423.8 40.9A371.5 371.5 0 0 1 440.5 40.5L440.5 69.2A342.8 342.8 0 0 0 425.1 69.5Z" fill="#ff9999"/>
<path d="M410.5 41.7A371.5 371.5 0 0 1 423.8 40.9L425.1 69.5A342.8 342.8 0 0 0 412.8 70.3Z" fill="#cc0033"/>
<path d="M397.1 43A371.5 371.5 0 0 1 410.5 41.7L412.8 70.3A342.8 342.8 0 0 0 400.5 71.5Z" fill="#ff9933"/>
<path d="M383.9 44.8A371.5 371.5 0 0 1 397.1 43L400.5 71.5A342.8 342.8 0 0 0 388.2 73.2Z" fill="#660000"/>
<path d="M370.7 47.1A371.5 371.5 0 0 1 383.9 44.8L388.2 73.2A342.8 342.8 0 0 0 376 75.3Z" fill="#ff3366"/>
<path d="M357.5 49.9A371.5 371.5 0 0 1 370.7 47.1L376 75.3A342.8 342.8 0 0 0 363.9 77.8Z" fill="#ffcccc"/>
<path d="M344.5 53.1A371.5 371.5 0 0 1 357.5 49.9L363.9 77.8A342.8 342.8 0 0 0 351.9 80.8Z" fill="#ffcc99"/>
<path d="M331.6 56.8A371.5 371.5 0 0 1 344.5 53.1L351.9 80.8A342.8 342.8 0 0 0 340 84.2Z" fill="#993300"/>
<path d="M318.9 60.9A371.5 371.5 0 0 1 331.6 56.8L340 84.2A342.8 342.8 0 0 0 328.3 88.1Z" fill="#ffff33"/>
<path d="M306.3 65.6A371.5 371.5 0 0 1 318.9 60.9L328.3 88.1A342.8 342.8 0 0 0 316.6 92.3Z" fill="#ffff99"/>
<path d="M293.9 70.6A371.5 371.5 0 0 1 306.3 65.6L316.6 92.3A342.8 342.8 0 0 0 305.2 97Z" fill="#ff0000"/>
<path d="M281.6 76.1A371.5 371.5 0 0 1 293.9 70.6L305.2 97A342.8 342.8 0 0 0 293.9 102.1Z" fill="#996600"/>
<path d="M269.6 82.1A371.5 371.5 0 0 1 281.6 76.1L293.9 102.1A342.8 342.8 0 0 0 282.8 107.6Z" fill="#ff6600"/>
<path d="M257.8 88.5A371.5 371.5 0 0 1 269.6 82.1L282.8 107.6A342.8 342.8 0 0 0 271.9 113.5Z" fill="#ff6666"/>
<path d="M246.2 95.3A371.5 371.5 0 0 1 257.8 88.5L271.9 113.5A342.8 342.8 0 0 0 261.2 119.7Z" fill="#cc9900"/>
<path d="M234.9 102.5A371.5 371.5 0 0 1 246.2 95.3L261.2 119.7A342.8 342.8 0 0 0 250.8 126.4Z" fill="#ffcc00"/>
<path d="M223.9 110.1A371.5 371.5 0 0 1 234.9 102.5L250.8 126.4A342.8 342.8 0 0 0 240.6 133.5Z" fill="#ff9900"/>
<path d="M213.1 118.2A371.5 371.5 0 0 1 223.9 110.1L240.6 133.5A342.8 342.8 0 0 0 230.7 140.9Z" fill="#ff0066"/>
<path d="M202.6 126.6A371.5 371.5 0 0 1 213.1 118.2L230.7 140.9A342.8 342.8 0 0 0 221 148.6Z" fill="#cc6600"/>
<path d="M192.5 135.3A371.5 371.5 0 0 1 202.6 126.6L221 148.6A342.8 342.8 0 0 0 211.6 156.7Z" fill="#ff6699"/>
<path d="M182.2 144.9A371.5 371.5 0 0 1 192.5 135.3L211.6 156.7A342.8 342.8 0 0 0 202.2 165.5Z" fill="#ff3300"/>
<path d="M168.6 158.7A371.5 371.5 0 0 1 178.5 148.6L198.7 168.9A342.8 342.8 0 0 0 189.6 178.3Z" fill="#00ffcc"/>
<path d="M159.6 168.8A371.5 371.5 0 0 1 168.6 158.7L189.6 178.3A342.8 342.8 0 0 0 181.3 187.6Z" fill="#66ffff"/>
<path d="M150.9 179.1A371.5 371.5 0 0 1 159.6 168.8L181.3 187.6A342.8 342.8 0 0 0 173.3 197.1Z" fill="#00ffff"/>
<path d="M142.6 189.8A371.5 371.5 0 0 1 150.9 179.1L173.3 197.1A342.8 342.8 0 0 0 165.7 207Z" fill="#33ffcc"/>
<path d="M134.8 200.8A371.5 371.5 0 0 1 142.6 189.8L165.7 207A342.8 342.8 0 0 0 158.4 217.1Z" fill="#009999"/>
<path d="M127.3 212.1A371.5 371.5 0 0 1 134.8 200.8L158.4 217.1A342.8 342.8 0 0 0 151.5 227.5Z" fill="#00cccc"/>
<path d="M120.2 223.6A371.5 371.5 0 0 1 127.3 212.1L151.5 227.5A342.8 342.8 0 0 0 144.9 238.2Z" fill="#006666"/>
<path d="M113.3 235.9A371.5 371.5 0 0 1 120.2 223.6L144.9 238.2A342.8 342.8 0 0 0 138.6 249.5Z" fill="#ccffff"/>
<path d="M104.6 253.2A371.5 371.5 0 0 1 110.8 240.5L136.3 253.8A342.8 342.8 0 0 0 130.5 265.4Z" fill="#ffffb4"/>
<path d="M99 265.5A371.5 371.5 0 0 1 104.6 253.2L130.5 265.4A342.8 342.8 0 0 0 125.4 276.8Z" fill="#fff0bf"/>
<path d="M93.9 278A371.5 371.5 0 0 1 99 265.5L125.4 276.8A342.8 342.8 0 0 0 120.7 288.4Z" fill="#ff99c8"/>
<path d="M89.3 290.7A371.5 371.5 0 0 1 93.9 278L120.7 288.4A342.8 342.8 0 0 0 116.4 300.1Z" fill="#ffa4c8"/>
<path d="M85.1 303.5A371.5 371.5 0 0 1 89.3 290.7L116.4 300.1A342.8 342.8 0 0 0 112.5 311.9Z" fill="#ffe0cb"/>
<path d="M81.4 316.5A371.5 371.5 0 0 1 85.1 303.5L112.5 311.9A342.8 342.8 0 0 0 109.1 323.9Z" fill="#ffc0c9"/>
<path d="M78.1 329.6A371.5 371.5 0 0 1 81.4 316.5L109.1 323.9A342.8 342.8 0 0 0 106.1 336Z" fill="#ffafc9"/>
<path d="M75.3 343.4A371.5 371.5 0 0 1 78.1 329.6L106.1 336A342.8 342.8 0 0 0 103.5 348.7Z" fill="#ffd0ca"/>
<path d="M72.2 362.5A371.5 371.5 0 0 1 74.4 348.6L102.6 353.5A342.8 342.8 0 0 0 100.7 366.3Z" fill="#ffccff"/>
<path d="M70.7 375.9A371.5 371.5 0 0 1 72.2 362.5L100.7 366.3A342.8 342.8 0 0 0 99.2 378.7Z" fill="#cc99ff"/>
<path d="M69.6 389.4A371.5 371.5 0 0 1 70.7 375.9L99.2 378.7A342.8 342.8 0 0 0 98.2 391.1Z" fill="#9933ff"/>
<path d="M69 402.8A371.5 371.5 0 0 1 69.6 389.4L98.2 391.1A342.8 342.8 0 0 0 97.7 403.6Z" fill="#660066"/>
<path d="M68.9 416.3A371.5 371.5 0 0 1 69 402.8L97.7 403.6A342.8 342.8 0 0 0 97.6 416Z" fill="#9900cc"/>
<path d="M69.3 429.8A371.5 371.5 0 0 1 68.9 416.3L97.6 416A342.8 342.8 0 0 0 98 428.4Z" fill="#ff99ff"/>
<path d="M70.2 443.3A371.5 371.5 0 0 1 69.3 429.8L98 428.4A342.8 342.8 0 0 0 98.8 440.8Z" fill="#ff66cc"/>
<path d="M71.6 456.7A371.5 371.5 0 0 1 70.2 443.3L98.8 440.8A342.8 342.8 0 0 0 100.1 453.2Z" fill="#990099"/>
<path d="M73.5 470A371.5 371.5 0 0 1 71.6 456.7L100.1 453.2A342.8 342.8 0 0 0 101.8 465.5Z" fill="#ff00ff"/>
<path d="M75.8 483.2A371.5 371.5 0 0 1 73.5 470L101.8 465.5A342.8 342.8 0 0 0 104 477.7Z" fill="#cc0099"/>
<path d="M78.7 496.9A371.5 371.5 0 0 1 75.8 483.2L104 477.7A342.8 342.8 0 0 0 106.7 490.4Z" fill="#cc33ff"/>
<path d="M83.6 515.5A371.5 371.5 0 0 1 80 502L107.8 495A342.8 342.8 0 0 0 111.2 507.5Z" fill="#ccffcc"/>
<path d="M87.6 528.3A371.5 371.5 0 0 1 83.6 515.5L111.2 507.5A342.8 342.8 0 0 0 114.8 519.3Z" fill="#ccff66"/>
<path d="M92 541A371.5 371.5 0 0 1 87.6 528.3L114.8 519.3A342.8 342.8 0 0 0 118.9 531Z" fill="#ccff99"/>
<path d="M96.9 553.5A371.5 371.5 0 0 1 92 541L118.9 531A342.8 342.8 0 0 0 123.4 542.5Z" fill="#99ff00"/>
<path d="M102.2 565.7A371.5 371.5 0 0 1 96.9 553.5L123.4 542.5A342.8 342.8 0 0 0 128.3 553.9Z" fill="#99cc00"/>
<path d="M108 577.8A371.5 371.5 0 0 1 102.2 565.7L128.3 553.9A342.8 342.8 0 0 0 133.7 565Z" fill="#669900"/>
<path d="M114.2 589.7A371.5 371.5 0 0 1 108 577.8L133.7 565A342.8 342.8 0 0 0 139.4 576Z" fill="#33ff33"/>
<path d="M120.8 601.4A371.5 371.5 0 0 1 114.2 589.7L139.4 576A342.8 342.8 0 0 0 145.5 586.7Z" fill="#99ff99"/>
<path d="M127.8 612.8A371.5 371.5 0 0 1 120.8 601.4L145.5 586.7A342.8 342.8 0 0 0 152 597.3Z" fill="#ccff00"/>
<path d="M135.3 623.9A371.5 371.5 0 0 1 127.8 612.8L152 597.3A342.8 342.8 0 0 0 158.8 607.5Z" fill="#00ff00"/>
<path d="M143.5 635.3A371.5 371.5 0 0 1 135.3 623.9L158.8 607.5A342.8 342.8 0 0 0 166.4 618Z" fill="#ccff33"/>
<path d="M155.5 650.4A371.5 371.5 0 0 1 146.7 639.4L169.3 621.9A342.8 342.8 0 0 0 177.5 631.9Z" fill="#ccccff"/>
<path d="M164.3 660.5A371.5 371.5 0 0 1 155.5 650.4L177.5 631.9A342.8 342.8 0 0 0 185.6 641.3Z" fill="#99ccff"/>
<path d="M173.4 670.3A371.5 371.5 0 0 1 164.3 660.5L185.6 641.3A342.8 342.8 0 0 0 194.1 650.4Z" fill="#9999ff"/>
<path d="M183 679.8A371.5 371.5 0 0 1 173.4 670.3L194.1 650.4A342.8 342.8 0 0 0 202.9 659.1Z" fill="#6666ff"/>
<path d="M192.8 689A371.5 371.5 0 0 1 183 679.8L202.9 659.1A342.8 342.8 0 0 0 212 667.6Z" fill="#6699ff"/>
<path d="M203 697.8A371.5 371.5 0 0 1 192.8 689L212 667.6A342.8 342.8 0 0 0 221.3 675.7Z" fill="#66ccff"/>
<path d="M213.5 706.2A371.5 371.5 0 0 1 203 697.8L221.3 675.7A342.8 342.8 0 0 0 231 683.4Z" fill="#3333ff"/>
<path d="M224.3 714.2A371.5 371.5 0 0 1 213.5 706.2L231 683.4A342.8 342.8 0 0 0 241 690.8Z" fill="#3366ff"/>
<path d="M235.4 721.8A371.5 371.5 0 0 1 224.3 714.2L241 690.8A342.8 342.8 0 0 0 251.2 697.9Z" fill="#0066ff"/>
<path d="M246.7 729A371.5 371.5 0 0 1 235.4 721.8L251.2 697.9A342.8 342.8 0 0 0 261.7 704.5Z" fill="#3399ff"/>
<path d="M258.3 735.8A371.5 371.5 0 0 1 246.7 729L261.7 704.5A342.8 342.8 0 0 0 272.4 710.8Z" fill="#0099ff"/>
<path d="M270.2 742.2A371.5 371.5 0 0 1 258.3 735.8L272.4 710.8A342.8 342.8 0 0 0 283.3 716.7Z" fill="#00ccf4"/>
<path d="M282.2 748.2A371.5 371.5 0 0 1 270.2 742.2L283.3 716.7A342.8 342.8 0 0 0 294.5 722.2Z" fill="#0033ff"/>
<path d="M294.5 753.7A371.5 371.5 0 0 1 282.2 748.2L294.5 722.2A342.8 342.8 0 0 0 305.8 727.3Z" fill="#0000ff"/>
<path d="M307.5 758.9A371.5 371.5 0 0 1 294.5 753.7L305.8 727.3A342.8 342.8 0 0 0 317.8 732.1Z" fill="#000099"/>
<path d="M325.6 765.3A371.5 371.5 0 0 1 311.9 760.6L321.8 733.6A342.8 342.8 0 0 0 334.5 738Z" fill="#202020"/>
<path d="M339 769.4A371.5 371.5 0 0 1 325.6 765.3L334.5 738A342.8 342.8 0 0 0 346.8 741.8Z" fill="#404040"/>
<path d="M352.5 773A371.5 371.5 0 0 1 339 769.4L346.8 741.8A342.8 342.8 0 0 0 359.3 745.1Z" fill="#606060"/>
<path d="M366.2 776A371.5 371.5 0 0 1 352.5 773L359.3 745.1A342.8 342.8 0 0 0 371.9 747.9Z" fill="#808080"/>
<path d="M379.9 778.5A371.5 371.5 0 0 1 366.2 776L371.9 747.9A342.8 342.8 0 0 0 384.6 750.2Z" fill="#9f9f9f"/>
<path d="M393.8 780.6A371.5 371.5 0 0 1 379.9 778.5L384.6 750.2A342.8 342.8 0 0 0 397.4 752.1Z" fill="#bfbfbf"/>
<path d="M407.7 782.1A371.5 371.5 0 0 1 393.8 780.6L397.4 752.1A342.8 342.8 0 0 0 410.2 753.5Z" fill="#dfdfdf"/>
<path d="M426.8 783.3A371.5 371.5 0 0 1 410.3 782.3L412.6 753.7A342.8 342.8 0 0 0 427.8 754.6Z" fill="#ff4000"/>
<path d="M446.5 783.4A371.5 371.5 0 0 1 430.1 783.4L430.9 754.7A342.8 342.8 0 0 0 446.1 754.8Z" fill="#cfff30"/>
</g>
<path d="M452.4 40.7L452.5 37.1M465.9 41.4L466.1 37.8M479.3 42.5L479.7 39M492.7 44.2L493.2 40.6M506 46.3L506.6 42.8M519.2 49L520 45.4M532.3 52L533.2 48.6M545.3 55.6L546.3 52.2M558.1 59.7L559.3 56.2M570.8 64.1L572.1 60.8M583.3 69.1L584.7 65.8M595.7 74.5L597.2 71.2M607.8 80.3L609.4 77.1M619.7 86.6L621.4 83.5M631.3 93.3L633.2 90.2M642.8 100.4L644.7 97.4M653.9 108L656 105M664.8 115.9L666.9 113M675.3 124.2L677.6 121.4M685.6 132.9L688 130.2M695.5 142L698 139.3M709.6 156L712.2 153.5M718.7 165.9L721.4 163.5M727.4 176.1L730.2 173.8M735.7 186.6L738.6 184.5M743.7 197.5L746.6 195.4M751.3 208.6L754.3 206.6M758.4 220L761.5 218.1M765.2 231.6L768.3 229.9M774.3 249.2L777.6 247.6M780 261.4L783.3 260M785.2 273.8L788.6 272.5M790 286.4L793.4 285.2M794.3 299.2L797.8 298.1M798.2 312L801.7 311.1M801.6 325.1L805.1 324.2M804.5 338.2L808 337.5M807.9 357.8L811.5 357.3M809.6 371.2L813.2 370.8M810.9 384.6L814.5 384.3M811.6 398.1L815.2 397.9M811.9 411.5L815.5 411.5M811.7 425L815.3 425.1M811 438.5L814.5 438.7M809.7 451.9L813.3 452.3M808.1 465.3L811.6 465.8M805.9 478.6L809.4 479.3M803.2 491.9L806.7 492.6M798.4 511.2L801.9 512.2M794.6 524.2L798 525.2M790.3 537L793.6 538.2M785.5 549.6L788.8 550.9M780.2 562.1L783.5 563.5M774.6 574.3L777.8 575.9M768.4 586.4L771.6 588.1M761.9 598.2L765 600M754.9 609.8L757.9 611.7M747.5 621.1L750.5 623.1M739.7 632.1L742.6 634.2M727.4 647.9L730.2 650.1M718.6 658.2L721.3 660.5M709.5 668.1L712.1 670.6M700 677.7L702.5 680.3M690.2 687L692.6 689.7M680 695.9L682.3 698.7M669.5 704.5L671.7 707.3M658.7 712.6L660.8 715.5M647.6 720.4L649.6 723.3M636.2 727.7L638.1 730.7M624.6 734.6L626.4 737.7M612.8 741.1L614.4 744.3M600.7 747.1L602.2 750.4M588.4 752.8L589.8 756.1M575.9 757.9L577.2 761.3M557.5 764.6L558.6 768M544.1 768.7L545.1 772.2M530.5 772.4L531.4 775.9M516.9 775.5L517.6 779.1M503.1 778.2L503.7 781.7M489.2 780.3L489.7 783.8M475.3 781.9L475.6 785.4M457.5 783.1L457.6 786.7M430.9 40.6L430.8 37M415.9 41.3L415.6 37.7M402.5 42.4L402.2 38.9M389.2 44L388.7 40.5M376 46.1L375.4 42.6M362.9 48.7L362.1 45.2M349.8 51.7L349 48.2M336.9 55.2L335.9 51.7M324.1 59.2L323 55.7M311.5 63.6L310.2 60.2M299 68.5L297.7 65.1M286.7 73.8L285.3 70.5M274.7 79.5L273.1 76.3M262.8 85.7L261.1 82.5M251.2 92.3L249.3 89.2M239.8 99.3L237.8 96.3M228.6 106.8L226.6 103.8M217.8 114.6L215.6 111.7M207.2 122.8L205 120M196.9 131.4L194.6 128.7M187 140.3L184.5 137.7M172.9 154.2L170.3 151.7M163.7 164.1L161 161.7M154.9 174.3L152.1 172M146.4 184.8L143.6 182.6M138.4 195.6L135.5 193.6M130.8 206.7L127.7 204.8M123.5 218.1L120.4 216.2M116.7 229.7L113.5 228M107.4 247.3L104.2 245.7M101.6 259.5L98.4 258M96.3 271.9L93 270.5M91.5 284.5L88.1 283.2M87.1 297.2L83.7 296.1M83.1 310.1L79.7 309.1M79.7 323.1L76.2 322.3M76.7 336.3L73.2 335.6M73.2 355.9L69.6 355.3M71.4 369.2L67.8 368.8M70.1 382.6L66.5 382.4M69.2 396.1L65.6 396M68.9 409.6L65.3 409.6M69.1 423.1L65.5 423.2M69.7 436.5L66.1 436.8M70.8 450L67.3 450.3M72.5 463.3L68.9 463.8M74.6 476.7L71 477.3M77.1 489.8L73.6 490.6M81.8 509L78.3 510M85.5 521.9L82.1 523M89.7 534.7L86.3 535.8M94.4 547.2L91 548.5M99.5 559.6L96.2 561.1M105 571.8L101.8 573.4M111 583.8L107.8 585.5M117.4 595.6L114.3 597.4M124.3 607.1L121.2 609M131.5 618.4L128.5 620.4M139.2 629.4L136.2 631.5M151.2 645.2L148.4 647.4M159.8 655.5L157.1 657.8M168.8 665.5L166.2 667.9M178.2 675.1L175.6 677.7M187.9 684.5L185.4 687.1M197.9 693.4L195.5 696.1M208.2 702L206 704.8M218.9 710.2L216.7 713.1M229.8 718L227.8 721M241 725.5L239.1 728.5M252.5 732.5L250.7 735.6M264.2 739.1L262.5 742.2M276.2 745.2L274.6 748.5M288.4 751L286.9 754.2M300.7 756.2L299.4 759.6M319 763.1L317.8 766.5M332.3 767.4L331.3 770.9M345.8 771.2L344.8 774.7M359.3 774.5L358.6 778.1M373.1 777.3L372.4 780.9M386.9 779.6L386.3 783.2M400.7 781.4L400.4 785M418.5 782.9L418.3 786.4M438.3 783.5L438.3 787.1" stroke="#222" stroke-width="0.7" fill="none"/>
<g font-size="8.7" fill="#141414" stroke="#141414" stroke-width="0.15">
<text transform="translate(452.6 36.5) rotate(-88.1) scale(0.910 1)" y="4">TrFPoG/S</text>
<text transform="translate(466.2 37.2) rotate(-86.1) scale(0.911 1)" y="4">FMarG/S</text>
<text transform="translate(479.8 38.4) rotate(-84) scale(0.912 1)" y="4">MFS</text>
<text transform="translate(493.3 40) rotate(-81.9) scale(0.914 1)" y="4">LOrS</text>
<text transform="translate(506.7 42.2) rotate(-79.8) scale(0.916 1)" y="4">SbOrS</text>
<text transform="translate(520.1 44.8) rotate(-77.8) scale(0.919 1)" y="4">OrS</text>
<text transform="translate(533.4 48) rotate(-75.7) scale(0.922 1)" y="4">RG</text>
<text transform="translate(546.5 51.6) rotate(-73.6) scale(0.926 1)" y="4">InfFGOrp</text>
<text transform="translate(559.5 55.7) rotate(-71.5) scale(0.930 1)" y="3.9">MFG</text>
<text transform="translate(572.3 60.2) rotate(-69.4) scale(0.934 1)" y="3.9">OrG</text>
<text transform="translate(585 65.2) rotate(-67.4) scale(0.938 1)" y="3.9">InfFGTrip</text>
<text transform="translate(597.4 70.7) rotate(-65.3) scale(0.943 1)" y="3.9">InfFS</text>
<text transform="translate(609.7 76.6) rotate(-63.2) scale(0.947 1)" y="3.9">MedOrS</text>
<text transform="translate(621.7 82.9) rotate(-61.1) scale(0.952 1)" y="3.9">SupFG</text>
<text transform="translate(633.5 89.7) rotate(-59.1) scale(0.956 1)" y="3.8">SupFS</text>
<text transform="translate(645 96.9) rotate(-57) scale(0.961 1)" y="3.8">InfFGOpp</text>
<text transform="translate(656.3 104.5) rotate(-54.9) scale(0.965 1)" y="3.8">InfPrCS</text>
<text transform="translate(667.3 112.6) rotate(-52.8) scale(0.969 1)" y="3.8">SupPrCS</text>
<text transform="translate(678 121) rotate(-50.8) scale(0.972 1)" y="3.8">PrCG</text>
<text transform="translate(688.4 129.8) rotate(-48.7) scale(0.975 1)" y="3.7">SbCG/S</text>
<text transform="translate(698.4 138.9) rotate(-46.6) scale(0.978 1)" y="3.7">CS</text>
<text transform="translate(712.6 153.1) rotate(-43.6) scale(0.981 1)" y="3.7">ALSHorp</text>
<text transform="translate(721.8 163.1) rotate(-41.5) scale(0.983 1)" y="3.7">ACirInS</text>
<text transform="translate(730.6 173.4) rotate(-39.4) scale(0.984 1)" y="3.6">ALSVerp</text>
<text transform="translate(739.1 184.1) rotate(-37.3) scale(0.985 1)" y="3.6">ShoInG</text>
<text transform="translate(747.1 195.1) rotate(-35.3) scale(0.986 1)" y="3.6">SupCirInS</text>
<text transform="translate(754.8 206.3) rotate(-33.2) scale(0.986 1)" y="3.6">LoInG/CInS</text>
<text transform="translate(762 217.8) rotate(-31.1) scale(0.985 1)" y="3.6">InfCirInS</text>
<text transform="translate(768.8 229.6) rotate(-29) scale(0.985 1)" y="3.5">PosLS</text>
<text transform="translate(778.1 247.4) rotate(-26) scale(0.983 1)" y="3.5">ACgG/S</text>
<text transform="translate(783.9 259.7) rotate(-23.9) scale(0.982 1)" y="3.5">MACgG/S</text>
<text transform="translate(789.1 272.3) rotate(-21.8) scale(0.981 1)" y="3.5">SbCaG</text>
<text transform="translate(794 285) rotate(-19.8) scale(0.979 1)" y="3.5">PerCaS</text>
<text transform="translate(798.3 297.9) rotate(-17.7) scale(0.978 1)" y="3.5">MPosCgG/S</text>
<text transform="translate(802.2 310.9) rotate(-15.6) scale(0.977 1)" y="3.4">CgSMarp</text>
<text transform="translate(805.7 324.1) rotate(-13.5) scale(0.975 1)" y="3.4">PosDCgG</text>
<text transform="translate(808.6 337.4) rotate(-11.5) scale(0.974 1)" y="3.4">PosVCgG</text>
<text transform="translate(812.1 357.2) rotate(-8.4) scale(0.972 1)" y="3.4">TPo</text>
<text transform="translate(813.8 370.7) rotate(-6.3) scale(0.971 1)" y="3.4">PoPl</text>
<text transform="translate(815.1 384.3) rotate(-4.2) scale(0.971 1)" y="3.4">SupTGLp</text>
<text transform="translate(815.8 397.9) rotate(-2.2) scale(0.970 1)" y="3.4">HG</text>
<text transform="translate(816.1 411.5) rotate(-0.1) scale(0.970 1)" y="3.4">ATrCoS</text>
<text transform="translate(815.9 425.2) rotate(2) scale(0.970 1)" y="3.4">TrTS</text>
<text transform="translate(815.1 438.8) rotate(4.1) scale(0.970 1)" y="3.4">MTG</text>
<text transform="translate(813.9 452.4) rotate(6.2) scale(0.971 1)" y="3.4">TPl</text>
<text transform="translate(812.2 465.9) rotate(8.3) scale(0.972 1)" y="3.4">InfTG</text>
<text transform="translate(810 479.4) rotate(10.3) scale(0.973 1)" y="3.4">InfTS</text>
<text transform="translate(807.3 492.8) rotate(12.4) scale(0.974 1)" y="3.5">SupTS</text>
<text transform="translate(802.5 512.3) rotate(15.5) scale(0.976 1)" y="3.5">PosCG</text>
<text transform="translate(798.6 525.4) rotate(17.6) scale(0.978 1)" y="3.5">SuMarG</text>
<text transform="translate(794.2 538.4) rotate(19.7) scale(0.979 1)" y="3.5">PaCL/S</text>
<text transform="translate(789.4 551.2) rotate(21.7) scale(0.981 1)" y="3.6">PosCS</text>
<text transform="translate(784.1 563.8) rotate(23.8) scale(0.982 1)" y="3.6">JS</text>
<text transform="translate(778.3 576.2) rotate(25.9) scale(0.983 1)" y="3.6">SbPS</text>
<text transform="translate(772.1 588.3) rotate(28) scale(0.984 1)" y="3.7">IntPS/TrPS</text>
<text transform="translate(765.5 600.3) rotate(30.1) scale(0.985 1)" y="3.7">SupPL</text>
<text transform="translate(758.4 612) rotate(32.2) scale(0.985 1)" y="3.7">PrCun</text>
<text transform="translate(751 623.4) rotate(34.2) scale(0.986 1)" y="3.8">AngG</text>
<text transform="translate(743.1 634.6) rotate(36.3) scale(0.985 1)" y="3.8">POcS</text>
<text transform="translate(730.7 650.5) rotate(39.4) scale(0.984 1)" y="3.9">PaHipG</text>
<text transform="translate(721.8 660.9) rotate(41.5) scale(0.983 1)" y="3.9">CoS/LinS</text>
<text transform="translate(712.5 671) rotate(43.6) scale(0.982 1)" y="4">LOcTS</text>
<text transform="translate(702.9 680.7) rotate(45.7) scale(0.980 1)" y="4">FuG</text>
<text transform="translate(693 690.1) rotate(47.8) scale(0.977 1)" y="4.1">CcS</text>
<text transform="translate(682.7 699.1) rotate(49.8) scale(0.974 1)" y="4.1">LinG</text>
<text transform="translate(672.1 707.8) rotate(51.9) scale(0.971 1)" y="4.1">AOcS</text>
<text transform="translate(661.2 716) rotate(54) scale(0.967 1)" y="4.2">InfOcG/S</text>
<text transform="translate(649.9 723.8) rotate(56.1) scale(0.963 1)" y="4.2">SupOcS/TrOcS</text>
<text transform="translate(638.5 731.3) rotate(58.2) scale(0.959 1)" y="4.3">PosTrCoS</text>
<text transform="translate(626.7 738.3) rotate(60.3) scale(0.955 1)" y="4.3">Cun</text>
<text transform="translate(614.7 744.8) rotate(62.4) scale(0.951 1)" y="4.3">MOcG</text>
<text transform="translate(602.5 750.9) rotate(64.4) scale(0.946 1)" y="4.4">MOcS/LuS</text>
<text transform="translate(590.1 756.6) rotate(66.5) scale(0.942 1)" y="4.4">SupOcG</text>
<text transform="translate(577.4 761.8) rotate(68.6) scale(0.937 1)" y="4.4">OcPo</text>
<text transform="translate(558.8 768.6) rotate(71.6) scale(0.931 1)" y="4.5">Pu</text>
<text transform="translate(545.2 772.8) rotate(73.8) scale(0.927 1)" y="4.5">Pal</text>
<text transform="translate(531.5 776.5) rotate(76) scale(0.923 1)" y="4.5">CaN</text>
<text transform="translate(517.7 779.7) rotate(78.1) scale(0.919 1)" y="4.5">NAcc</text>
<text transform="translate(503.8 782.3) rotate(80.3) scale(0.917 1)" y="4.6">Amg</text>
<text transform="translate(489.8 784.4) rotate(82.4) scale(0.914 1)" y="4.6">Tha</text>
<text transform="translate(475.7 786) rotate(84.6) scale(0.912 1)" y="4.6">Hip</text>
<text transform="translate(457.7 787.3) rotate(87.4) scale(0.911 1)" y="4.6">CeB</text>
<text transform="translate(430.8 36.4) rotate(88.5) scale(0.910 1)" y="5.1" text-anchor="end">TrFPoG/S</text>
<text transform="translate(415.6 37.1) rotate(86.2) scale(0.911 1)" y="5.1" text-anchor="end">FMarG/S</text>
<text transform="translate(402.1 38.3) rotate(84.1) scale(0.913 1)" y="5.1" text-anchor="end">MFS</text>
<text transform="translate(388.7 39.9) rotate(82.1) scale(0.914 1)" y="5.1" text-anchor="end">LOrS</text>
<text transform="translate(375.3 42) rotate(80) scale(0.917 1)" y="5" text-anchor="end">SbOrS</text>
<text transform="translate(362 44.6) rotate(78) scale(0.920 1)" y="5" text-anchor="end">OrS</text>
<text transform="translate(348.8 47.6) rotate(75.9) scale(0.923 1)" y="5" text-anchor="end">RG</text>
<text transform="translate(335.7 51.2) rotate(73.8) scale(0.927 1)" y="5" text-anchor="end">InfFGOrp</text>
<text transform="translate(322.8 55.2) rotate(71.8) scale(0.931 1)" y="4.9" text-anchor="end">MFG</text>
<text transform="translate(310 59.6) rotate(69.7) scale(0.935 1)" y="4.9" text-anchor="end">OrG</text>
<text transform="translate(297.4 64.6) rotate(67.6) scale(0.939 1)" y="4.9" text-anchor="end">InfFGTrip</text>
<text transform="translate(285 69.9) rotate(65.6) scale(0.944 1)" y="4.8" text-anchor="end">InfFS</text>
<text transform="translate(272.8 75.8) rotate(63.5) scale(0.948 1)" y="4.8" text-anchor="end">MedOrS</text>
<text transform="translate(260.8 82) rotate(61.4) scale(0.953 1)" y="4.7" text-anchor="end">SupFG</text>
<text transform="translate(249 88.7) rotate(59.4) scale(0.957 1)" y="4.7" text-anchor="end">SupFS</text>
<text transform="translate(237.5 95.8) rotate(57.3) scale(0.961 1)" y="4.6" text-anchor="end">InfFGOpp</text>
<text transform="translate(226.2 103.3) rotate(55.2) scale(0.965 1)" y="4.5" text-anchor="end">InfPrCS</text>
<text transform="translate(215.3 111.2) rotate(53.2) scale(0.969 1)" y="4.5" text-anchor="end">SupPrCS</text>
<text transform="translate(204.6 119.5) rotate(51.1) scale(0.972 1)" y="4.4" text-anchor="end">PrCG</text>
<text transform="translate(194.2 128.2) rotate(49.1) scale(0.975 1)" y="4.4" text-anchor="end">SbCG/S</text>
<text transform="translate(184.1 137.3) rotate(47) scale(0.978 1)" y="4.3" text-anchor="end">CS</text>
<text transform="translate(169.8 151.3) rotate(43.9) scale(0.981 1)" y="4.2" text-anchor="end">ALSHorp</text>
<text transform="translate(160.6 161.3) rotate(41.9) scale(0.983 1)" y="4.2" text-anchor="end">ACirInS</text>
<text transform="translate(151.7 171.6) rotate(39.8) scale(0.984 1)" y="4.1" text-anchor="end">ALSVerp</text>
<text transform="translate(143.1 182.3) rotate(37.7) scale(0.985 1)" y="4" text-anchor="end">ShoInG</text>
<text transform="translate(135 193.2) rotate(35.6) scale(0.986 1)" y="4" text-anchor="end">SupCirInS</text>
<text transform="translate(127.2 204.4) rotate(33.5) scale(0.986 1)" y="3.9" text-anchor="end">LoInG/CInS</text>
<text transform="translate(119.9 215.9) rotate(31.5) scale(0.985 1)" y="3.9" text-anchor="end">InfCirInS</text>
<text transform="translate(113 227.7) rotate(29.4) scale(0.985 1)" y="3.8" text-anchor="end">PosLS</text>
<text transform="translate(103.6 245.5) rotate(26.3) scale(0.983 1)" y="3.7" text-anchor="end">ACgG/S</text>
<text transform="translate(97.8 257.8) rotate(24.2) scale(0.982 1)" y="3.7" text-anchor="end">MACgG/S</text>
<text transform="translate(92.4 270.3) rotate(22.2) scale(0.981 1)" y="3.6" text-anchor="end">SbCaG</text>
<text transform="translate(87.5 283) rotate(20.1) scale(0.979 1)" y="3.6" text-anchor="end">PerCaS</text>
<text transform="translate(83.1 295.9) rotate(18) scale(0.978 1)" y="3.6" text-anchor="end">MPosCgG/S</text>
<text transform="translate(79.1 309) rotate(15.9) scale(0.977 1)" y="3.5" text-anchor="end">CgSMarp</text>
<text transform="translate(75.6 322.1) rotate(13.8) scale(0.975 1)" y="3.5" text-anchor="end">PosDCgG</text>
<text transform="translate(72.6 335.4) rotate(11.8) scale(0.974 1)" y="3.5" text-anchor="end">PosVCgG</text>
<text transform="translate(69 355.2) rotate(8.7) scale(0.972 1)" y="3.4" text-anchor="end">TPo</text>
<text transform="translate(67.2 368.7) rotate(6.6) scale(0.971 1)" y="3.4" text-anchor="end">PoPl</text>
<text transform="translate(65.9 382.3) rotate(4.5) scale(0.971 1)" y="3.4" text-anchor="end">SupTGLp</text>
<text transform="translate(65 395.9) rotate(2.5) scale(0.970 1)" y="3.4" text-anchor="end">HG</text>
<text transform="translate(64.7 409.6) rotate(0.4) scale(0.970 1)" y="3.4" text-anchor="end">ATrCoS</text>
<text transform="translate(64.9 423.2) rotate(-1.7) scale(0.970 1)" y="3.4" text-anchor="end">TrTS</text>
<text transform="translate(65.5 436.8) rotate(-3.8) scale(0.970 1)" y="3.4" text-anchor="end">MTG</text>
<text transform="translate(66.7 450.4) rotate(-5.9) scale(0.971 1)" y="3.4" text-anchor="end">TPl</text>
<text transform="translate(68.3 463.9) rotate(-7.9) scale(0.972 1)" y="3.4" text-anchor="end">InfTG</text>
<text transform="translate(70.4 477.4) rotate(-10) scale(0.973 1)" y="3.5" text-anchor="end">InfTS</text>
<text transform="translate(73 490.7) rotate(-12.1) scale(0.974 1)" y="3.5" text-anchor="end">SupTS</text>
<text transform="translate(77.7 510.1) rotate(-15.1) scale(0.976 1)" y="3.5" text-anchor="end">PosCG</text>
<text transform="translate(81.5 523.2) rotate(-17.2) scale(0.978 1)" y="3.6" text-anchor="end">SuMarG</text>
<text transform="translate(85.8 536) rotate(-19.3) scale(0.979 1)" y="3.6" text-anchor="end">PaCL/S</text>
<text transform="translate(90.5 548.8) rotate(-21.3) scale(0.981 1)" y="3.6" text-anchor="end">PosCS</text>
<text transform="translate(95.6 561.3) rotate(-23.4) scale(0.982 1)" y="3.7" text-anchor="end">JS</text>
<text transform="translate(101.2 573.6) rotate(-25.5) scale(0.983 1)" y="3.7" text-anchor="end">SbPS</text>
<text transform="translate(107.3 585.8) rotate(-27.5) scale(0.984 1)" y="3.8" text-anchor="end">IntPS/TrPS</text>
<text transform="translate(113.8 597.7) rotate(-29.6) scale(0.985 1)" y="3.8" text-anchor="end">SupPL</text>
<text transform="translate(120.7 609.3) rotate(-31.7) scale(0.985 1)" y="3.9" text-anchor="end">PrCun</text>
<text transform="translate(128 620.7) rotate(-33.7) scale(0.986 1)" y="3.9" text-anchor="end">AngG</text>
<text transform="translate(135.7 631.9) rotate(-35.8) scale(0.985 1)" y="4" text-anchor="end">POcS</text>
<text transform="translate(147.9 647.8) rotate(-38.9) scale(0.984 1)" y="4.1" text-anchor="end">PaHipG</text>
<text transform="translate(156.6 658.2) rotate(-41) scale(0.983 1)" y="4.1" text-anchor="end">CoS/LinS</text>
<text transform="translate(165.7 668.3) rotate(-43) scale(0.982 1)" y="4.2" text-anchor="end">LOcTS</text>
<text transform="translate(175.2 678.1) rotate(-45.1) scale(0.980 1)" y="4.3" text-anchor="end">FuG</text>
<text transform="translate(185 687.5) rotate(-47.2) scale(0.977 1)" y="4.3" text-anchor="end">CcS</text>
<text transform="translate(195.1 696.6) rotate(-49.2) scale(0.974 1)" y="4.4" text-anchor="end">LinG</text>
<text transform="translate(205.6 705.3) rotate(-51.3) scale(0.971 1)" y="4.4" text-anchor="end">AOcS</text>
<text transform="translate(216.4 713.6) rotate(-53.4) scale(0.967 1)" y="4.5" text-anchor="end">InfOcG/S</text>
<text transform="translate(227.4 721.5) rotate(-55.5) scale(0.963 1)" y="4.6" text-anchor="end">SupOcS/TrOcS</text>
<text transform="translate(238.8 729) rotate(-57.5) scale(0.959 1)" y="4.6" text-anchor="end">PosTrCoS</text>
<text transform="translate(250.4 736.1) rotate(-59.6) scale(0.955 1)" y="4.7" text-anchor="end">Cun</text>
<text transform="translate(262.2 742.8) rotate(-61.7) scale(0.951 1)" y="4.7" text-anchor="end">MOcG</text>
<text transform="translate(274.3 749) rotate(-63.8) scale(0.946 1)" y="4.8" text-anchor="end">MOcS/LuS</text>
<text transform="translate(286.6 754.8) rotate(-65.8) scale(0.942 1)" y="4.8" text-anchor="end">SupOcG</text>
<text transform="translate(299.2 760.1) rotate(-67.9) scale(0.937 1)" y="4.9" text-anchor="end">OcPo</text>
<text transform="translate(317.6 767.1) rotate(-70.9) scale(0.931 1)" y="4.9" text-anchor="end">Pu</text>
<text transform="translate(331.1 771.4) rotate(-73.1) scale(0.927 1)" y="5" text-anchor="end">Pal</text>
<text transform="translate(344.7 775.3) rotate(-75.2) scale(0.923 1)" y="5" text-anchor="end">CaN</text>
<text transform="translate(358.4 778.6) rotate(-77.4) scale(0.919 1)" y="5" text-anchor="end">NAcc</text>
<text transform="translate(372.3 781.5) rotate(-79.6) scale(0.917 1)" y="5" text-anchor="end">Amg</text>
<text transform="translate(386.3 783.8) rotate(-81.7) scale(0.914 1)" y="5.1" text-anchor="end">Tha</text>
<text transform="translate(400.3 785.6) rotate(-83.9) scale(0.912 1)" y="5.1" text-anchor="end">Hip</text>
<text transform="translate(418.3 787) rotate(-86.6) scale(0.911 1)" y="5.1" text-anchor="end">CeB</text>
<text transform="translate(438.3 787.7) rotate(90.3) scale(0.91 1)" y="3.4">BStem</text>
</g>
<g font-size="10.2" font-weight="bold" fill="#000" stroke="#000" stroke-width="0.25">
<text transform="translate(605.1 17) rotate(22.6) scale(0.83 1)" y="3.6">Fr</text>
<text transform="translate(785.3 158.6) rotate(53.7) scale(0.83 1)" y="3.6">Ins</text>
<text transform="translate(845.8 274.6) rotate(71.3) scale(0.83 1)" y="3.6">Lim</text>
<text transform="translate(868.1 427) rotate(272) scale(0.83 1)" y="3.6">Tem</text>
<text transform="translate(825.4 599) rotate(295.9) scale(0.83 1)" y="3.6">Par</text>
<text transform="translate(691.9 758.3) rotate(324) scale(0.83 1)" y="3.6">Occ</text>
<text transform="translate(528.5 830.8) rotate(348.1) scale(0.83 1)" y="3.6">SbC</text>
<text transform="translate(279.8 15.3) rotate(-22) scale(0.83 1)" y="3.6">Fr</text>
<text transform="translate(97.4 156) rotate(-53.3) scale(0.83 1)" y="3.6">Ins</text>
<text transform="translate(35.9 272.2) rotate(-70.9) scale(0.83 1)" y="3.6">Lim</text>
<text transform="translate(12.6 424.8) rotate(88.3) scale(0.83 1)" y="3.6">Tem</text>
<text transform="translate(54 596.1) rotate(64.5) scale(0.83 1)" y="3.6">Par</text>
<text transform="translate(185.2 755.6) rotate(36.6) scale(0.83 1)" y="3.6">Occ</text>
<text transform="translate(347 829.7) rotate(12.6) scale(0.83 1)" y="3.6">SbC</text>
</g>
<g font-size="10.2" font-weight="bold" fill="#000" stroke="#000" stroke-width="0.25">
<text transform="translate(415.4 843.6) rotate(3) scale(0.83 1)">CeB</text>
<text transform="translate(438.4 843.6) rotate(0) scale(0.83 1)">BStem</text>
<text transform="translate(462.5 843.4) rotate(-3) scale(0.83 1)">CeB</text>
</g>
<g stroke-width="0.4">
<path d="M75.2 934.3L75.2 878A56.3 56.3 0 0 1 79.2 878.1Z" fill="#fbfbff" stroke="#fbfbff"/>
<path d="M75.2 934.3L78.9 878.1A56.3 56.3 0 0 1 82.8 878.5Z" fill="#f2f2ff" stroke="#f2f2ff"/>
<path d="M75.2 934.3L82.5 878.5A56.3 56.3 0 0 1 86.5 879.1Z" fill="#e9e9ff" stroke="#e9e9ff"/>
<path d="M75.2 934.3L86.2 879.1A56.3 56.3 0 0 1 90.1 880Z" fill="#e1e1ff" stroke="#e1e1ff"/>
<path d="M75.2 934.3L89.8 879.9A56.3 56.3 0 0 1 93.6 881.1Z" fill="#d8d8ff" stroke="#d8d8ff"/>
<path d="M75.2 934.3L93.3 881A56.3 56.3 0 0 1 97 882.4Z" fill="#d0d0ff" stroke="#d0d0ff"/>
<path d="M75.2 934.3L96.7 882.3A56.3 56.3 0 0 1 100.4 883.9Z" fill="#c7c7ff" stroke="#c7c7ff"/>
<path d="M75.2 934.3L100.1 883.8A56.3 56.3 0 0 1 103.6 885.7Z" fill="#bebeff" stroke="#bebeff"/>
<path d="M75.2 934.3L103.3 885.5A56.3 56.3 0 0 1 106.7 887.7Z" fill="#b6b6ff" stroke="#b6b6ff"/>
<path d="M75.2 934.3L106.5 887.5A56.3 56.3 0 0 1 109.7 889.8Z" fill="#adadff" stroke="#adadff"/>
<path d="M75.2 934.3L109.5 889.6A56.3 56.3 0 0 1 112.5 892.2Z" fill="#a5a5ff" stroke="#a5a5ff"/>
<path d="M75.2 934.3L112.3 892A56.3 56.3 0 0 1 115.2 894.7Z" fill="#9c9cff" stroke="#9c9cff"/>
<path d="M75.2 934.3L115 894.5A56.3 56.3 0 0 1 117.7 897.4Z" fill="#9393ff" stroke="#9393ff"/>
<path d="M75.2 934.3L117.5 897.2A56.3 56.3 0 0 1 120 900.3Z" fill="#8b8bff" stroke="#8b8bff"/>
<path d="M75.2 934.3L119.9 900A56.3 56.3 0 0 1 122.2 903.3Z" fill="#8282ff" stroke="#8282ff"/>
<path d="M75.2 934.3L122 903A56.3 56.3 0 0 1 124.1 906.4Z" fill="#7a7aff" stroke="#7a7aff"/>
<path d="M75.2 934.3L124 906.1A56.3 56.3 0 0 1 125.8 909.7Z" fill="#7171ff" stroke="#7171ff"/>
<path d="M75.2 934.3L125.7 909.4A56.3 56.3 0 0 1 127.3 913Z" fill="#6868ff" stroke="#6868ff"/>
<path d="M75.2 934.3L127.2 912.8A56.3 56.3 0 0 1 128.6 916.5Z" fill="#6060ff" stroke="#6060ff"/>
<path d="M75.2 934.3L128.5 916.2A56.3 56.3 0 0 1 129.7 920Z" fill="#5757ff" stroke="#5757ff"/>
<path d="M75.2 934.3L129.6 919.7A56.3 56.3 0 0 1 130.5 923.6Z" fill="#4f4fff" stroke="#4f4fff"/>
<path d="M75.2 934.3L130.4 923.3A56.3 56.3 0 0 1 131.1 927.2Z" fill="#4646ff" stroke="#4646ff"/>
<path d="M75.2 934.3L131 927A56.3 56.3 0 0 1 131.4 930.9Z" fill="#3d3dff" stroke="#3d3dff"/>
<path d="M75.2 934.3L131.4 930.6A56.3 56.3 0 0 1 131.5 934.6Z" fill="#3535ff" stroke="#3535ff"/>
<path d="M75.2 934.3L131.5 934.3A56.3 56.3 0 0 1 131.4 938.3Z" fill="#2c2cff" stroke="#2c2cff"/>
<path d="M75.2 934.3L131.4 938A56.3 56.3 0 0 1 131 941.9Z" fill="#2424ff" stroke="#2424ff"/>
<path d="M75.2 934.3L131 941.6A56.3 56.3 0 0 1 130.4 945.6Z" fill="#1b1bff" stroke="#1b1bff"/>
<path d="M75.2 934.3L130.4 945.3A56.3 56.3 0 0 1 129.5 949.2Z" fill="#1212ff" stroke="#1212ff"/>
<path d="M75.2 934.3L129.6 948.9A56.3 56.3 0 0 1 128.4 952.7Z" fill="#0a0aff" stroke="#0a0aff"/>
<path d="M75.2 934.3L128.5 952.4A56.3 56.3 0 0 1 127.1 956.1Z" fill="#0101ff" stroke="#0101ff"/>
<path d="M75.2 934.3L127.2 955.8A56.3 56.3 0 0 1 125.6 959.5Z" fill="#0000ff" stroke="#0000ff"/>
<path d="M75.2 934.3L125.7 959.2A56.3 56.3 0 0 1 123.8 962.7Z" fill="#0000ff" stroke="#0000ff"/>
<path d="M75.2 934.3L124 962.4A56.3 56.3 0 0 1 121.8 965.8Z" fill="#fbfffb" stroke="#fbfffb"/>
<path d="M75.2 934.3L122 965.6A56.3 56.3 0 0 1 119.7 968.8Z" fill="#f2fff2" stroke="#f2fff2"/>
<path d="M75.2 934.3L119.9 968.6A56.3 56.3 0 0 1 117.3 971.6Z" fill="#e9ffe9" stroke="#e9ffe9"/>
<path d="M75.2 934.3L117.5 971.4A56.3 56.3 0 0 1 114.8 974.3Z" fill="#e1ffe1" stroke="#e1ffe1"/>
<path d="M75.2 934.3L115 974.1A56.3 56.3 0 0 1 112.1 976.8Z" fill="#d8ffd8" stroke="#d8ffd8"/>
<path d="M75.2 934.3L112.3 976.6A56.3 56.3 0 0 1 109.2 979.1Z" fill="#d0ffd0" stroke="#d0ffd0"/>
<path d="M75.2 934.3L109.5 979A56.3 56.3 0 0 1 106.2 981.3Z" fill="#c7ffc7" stroke="#c7ffc7"/>
<path d="M75.2 934.3L106.5 981.1A56.3 56.3 0 0 1 103.1 983.2Z" fill="#beffbe" stroke="#beffbe"/>
<path d="M75.2 934.3L103.3 983.1A56.3 56.3 0 0 1 99.8 984.9Z" fill="#b6ffb6" stroke="#b6ffb6"/>
<path d="M75.2 934.3L100.1 984.8A56.3 56.3 0 0 1 96.5 986.4Z" fill="#adffad" stroke="#adffad"/>
<path d="M75.2 934.3L96.7 986.3A56.3 56.3 0 0 1 93 987.7Z" fill="#a5ffa5" stroke="#a5ffa5"/>
<path d="M75.2 934.3L93.3 987.6A56.3 56.3 0 0 1 89.5 988.8Z" fill="#9cff9c" stroke="#9cff9c"/>
<path d="M75.2 934.3L89.8 988.7A56.3 56.3 0 0 1 85.9 989.6Z" fill="#93ff93" stroke="#93ff93"/>
<path d="M75.2 934.3L86.2 989.5A56.3 56.3 0 0 1 82.3 990.2Z" fill="#8bff8b" stroke="#8bff8b"/>
<path d="M75.2 934.3L82.5 990.1A56.3 56.3 0 0 1 78.6 990.5Z" fill="#82ff82" stroke="#82ff82"/>
<path d="M75.2 934.3L78.9 990.5A56.3 56.3 0 0 1 74.9 990.6Z" fill="#7aff7a" stroke="#7aff7a"/>
<path d="M75.2 934.3L75.2 990.6A56.3 56.3 0 0 1 71.2 990.5Z" fill="#71ff71" stroke="#71ff71"/>
<path d="M75.2 934.3L71.5 990.5A56.3 56.3 0 0 1 67.6 990.1Z" fill="#68ff68" stroke="#68ff68"/>
<path d="M75.2 934.3L67.9 990.1A56.3 56.3 0 0 1 63.9 989.5Z" fill="#60ff60" stroke="#60ff60"/>
<path d="M75.2 934.3L64.2 989.5A56.3 56.3 0 0 1 60.3 988.6Z" fill="#57ff57" stroke="#57ff57"/>
<path d="M75.2 934.3L60.6 988.7A56.3 56.3 0 0 1 56.8 987.5Z" fill="#4fff4f" stroke="#4fff4f"/>
<path d="M75.2 934.3L57.1 987.6A56.3 56.3 0 0 1 53.4 986.2Z" fill="#46ff46" stroke="#46ff46"/>
<path d="M75.2 934.3L53.7 986.3A56.3 56.3 0 0 1 50 984.7Z" fill="#3dff3d" stroke="#3dff3d"/>
<path d="M75.2 934.3L50.3 984.8A56.3 56.3 0 0 1 46.8 982.9Z" fill="#35ff35" stroke="#35ff35"/>
<path d="M75.2 934.3L47 983.1A56.3 56.3 0 0 1 43.7 980.9Z" fill="#2cff2c" stroke="#2cff2c"/>
<path d="M75.2 934.3L43.9 981.1A56.3 56.3 0 0 1 40.7 978.8Z" fill="#24ff24" stroke="#24ff24"/>
<path d="M75.2 934.3L40.9 979A56.3 56.3 0 0 1 37.9 976.4Z" fill="#1bff1b" stroke="#1bff1b"/>
<path d="M75.2 934.3L38.1 976.6A56.3 56.3 0 0 1 35.2 973.9Z" fill="#12ff12" stroke="#12ff12"/>
<path d="M75.2 934.3L35.4 974.1A56.3 56.3 0 0 1 32.7 971.2Z" fill="#0aff0a" stroke="#0aff0a"/>
<path d="M75.2 934.3L32.9 971.4A56.3 56.3 0 0 1 30.4 968.3Z" fill="#01ff01" stroke="#01ff01"/>
<path d="M75.2 934.3L30.5 968.6A56.3 56.3 0 0 1 28.2 965.3Z" fill="#00ff00" stroke="#00ff00"/>
<path d="M75.2 934.3L28.4 965.6A56.3 56.3 0 0 1 26.3 962.2Z" fill="#00ff00" stroke="#00ff00"/>
<path d="M75.2 934.3L26.4 962.4A56.3 56.3 0 0 1 24.6 958.9Z" fill="#fffbfb" stroke="#fffbfb"/>
<path d="M75.2 934.3L24.7 959.2A56.3 56.3 0 0 1 23.1 955.6Z" fill="#fff2f2" stroke="#fff2f2"/>
<path d="M75.2 934.3L23.2 955.8A56.3 56.3 0 0 1 21.8 952.1Z" fill="#ffe9e9" stroke="#ffe9e9"/>
<path d="M75.2 934.3L21.9 952.4A56.3 56.3 0 0 1 20.7 948.6Z" fill="#ffe1e1" stroke="#ffe1e1"/>
<path d="M75.2 934.3L20.8 948.9A56.3 56.3 0 0 1 19.9 945Z" fill="#ffd8d8" stroke="#ffd8d8"/>
<path d="M75.2 934.3L20 945.3A56.3 56.3 0 0 1 19.3 941.4Z" fill="#ffd0d0" stroke="#ffd0d0"/>
<path d="M75.2 934.3L19.4 941.6A56.3 56.3 0 0 1 19 937.7Z" fill="#ffc7c7" stroke="#ffc7c7"/>
<path d="M75.2 934.3L19 938A56.3 56.3 0 0 1 18.9 934Z" fill="#ffbebe" stroke="#ffbebe"/>
<path d="M75.2 934.3L18.9 934.3A56.3 56.3 0 0 1 19 930.3Z" fill="#ffb6b6" stroke="#ffb6b6"/>
<path d="M75.2 934.3L19 930.6A56.3 56.3 0 0 1 19.4 926.7Z" fill="#ffadad" stroke="#ffadad"/>
<path d="M75.2 934.3L19.4 927A56.3 56.3 0 0 1 20 923Z" fill="#ffa5a5" stroke="#ffa5a5"/>
<path d="M75.2 934.3L20 923.3A56.3 56.3 0 0 1 20.9 919.4Z" fill="#ff9c9c" stroke="#ff9c9c"/>
<path d="M75.2 934.3L20.8 919.7A56.3 56.3 0 0 1 22 915.9Z" fill="#ff9393" stroke="#ff9393"/>
<path d="M75.2 934.3L21.9 916.2A56.3 56.3 0 0 1 23.3 912.5Z" fill="#ff8b8b" stroke="#ff8b8b"/>
<path d="M75.2 934.3L23.2 912.8A56.3 56.3 0 0 1 24.8 909.1Z" fill="#ff8282" stroke="#ff8282"/>
<path d="M75.2 934.3L24.7 909.4A56.3 56.3 0 0 1 26.6 905.9Z" fill="#ff7a7a" stroke="#ff7a7a"/>
<path d="M75.2 934.3L26.4 906.1A56.3 56.3 0 0 1 28.6 902.8Z" fill="#ff7171" stroke="#ff7171"/>
<path d="M75.2 934.3L28.4 903A56.3 56.3 0 0 1 30.7 899.8Z" fill="#ff6868" stroke="#ff6868"/>
<path d="M75.2 934.3L30.5 900A56.3 56.3 0 0 1 33.1 897Z" fill="#ff6060" stroke="#ff6060"/>
<path d="M75.2 934.3L32.9 897.2A56.3 56.3 0 0 1 35.6 894.3Z" fill="#ff5757" stroke="#ff5757"/>
<path d="M75.2 934.3L35.4 894.5A56.3 56.3 0 0 1 38.3 891.8Z" fill="#ff4f4f" stroke="#ff4f4f"/>
<path d="M75.2 934.3L38.1 892A56.3 56.3 0 0 1 41.2 889.5Z" fill="#ff4646" stroke="#ff4646"/>
<path d="M75.2 934.3L40.9 889.6A56.3 56.3 0 0 1 44.2 887.3Z" fill="#ff3d3d" stroke="#ff3d3d"/>
<path d="M75.2 934.3L43.9 887.5A56.3 56.3 0 0 1 47.3 885.4Z" fill="#ff3535" stroke="#ff3535"/>
<path d="M75.2 934.3L47 885.5A56.3 56.3 0 0 1 50.6 883.7Z" fill="#ff2c2c" stroke="#ff2c2c"/>
<path d="M75.2 934.3L50.3 883.8A56.3 56.3 0 0 1 53.9 882.2Z" fill="#ff2424" stroke="#ff2424"/>
<path d="M75.2 934.3L53.7 882.3A56.3 56.3 0 0 1 57.4 880.9Z" fill="#ff1b1b" stroke="#ff1b1b"/>
<path d="M75.2 934.3L57.1 881A56.3 56.3 0 0 1 60.9 879.8Z" fill="#ff1212" stroke="#ff1212"/>
<path d="M75.2 934.3L60.6 879.9A56.3 56.3 0 0 1 64.5 879Z" fill="#ff0a0a" stroke="#ff0a0a"/>
<path d="M75.2 934.3L64.2 879.1A56.3 56.3 0 0 1 68.1 878.4Z" fill="#ff0101" stroke="#ff0101"/>
<path d="M75.2 934.3L67.9 878.5A56.3 56.3 0 0 1 71.8 878.1Z" fill="#ff0000" stroke="#ff0000"/>
<path d="M75.2 934.3L71.5 878.1A56.3 56.3 0 0 1 75.5 878Z" fill="#ff0000" stroke="#ff0000"/>
</g>
<text x="74.8" y="859.5" font-size="7.05" font-weight="bold" text-anchor="middle" fill="#111">Percentage Max FA</text>
<g font-size="6.3" fill="#111">
<text transform="translate(78.4 866.9) rotate(-87.3)" y="2.2" text-anchor="middle">0.00</text>
<text transform="translate(103.9 873.2) rotate(-64.8)" y="2.2" text-anchor="middle">6.35</text>
<text transform="translate(125.1 888.9) rotate(-42.3)" y="2.2" text-anchor="middle">12.70</text>
<text transform="translate(138.7 911.4) rotate(-19.8)" y="2.2" text-anchor="middle">19.05</text>
<text transform="translate(142.6 937.5) rotate(2.7)" y="2.2" text-anchor="middle">25.40</text>
<text transform="translate(136.3 963) rotate(25.2)" y="2.2" text-anchor="middle">31.75</text>
<text transform="translate(120.6 984.2) rotate(47.7)" y="2.2" text-anchor="middle">38.10</text>
<text transform="translate(98.1 997.8) rotate(70.2)" y="2.2" text-anchor="middle">44.44</text>
<text transform="translate(72 1001.7) rotate(272.7)" y="2.2" text-anchor="middle">50.79</text>
<text transform="translate(46.5 995.4) rotate(295.2)" y="2.2" text-anchor="middle">57.14</text>
<text transform="translate(25.3 979.7) rotate(317.7)" y="2.2" text-anchor="middle">63.49</text>
<text transform="translate(11.7 957.2) rotate(340.2)" y="2.2" text-anchor="middle">69.84</text>
<text transform="translate(7.8 931.1) rotate(362.7)" y="2.2" text-anchor="middle">76.19</text>
<text transform="translate(14.1 905.6) rotate(385.2)" y="2.2" text-anchor="middle">82.54</text>
<text transform="translate(29.8 884.4) rotate(407.7)" y="2.2" text-anchor="middle">88.89</text>
<text transform="translate(52.3 870.8) rotate(430.2)" y="2.2" text-anchor="middle">95.24</text>
</g>
<g stroke-width="0.4">
<path d="M224.6 935.5L224.6 881.2A54.3 54.3 0 0 1 230.2 881.5Z" fill="#00f86a" stroke="#00b74e"/>
<path d="M224.6 935.5L229.9 881.5A54.3 54.3 0 0 1 235.5 882.3Z" fill="#00f46c" stroke="#00b550"/>
<path d="M224.6 935.5L235.2 882.2A54.3 54.3 0 0 1 240.6 883.6Z" fill="#00f06f" stroke="#00b352"/>
<path d="M224.6 935.5L240.4 883.5A54.3 54.3 0 0 1 245.6 885.4Z" fill="#00ec71" stroke="#00b054"/>
<path d="M224.6 935.5L245.4 885.3A54.3 54.3 0 0 1 250.4 887.7Z" fill="#00e873" stroke="#00ae56"/>
<path d="M224.6 935.5L250.2 887.6A54.3 54.3 0 0 1 255 890.5Z" fill="#00e575" stroke="#00ad58"/>
<path d="M224.6 935.5L254.8 890.4A54.3 54.3 0 0 1 259.3 893.7Z" fill="#00e178" stroke="#00aa5b"/>
<path d="M224.6 935.5L259 893.5A54.3 54.3 0 0 1 263.2 897.3Z" fill="#00dd7a" stroke="#00a85c"/>
<path d="M224.6 935.5L263 897.1A54.3 54.3 0 0 1 266.8 901.3Z" fill="#00d97c" stroke="#00a65e"/>
<path d="M224.6 935.5L266.6 901.1A54.3 54.3 0 0 1 269.9 905.6Z" fill="#00d57f" stroke="#00a361"/>
<path d="M224.6 935.5L269.7 905.3A54.3 54.3 0 0 1 272.6 910.2Z" fill="#00d181" stroke="#00a163"/>
<path d="M224.6 935.5L272.5 909.9A54.3 54.3 0 0 1 274.9 915Z" fill="#00cd83" stroke="#009e65"/>
<path d="M224.6 935.5L274.8 914.7A54.3 54.3 0 0 1 276.6 920Z" fill="#00c985" stroke="#009c67"/>
<path d="M224.6 935.5L276.6 919.7A54.3 54.3 0 0 1 277.9 925.2Z" fill="#00c588" stroke="#00996a"/>
<path d="M224.6 935.5L277.9 924.9A54.3 54.3 0 0 1 278.7 930.5Z" fill="#00c18a" stroke="#00976c"/>
<path d="M224.6 935.5L278.6 930.2A54.3 54.3 0 0 1 278.9 935.8Z" fill="#00bd8c" stroke="#00946e"/>
<path d="M224.6 935.5L278.9 935.5A54.3 54.3 0 0 1 278.6 941.1Z" fill="#00ba8e" stroke="#009270"/>
<path d="M224.6 935.5L278.6 940.8A54.3 54.3 0 0 1 277.8 946.4Z" fill="#00b691" stroke="#009073"/>
<path d="M224.6 935.5L277.9 946.1A54.3 54.3 0 0 1 276.5 951.5Z" fill="#00b293" stroke="#008d75"/>
<path d="M224.6 935.5L276.6 951.3A54.3 54.3 0 0 1 274.7 956.5Z" fill="#00ae95" stroke="#008b77"/>
<path d="M224.6 935.5L274.8 956.3A54.3 54.3 0 0 1 272.4 961.3Z" fill="#00aa97" stroke="#008879"/>
<path d="M224.6 935.5L272.5 961.1A54.3 54.3 0 0 1 269.6 965.9Z" fill="#00a69a" stroke="#00857c"/>
<path d="M224.6 935.5L269.7 965.7A54.3 54.3 0 0 1 266.4 970.2Z" fill="#00a29c" stroke="#00837e"/>
<path d="M224.6 935.5L266.6 969.9A54.3 54.3 0 0 1 262.8 974.1Z" fill="#009e9e" stroke="#008080"/>
<path d="M224.6 935.5L263 973.9A54.3 54.3 0 0 1 258.8 977.7Z" fill="#009aa1" stroke="#007d83"/>
<path d="M224.6 935.5L259 977.5A54.3 54.3 0 0 1 254.5 980.8Z" fill="#0096a3" stroke="#007a85"/>
<path d="M224.6 935.5L254.8 980.6A54.3 54.3 0 0 1 249.9 983.5Z" fill="#0092a5" stroke="#007787"/>
<path d="M224.6 935.5L250.2 983.4A54.3 54.3 0 0 1 245.1 985.8Z" fill="#008fa7" stroke="#007589"/>
<path d="M224.6 935.5L245.4 985.7A54.3 54.3 0 0 1 240.1 987.5Z" fill="#008baa" stroke="#00738c"/>
<path d="M224.6 935.5L240.4 987.5A54.3 54.3 0 0 1 234.9 988.8Z" fill="#0087ac" stroke="#00708e"/>
<path d="M224.6 935.5L235.2 988.8A54.3 54.3 0 0 1 229.6 989.6Z" fill="#0083ae" stroke="#006d91"/>
<path d="M224.6 935.5L229.9 989.5A54.3 54.3 0 0 1 224.3 989.8Z" fill="#007fb0" stroke="#006a93"/>
<path d="M224.6 935.5L224.6 989.8A54.3 54.3 0 0 1 219 989.5Z" fill="#007bb3" stroke="#006796"/>
<path d="M224.6 935.5L219.3 989.5A54.3 54.3 0 0 1 213.7 988.7Z" fill="#0077b5" stroke="#006498"/>
<path d="M224.6 935.5L214 988.8A54.3 54.3 0 0 1 208.6 987.4Z" fill="#0073b7" stroke="#00619a"/>
<path d="M224.6 935.5L208.8 987.5A54.3 54.3 0 0 1 203.6 985.6Z" fill="#006fb9" stroke="#005e9d"/>
<path d="M224.6 935.5L203.8 985.7A54.3 54.3 0 0 1 198.8 983.3Z" fill="#006bbc" stroke="#005ba0"/>
<path d="M224.6 935.5L199 983.4A54.3 54.3 0 0 1 194.2 980.5Z" fill="#0068be" stroke="#0058a2"/>
<path d="M224.6 935.5L194.4 980.6A54.3 54.3 0 0 1 189.9 977.3Z" fill="#0064c0" stroke="#0055a4"/>
<path d="M224.6 935.5L190.2 977.5A54.3 54.3 0 0 1 186 973.7Z" fill="#0060c2" stroke="#0052a7"/>
<path d="M224.6 935.5L186.2 973.9A54.3 54.3 0 0 1 182.4 969.7Z" fill="#005cc5" stroke="#004faa"/>
<path d="M224.6 935.5L182.6 969.9A54.3 54.3 0 0 1 179.3 965.4Z" fill="#0058c7" stroke="#004cac"/>
<path d="M224.6 935.5L179.5 965.7A54.3 54.3 0 0 1 176.6 960.8Z" fill="#0054c9" stroke="#0049af"/>
<path d="M224.6 935.5L176.7 961.1A54.3 54.3 0 0 1 174.3 956Z" fill="#0050cc" stroke="#0045b2"/>
<path d="M224.6 935.5L174.4 956.3A54.3 54.3 0 0 1 172.6 951Z" fill="#004cce" stroke="#0042b4"/>
<path d="M224.6 935.5L172.6 951.3A54.3 54.3 0 0 1 171.3 945.8Z" fill="#0048d0" stroke="#003fb7"/>
<path d="M224.6 935.5L171.3 946.1A54.3 54.3 0 0 1 170.5 940.5Z" fill="#0044d2" stroke="#003cb9"/>
<path d="M224.6 935.5L170.6 940.8A54.3 54.3 0 0 1 170.3 935.2Z" fill="#0040d5" stroke="#0038bc"/>
<path d="M224.6 935.5L170.3 935.5A54.3 54.3 0 0 1 170.6 929.9Z" fill="#003dd7" stroke="#0036bf"/>
<path d="M224.6 935.5L170.6 930.2A54.3 54.3 0 0 1 171.4 924.6Z" fill="#0039d9" stroke="#0032c1"/>
<path d="M224.6 935.5L171.3 924.9A54.3 54.3 0 0 1 172.7 919.5Z" fill="#0035db" stroke="#002fc4"/>
<path d="M224.6 935.5L172.6 919.7A54.3 54.3 0 0 1 174.5 914.5Z" fill="#0031de" stroke="#002cc7"/>
<path d="M224.6 935.5L174.4 914.7A54.3 54.3 0 0 1 176.8 909.7Z" fill="#002de0" stroke="#0028ca"/>
<path d="M224.6 935.5L176.7 909.9A54.3 54.3 0 0 1 179.6 905.1Z" fill="#0029e2" stroke="#0025cc"/>
<path d="M224.6 935.5L179.5 905.3A54.3 54.3 0 0 1 182.8 900.8Z" fill="#0025e4" stroke="#0021cf"/>
<path d="M224.6 935.5L182.6 901.1A54.3 54.3 0 0 1 186.4 896.9Z" fill="#0021e7" stroke="#001ed2"/>
<path d="M224.6 935.5L186.2 897.1A54.3 54.3 0 0 1 190.4 893.3Z" fill="#001de9" stroke="#001ad5"/>
<path d="M224.6 935.5L190.2 893.5A54.3 54.3 0 0 1 194.7 890.2Z" fill="#0019eb" stroke="#0016d7"/>
<path d="M224.6 935.5L194.4 890.4A54.3 54.3 0 0 1 199.3 887.5Z" fill="#0015ee" stroke="#0013db"/>
<path d="M224.6 935.5L199 887.6A54.3 54.3 0 0 1 204.1 885.2Z" fill="#0012f0" stroke="#0010dd"/>
<path d="M224.6 935.5L203.8 885.3A54.3 54.3 0 0 1 209.1 883.5Z" fill="#000ef2" stroke="#000ce0"/>
<path d="M224.6 935.5L208.8 883.5A54.3 54.3 0 0 1 214.3 882.2Z" fill="#000af4" stroke="#0009e3"/>
<path d="M224.6 935.5L214 882.2A54.3 54.3 0 0 1 219.6 881.4Z" fill="#0006f7" stroke="#0005e6"/>
<path d="M224.6 935.5L219.3 881.5A54.3 54.3 0 0 1 224.9 881.2Z" fill="#0002f9" stroke="#0001e9"/>
</g>
<circle cx="224.6" cy="935.5" r="3.1" fill="#6a7a70" opacity="0.75"/>
<circle cx="224.6" cy="935.5" r="54.3" fill="none" stroke="#1050a0" stroke-width="0.5" opacity="0.6"/>
<text x="224.1" y="862.8" font-size="8.75" font-weight="bold" text-anchor="middle" fill="#111">Grey Matter Volume</text>
<g font-size="6.3" fill="#111">
<text transform="translate(227.7 870.1) rotate(-87.3)" y="2.2" text-anchor="middle">0.22</text>
<text transform="translate(252.5 876.2) rotate(-64.8)" y="2.2" text-anchor="middle">2.01</text>
<text transform="translate(273 891.4) rotate(-42.3)" y="2.2" text-anchor="middle">3.79</text>
<text transform="translate(286.2 913.3) rotate(-19.8)" y="2.2" text-anchor="middle">5.58</text>
<text transform="translate(290 938.6) rotate(2.7)" y="2.2" text-anchor="middle">7.37</text>
<text transform="translate(283.9 963.4) rotate(25.2)" y="2.2" text-anchor="middle">9.16</text>
<text transform="translate(268.7 983.9) rotate(47.7)" y="2.2" text-anchor="middle">10.94</text>
<text transform="translate(246.8 997.1) rotate(70.2)" y="2.2" text-anchor="middle">12.73</text>
<text transform="translate(221.5 1000.9) rotate(272.7)" y="2.2" text-anchor="middle">14.52</text>
<text transform="translate(196.7 994.8) rotate(295.2)" y="2.2" text-anchor="middle">16.31</text>
<text transform="translate(176.2 979.6) rotate(317.7)" y="2.2" text-anchor="middle">18.09</text>
<text transform="translate(163 957.7) rotate(340.2)" y="2.2" text-anchor="middle">19.88</text>
<text transform="translate(159.2 932.4) rotate(362.7)" y="2.2" text-anchor="middle">21.67</text>
<text transform="translate(165.3 907.6) rotate(385.2)" y="2.2" text-anchor="middle">23.45</text>
<text transform="translate(180.5 887.1) rotate(407.7)" y="2.2" text-anchor="middle">25.24</text>
<text transform="translate(202.4 873.9) rotate(430.2)" y="2.2" text-anchor="middle">27.03</text>
</g>
<g stroke-width="0.4">
<path d="M370.5 935.4L370.5 880.2A55.2 55.2 0 0 1 376.2 880.5Z" fill="#fffd02" stroke="#bcbb01"/>
<path d="M370.5 935.4L375.9 880.5A55.2 55.2 0 0 1 381.6 881.3Z" fill="#fff906" stroke="#bdb904"/>
<path d="M370.5 935.4L381.3 881.3A55.2 55.2 0 0 1 386.8 882.7Z" fill="#fff50a" stroke="#beb607"/>
<path d="M370.5 935.4L386.5 882.6A55.2 55.2 0 0 1 391.9 884.5Z" fill="#fff10e" stroke="#bfb40a"/>
<path d="M370.5 935.4L391.6 884.4A55.2 55.2 0 0 1 396.8 886.9Z" fill="#ffed12" stroke="#bfb20d"/>
<path d="M370.5 935.4L396.5 886.7A55.2 55.2 0 0 1 401.4 889.7Z" fill="#ffe916" stroke="#c0b010"/>
<path d="M370.5 935.4L401.2 889.5A55.2 55.2 0 0 1 405.7 892.9Z" fill="#ffe51a" stroke="#c1ad13"/>
<path d="M370.5 935.4L405.5 892.7A55.2 55.2 0 0 1 409.7 896.6Z" fill="#ffe11e" stroke="#c2ab16"/>
<path d="M370.5 935.4L409.5 896.4A55.2 55.2 0 0 1 413.4 900.6Z" fill="#ffdd22" stroke="#c3a91a"/>
<path d="M370.5 935.4L413.2 900.4A55.2 55.2 0 0 1 416.6 905Z" fill="#ffd926" stroke="#c3a61d"/>
<path d="M370.5 935.4L416.4 904.7A55.2 55.2 0 0 1 419.3 909.6Z" fill="#ffd52a" stroke="#c4a420"/>
<path d="M370.5 935.4L419.2 909.4A55.2 55.2 0 0 1 421.6 914.5Z" fill="#ffd12e" stroke="#c5a123"/>
<path d="M370.5 935.4L421.5 914.3A55.2 55.2 0 0 1 423.4 919.7Z" fill="#ffcd32" stroke="#c69f26"/>
<path d="M370.5 935.4L423.3 919.4A55.2 55.2 0 0 1 424.7 924.9Z" fill="#ffc936" stroke="#c79c2a"/>
<path d="M370.5 935.4L424.6 924.6A55.2 55.2 0 0 1 425.5 930.3Z" fill="#ffc53a" stroke="#c79a2d"/>
<path d="M370.5 935.4L425.4 930A55.2 55.2 0 0 1 425.7 935.7Z" fill="#ffc13e" stroke="#c89730"/>
<path d="M370.5 935.4L425.7 935.4A55.2 55.2 0 0 1 425.4 941.1Z" fill="#ffbd42" stroke="#c99534"/>
<path d="M370.5 935.4L425.4 940.8A55.2 55.2 0 0 1 424.6 946.5Z" fill="#ffb946" stroke="#ca9237"/>
<path d="M370.5 935.4L424.6 946.2A55.2 55.2 0 0 1 423.2 951.7Z" fill="#ffb54a" stroke="#cb903a"/>
<path d="M370.5 935.4L423.3 951.4A55.2 55.2 0 0 1 421.4 956.8Z" fill="#ffb14e" stroke="#cb8d3e"/>
<path d="M370.5 935.4L421.5 956.5A55.2 55.2 0 0 1 419 961.7Z" fill="#ffad52" stroke="#cc8a41"/>
<path d="M370.5 935.4L419.2 961.4A55.2 55.2 0 0 1 416.2 966.3Z" fill="#ffa956" stroke="#cd8845"/>
<path d="M370.5 935.4L416.4 966.1A55.2 55.2 0 0 1 413 970.6Z" fill="#ffa55a" stroke="#ce8548"/>
<path d="M370.5 935.4L413.2 970.4A55.2 55.2 0 0 1 409.3 974.6Z" fill="#ffa15e" stroke="#cf824c"/>
<path d="M370.5 935.4L409.5 974.4A55.2 55.2 0 0 1 405.3 978.3Z" fill="#ff9d62" stroke="#cf7f4f"/>
<path d="M370.5 935.4L405.5 978.1A55.2 55.2 0 0 1 400.9 981.5Z" fill="#ff9966" stroke="#d07d53"/>
<path d="M370.5 935.4L401.2 981.3A55.2 55.2 0 0 1 396.3 984.2Z" fill="#ff956a" stroke="#d17a57"/>
<path d="M370.5 935.4L396.5 984.1A55.2 55.2 0 0 1 391.4 986.5Z" fill="#ff916e" stroke="#d2775a"/>
<path d="M370.5 935.4L391.6 986.4A55.2 55.2 0 0 1 386.2 988.3Z" fill="#ff8d72" stroke="#d3745e"/>
<path d="M370.5 935.4L386.5 988.2A55.2 55.2 0 0 1 381 989.6Z" fill="#ff8976" stroke="#d37162"/>
<path d="M370.5 935.4L381.3 989.5A55.2 55.2 0 0 1 375.6 990.4Z" fill="#ff857a" stroke="#d46e65"/>
<path d="M370.5 935.4L375.9 990.3A55.2 55.2 0 0 1 370.2 990.6Z" fill="#ff817e" stroke="#d56b69"/>
<path d="M370.5 935.4L370.5 990.6A55.2 55.2 0 0 1 364.8 990.3Z" fill="#ff7e81" stroke="#d6696c"/>
<path d="M370.5 935.4L365.1 990.3A55.2 55.2 0 0 1 359.4 989.5Z" fill="#ff7a85" stroke="#d66670"/>
<path d="M370.5 935.4L359.7 989.5A55.2 55.2 0 0 1 354.2 988.1Z" fill="#ff7689" stroke="#d76373"/>
<path d="M370.5 935.4L354.5 988.2A55.2 55.2 0 0 1 349.1 986.3Z" fill="#ff728d" stroke="#d86077"/>
<path d="M370.5 935.4L349.4 986.4A55.2 55.2 0 0 1 344.2 983.9Z" fill="#ff6e91" stroke="#d95d7b"/>
<path d="M370.5 935.4L344.5 984.1A55.2 55.2 0 0 1 339.6 981.1Z" fill="#ff6a95" stroke="#da5a7f"/>
<path d="M370.5 935.4L339.8 981.3A55.2 55.2 0 0 1 335.3 977.9Z" fill="#ff6699" stroke="#da5783"/>
<path d="M370.5 935.4L335.5 978.1A55.2 55.2 0 0 1 331.3 974.2Z" fill="#ff629d" stroke="#db5487"/>
<path d="M370.5 935.4L331.5 974.4A55.2 55.2 0 0 1 327.6 970.2Z" fill="#ff5ea1" stroke="#dc518b"/>
<path d="M370.5 935.4L327.8 970.4A55.2 55.2 0 0 1 324.4 965.8Z" fill="#ff5aa5" stroke="#dd4e8f"/>
<path d="M370.5 935.4L324.6 966.1A55.2 55.2 0 0 1 321.7 961.2Z" fill="#ff56a9" stroke="#de4a93"/>
<path d="M370.5 935.4L321.8 961.4A55.2 55.2 0 0 1 319.4 956.3Z" fill="#ff52ad" stroke="#de4797"/>
<path d="M370.5 935.4L319.5 956.5A55.2 55.2 0 0 1 317.6 951.1Z" fill="#ff4eb1" stroke="#df449b"/>
<path d="M370.5 935.4L317.7 951.4A55.2 55.2 0 0 1 316.3 945.9Z" fill="#ff4ab5" stroke="#e0419f"/>
<path d="M370.5 935.4L316.4 946.2A55.2 55.2 0 0 1 315.5 940.5Z" fill="#ff46b9" stroke="#e13da3"/>
<path d="M370.5 935.4L315.6 940.8A55.2 55.2 0 0 1 315.3 935.1Z" fill="#ff42bd" stroke="#e23aa7"/>
<path d="M370.5 935.4L315.3 935.4A55.2 55.2 0 0 1 315.6 929.7Z" fill="#ff3ec1" stroke="#e237ab"/>
<path d="M370.5 935.4L315.6 930A55.2 55.2 0 0 1 316.4 924.3Z" fill="#ff3ac5" stroke="#e333af"/>
<path d="M370.5 935.4L316.4 924.6A55.2 55.2 0 0 1 317.8 919.1Z" fill="#ff36c9" stroke="#e430b4"/>
<path d="M370.5 935.4L317.7 919.4A55.2 55.2 0 0 1 319.6 914Z" fill="#ff32cd" stroke="#e52cb8"/>
<path d="M370.5 935.4L319.5 914.3A55.2 55.2 0 0 1 322 909.1Z" fill="#ff2ed1" stroke="#e629bc"/>
<path d="M370.5 935.4L321.8 909.4A55.2 55.2 0 0 1 324.8 904.5Z" fill="#ff2ad5" stroke="#e626c0"/>
<path d="M370.5 935.4L324.6 904.7A55.2 55.2 0 0 1 328 900.2Z" fill="#ff26d9" stroke="#e722c5"/>
<path d="M370.5 935.4L327.8 900.4A55.2 55.2 0 0 1 331.7 896.2Z" fill="#ff22dd" stroke="#e81fc9"/>
<path d="M370.5 935.4L331.5 896.4A55.2 55.2 0 0 1 335.7 892.5Z" fill="#ff1ee1" stroke="#e91bcd"/>
<path d="M370.5 935.4L335.5 892.7A55.2 55.2 0 0 1 340.1 889.3Z" fill="#ff1ae5" stroke="#ea17d2"/>
<path d="M370.5 935.4L339.8 889.5A55.2 55.2 0 0 1 344.7 886.6Z" fill="#ff16e9" stroke="#ea14d6"/>
<path d="M370.5 935.4L344.5 886.7A55.2 55.2 0 0 1 349.6 884.3Z" fill="#ff12ed" stroke="#eb10db"/>
<path d="M370.5 935.4L349.4 884.4A55.2 55.2 0 0 1 354.8 882.5Z" fill="#ff0ef1" stroke="#ec0cdf"/>
<path d="M370.5 935.4L354.5 882.6A55.2 55.2 0 0 1 360 881.2Z" fill="#ff0af5" stroke="#ed09e4"/>
<path d="M370.5 935.4L359.7 881.3A55.2 55.2 0 0 1 365.4 880.4Z" fill="#ff06f9" stroke="#ee05e8"/>
<path d="M370.5 935.4L365.1 880.5A55.2 55.2 0 0 1 370.8 880.2Z" fill="#ff02fd" stroke="#ee01ed"/>
</g>
<circle cx="370.5" cy="935.4" r="3.1" fill="#6a6070" opacity="0.75"/>
<circle cx="370.5" cy="935.4" r="55.2" fill="none" stroke="#a06040" stroke-width="0.5" opacity="0.6"/>
<text x="370.7" y="861.8" font-size="8.7" font-weight="bold" text-anchor="middle" fill="#111">Surface Area</text>
<g font-size="6.3" fill="#111">
<text transform="translate(373.6 869.1) rotate(-87.3)" y="2.2" text-anchor="middle">3.70</text>
<text transform="translate(398.8 875.3) rotate(-64.8)" y="2.2" text-anchor="middle">4.44</text>
<text transform="translate(419.6 890.7) rotate(-42.3)" y="2.2" text-anchor="middle">5.18</text>
<text transform="translate(433 912.9) rotate(-19.8)" y="2.2" text-anchor="middle">5.92</text>
<text transform="translate(436.8 938.5) rotate(2.7)" y="2.2" text-anchor="middle">6.67</text>
<text transform="translate(430.6 963.7) rotate(25.2)" y="2.2" text-anchor="middle">7.41</text>
<text transform="translate(415.2 984.5) rotate(47.7)" y="2.2" text-anchor="middle">8.15</text>
<text transform="translate(393 997.9) rotate(70.2)" y="2.2" text-anchor="middle">8.89</text>
<text transform="translate(367.4 1001.7) rotate(272.7)" y="2.2" text-anchor="middle">9.63</text>
<text transform="translate(342.2 995.5) rotate(295.2)" y="2.2" text-anchor="middle">10.37</text>
<text transform="translate(321.4 980.1) rotate(317.7)" y="2.2" text-anchor="middle">11.12</text>
<text transform="translate(308 957.9) rotate(340.2)" y="2.2" text-anchor="middle">11.86</text>
<text transform="translate(304.2 932.3) rotate(362.7)" y="2.2" text-anchor="middle">12.60</text>
<text transform="translate(310.4 907.1) rotate(385.2)" y="2.2" text-anchor="middle">13.34</text>
<text transform="translate(325.8 886.3) rotate(407.7)" y="2.2" text-anchor="middle">14.08</text>
<text transform="translate(348 872.9) rotate(430.2)" y="2.2" text-anchor="middle">14.82</text>
</g>
<g stroke-width="0.4">
<path d="M516.6 935.5L516.6 881A54.5 54.5 0 0 1 522.2 881.3Z" fill="#fdfe64" stroke="#bbbb4a"/>
<path d="M516.6 935.5L521.9 881.3A54.5 54.5 0 0 1 527.5 882.1Z" fill="#f9fc64" stroke="#b9bb4a"/>
<path d="M516.6 935.5L527.2 882A54.5 54.5 0 0 1 532.7 883.4Z" fill="#f5fa64" stroke="#b6ba4a"/>
<path d="M516.6 935.5L532.4 883.3A54.5 54.5 0 0 1 537.7 885.3Z" fill="#f1f864" stroke="#b4b94a"/>
<path d="M516.6 935.5L537.5 885.1A54.5 54.5 0 0 1 542.5 887.6Z" fill="#edf664" stroke="#b2b94b"/>
<path d="M516.6 935.5L542.3 887.4A54.5 54.5 0 0 1 547.1 890.3Z" fill="#e9f464" stroke="#b0b84b"/>
<path d="M516.6 935.5L546.9 890.2A54.5 54.5 0 0 1 551.4 893.6Z" fill="#e5f264" stroke="#adb74b"/>
<path d="M516.6 935.5L551.2 893.4A54.5 54.5 0 0 1 555.3 897.2Z" fill="#e1f064" stroke="#abb64c"/>
<path d="M516.6 935.5L555.1 897A54.5 54.5 0 0 1 558.9 901.1Z" fill="#ddee64" stroke="#a9b64c"/>
<path d="M516.6 935.5L558.7 900.9A54.5 54.5 0 0 1 562.1 905.5Z" fill="#d9ec64" stroke="#a6b54c"/>
<path d="M516.6 935.5L561.9 905.2A54.5 54.5 0 0 1 564.8 910.1Z" fill="#d5ea64" stroke="#a4b44d"/>
<path d="M516.6 935.5L564.7 909.8A54.5 54.5 0 0 1 567.1 914.9Z" fill="#d1e864" stroke="#a1b34d"/>
<path d="M516.6 935.5L567 914.6A54.5 54.5 0 0 1 568.8 920Z" fill="#cde664" stroke="#9fb24d"/>
<path d="M516.6 935.5L568.8 919.7A54.5 54.5 0 0 1 570.1 925.1Z" fill="#c9e464" stroke="#9cb14e"/>
<path d="M516.6 935.5L570.1 924.9A54.5 54.5 0 0 1 570.9 930.4Z" fill="#c5e264" stroke="#9ab14e"/>
<path d="M516.6 935.5L570.8 930.2A54.5 54.5 0 0 1 571.1 935.8Z" fill="#c1e064" stroke="#97b04e"/>
<path d="M516.6 935.5L571.1 935.5A54.5 54.5 0 0 1 570.8 941.1Z" fill="#bdde64" stroke="#95af4f"/>
<path d="M516.6 935.5L570.8 940.8A54.5 54.5 0 0 1 570 946.4Z" fill="#b9dc64" stroke="#92ae4f"/>
<path d="M516.6 935.5L570.1 946.1A54.5 54.5 0 0 1 568.7 951.6Z" fill="#b5da64" stroke="#90ad4f"/>
<path d="M516.6 935.5L568.8 951.3A54.5 54.5 0 0 1 566.8 956.6Z" fill="#b1d864" stroke="#8dac4f"/>
<path d="M516.6 935.5L567 956.4A54.5 54.5 0 0 1 564.5 961.4Z" fill="#add664" stroke="#8aab50"/>
<path d="M516.6 935.5L564.7 961.2A54.5 54.5 0 0 1 561.8 966Z" fill="#a9d464" stroke="#88aa50"/>
<path d="M516.6 935.5L561.9 965.8A54.5 54.5 0 0 1 558.5 970.3Z" fill="#a5d264" stroke="#85a950"/>
<path d="M516.6 935.5L558.7 970.1A54.5 54.5 0 0 1 554.9 974.2Z" fill="#a1d064" stroke="#82a851"/>
<path d="M516.6 935.5L555.1 974A54.5 54.5 0 0 1 551 977.8Z" fill="#9dce64" stroke="#7fa751"/>
<path d="M516.6 935.5L551.2 977.6A54.5 54.5 0 0 1 546.6 981Z" fill="#99cc64" stroke="#7da651"/>
<path d="M516.6 935.5L546.9 980.8A54.5 54.5 0 0 1 542 983.7Z" fill="#95ca64" stroke="#7aa552"/>
<path d="M516.6 935.5L542.3 983.6A54.5 54.5 0 0 1 537.2 986Z" fill="#91c864" stroke="#77a452"/>
<path d="M516.6 935.5L537.5 985.9A54.5 54.5 0 0 1 532.1 987.7Z" fill="#8dc664" stroke="#74a352"/>
<path d="M516.6 935.5L532.4 987.7A54.5 54.5 0 0 1 527 989Z" fill="#89c464" stroke="#71a253"/>
<path d="M516.6 935.5L527.2 989A54.5 54.5 0 0 1 521.7 989.8Z" fill="#85c264" stroke="#6ea153"/>
<path d="M516.6 935.5L521.9 989.7A54.5 54.5 0 0 1 516.3 990Z" fill="#81c064" stroke="#6ba053"/>
<path d="M516.6 935.5L516.6 990A54.5 54.5 0 0 1 511 989.7Z" fill="#7ebf64" stroke="#69a054"/>
<path d="M516.6 935.5L511.3 989.7A54.5 54.5 0 0 1 505.7 988.9Z" fill="#7abd64" stroke="#669f54"/>
<path d="M516.6 935.5L506 989A54.5 54.5 0 0 1 500.5 987.6Z" fill="#76bb64" stroke="#639e54"/>
<path d="M516.6 935.5L500.8 987.7A54.5 54.5 0 0 1 495.5 985.7Z" fill="#72b964" stroke="#609d54"/>
<path d="M516.6 935.5L495.7 985.9A54.5 54.5 0 0 1 490.7 983.4Z" fill="#6eb764" stroke="#5d9c55"/>
<path d="M516.6 935.5L490.9 983.6A54.5 54.5 0 0 1 486.1 980.7Z" fill="#6ab564" stroke="#5a9a55"/>
<path d="M516.6 935.5L486.3 980.8A54.5 54.5 0 0 1 481.8 977.4Z" fill="#66b364" stroke="#579955"/>
<path d="M516.6 935.5L482 977.6A54.5 54.5 0 0 1 477.9 973.8Z" fill="#62b164" stroke="#549856"/>
<path d="M516.6 935.5L478.1 974A54.5 54.5 0 0 1 474.3 969.9Z" fill="#5eaf64" stroke="#519756"/>
<path d="M516.6 935.5L474.5 970.1A54.5 54.5 0 0 1 471.1 965.5Z" fill="#5aad64" stroke="#4e9656"/>
<path d="M516.6 935.5L471.3 965.8A54.5 54.5 0 0 1 468.4 960.9Z" fill="#56ab64" stroke="#4a9457"/>
<path d="M516.6 935.5L468.5 961.2A54.5 54.5 0 0 1 466.1 956.1Z" fill="#52a964" stroke="#479357"/>
<path d="M516.6 935.5L466.2 956.4A54.5 54.5 0 0 1 464.4 951Z" fill="#4ea764" stroke="#449257"/>
<path d="M516.6 935.5L464.4 951.3A54.5 54.5 0 0 1 463.1 945.9Z" fill="#4aa564" stroke="#419158"/>
<path d="M516.6 935.5L463.1 946.1A54.5 54.5 0 0 1 462.3 940.6Z" fill="#46a364" stroke="#3d9058"/>
<path d="M516.6 935.5L462.4 940.8A54.5 54.5 0 0 1 462.1 935.2Z" fill="#42a164" stroke="#3a8e58"/>
<path d="M516.6 935.5L462.1 935.5A54.5 54.5 0 0 1 462.4 929.9Z" fill="#3e9f64" stroke="#378d59"/>
<path d="M516.6 935.5L462.4 930.2A54.5 54.5 0 0 1 463.2 924.6Z" fill="#3a9d64" stroke="#338c59"/>
<path d="M516.6 935.5L463.1 924.9A54.5 54.5 0 0 1 464.5 919.4Z" fill="#369b64" stroke="#308a59"/>
<path d="M516.6 935.5L464.4 919.7A54.5 54.5 0 0 1 466.4 914.4Z" fill="#329964" stroke="#2c8959"/>
<path d="M516.6 935.5L466.2 914.6A54.5 54.5 0 0 1 468.7 909.6Z" fill="#2e9764" stroke="#29885a"/>
<path d="M516.6 935.5L468.5 909.8A54.5 54.5 0 0 1 471.4 905Z" fill="#2a9564" stroke="#26865a"/>
<path d="M516.6 935.5L471.3 905.2A54.5 54.5 0 0 1 474.7 900.7Z" fill="#269364" stroke="#22855a"/>
<path d="M516.6 935.5L474.5 900.9A54.5 54.5 0 0 1 478.3 896.8Z" fill="#229164" stroke="#1f845b"/>
<path d="M516.6 935.5L478.1 897A54.5 54.5 0 0 1 482.2 893.2Z" fill="#1e8f64" stroke="#1b825b"/>
<path d="M516.6 935.5L482 893.4A54.5 54.5 0 0 1 486.6 890Z" fill="#1a8d64" stroke="#17815b"/>
<path d="M516.6 935.5L486.3 890.2A54.5 54.5 0 0 1 491.2 887.3Z" fill="#168b64" stroke="#14805c"/>
<path d="M516.6 935.5L490.9 887.4A54.5 54.5 0 0 1 496 885Z" fill="#128964" stroke="#107e5c"/>
<path d="M516.6 935.5L495.7 885.1A54.5 54.5 0 0 1 501.1 883.3Z" fill="#0e8764" stroke="#0c7d5c"/>
<path d="M516.6 935.5L500.8 883.3A54.5 54.5 0 0 1 506.2 882Z" fill="#0a8564" stroke="#097b5d"/>
<path d="M516.6 935.5L506 882A54.5 54.5 0 0 1 511.5 881.2Z" fill="#068364" stroke="#057a5d"/>
<path d="M516.6 935.5L511.3 881.3A54.5 54.5 0 0 1 516.9 881Z" fill="#028164" stroke="#01785d"/>
</g>
<circle cx="516.6" cy="935.5" r="3.1" fill="#6a6a60" opacity="0.75"/>
<circle cx="516.6" cy="935.5" r="54.5" fill="none" stroke="#507040" stroke-width="0.5" opacity="0.6"/>
<text x="516.7" y="862.8" font-size="8.75" font-weight="bold" text-anchor="middle" fill="#111">Cortical Thickness</text>
<g font-size="6.3" fill="#111">
<text transform="translate(519.7 869.9) rotate(-87.3)" y="2.2" text-anchor="middle">3.36</text>
<text transform="translate(544.6 876.1) rotate(-64.8)" y="2.2" text-anchor="middle">3.56</text>
<text transform="translate(565.2 891.3) rotate(-42.3)" y="2.2" text-anchor="middle">3.76</text>
<text transform="translate(578.4 913.2) rotate(-19.8)" y="2.2" text-anchor="middle">3.96</text>
<text transform="translate(582.2 938.6) rotate(2.7)" y="2.2" text-anchor="middle">4.17</text>
<text transform="translate(576 963.5) rotate(25.2)" y="2.2" text-anchor="middle">4.37</text>
<text transform="translate(560.8 984.1) rotate(47.7)" y="2.2" text-anchor="middle">4.57</text>
<text transform="translate(538.9 997.3) rotate(70.2)" y="2.2" text-anchor="middle">4.77</text>
<text transform="translate(513.5 1001.1) rotate(272.7)" y="2.2" text-anchor="middle">4.97</text>
<text transform="translate(488.6 994.9) rotate(295.2)" y="2.2" text-anchor="middle">5.17</text>
<text transform="translate(468 979.7) rotate(317.7)" y="2.2" text-anchor="middle">5.37</text>
<text transform="translate(454.8 957.8) rotate(340.2)" y="2.2" text-anchor="middle">5.57</text>
<text transform="translate(451 932.4) rotate(362.7)" y="2.2" text-anchor="middle">5.78</text>
<text transform="translate(457.2 907.5) rotate(385.2)" y="2.2" text-anchor="middle">5.98</text>
<text transform="translate(472.4 886.9) rotate(407.7)" y="2.2" text-anchor="middle">6.18</text>
<text transform="translate(494.3 873.7) rotate(430.2)" y="2.2" text-anchor="middle">6.38</text>
</g>
<g stroke-width="0.4">
<path d="M663 935.4L663 880.2A55.2 55.2 0 0 1 668.7 880.5Z" fill="#fffd00" stroke="#bcbb00"/>
<path d="M663 935.4L668.4 880.5A55.2 55.2 0 0 1 674.1 881.3Z" fill="#fff900" stroke="#bdb900"/>
<path d="M663 935.4L673.8 881.3A55.2 55.2 0 0 1 679.3 882.7Z" fill="#fff500" stroke="#beb600"/>
<path d="M663 935.4L679 882.6A55.2 55.2 0 0 1 684.4 884.5Z" fill="#fff100" stroke="#bfb400"/>
<path d="M663 935.4L684.1 884.4A55.2 55.2 0 0 1 689.3 886.9Z" fill="#ffed00" stroke="#bfb200"/>
<path d="M663 935.4L689 886.7A55.2 55.2 0 0 1 693.9 889.7Z" fill="#ffe900" stroke="#c0b000"/>
<path d="M663 935.4L693.7 889.5A55.2 55.2 0 0 1 698.2 892.9Z" fill="#ffe500" stroke="#c1ad00"/>
<path d="M663 935.4L698 892.7A55.2 55.2 0 0 1 702.2 896.6Z" fill="#ffe100" stroke="#c2ab00"/>
<path d="M663 935.4L702 896.4A55.2 55.2 0 0 1 705.9 900.6Z" fill="#ffdd00" stroke="#c3a900"/>
<path d="M663 935.4L705.7 900.4A55.2 55.2 0 0 1 709.1 905Z" fill="#ffd900" stroke="#c3a600"/>
<path d="M663 935.4L708.9 904.7A55.2 55.2 0 0 1 711.8 909.6Z" fill="#ffd500" stroke="#c4a400"/>
<path d="M663 935.4L711.7 909.4A55.2 55.2 0 0 1 714.1 914.5Z" fill="#ffd100" stroke="#c5a100"/>
<path d="M663 935.4L714 914.3A55.2 55.2 0 0 1 715.9 919.7Z" fill="#ffcd00" stroke="#c69f00"/>
<path d="M663 935.4L715.8 919.4A55.2 55.2 0 0 1 717.2 924.9Z" fill="#ffc900" stroke="#c79c00"/>
<path d="M663 935.4L717.1 924.6A55.2 55.2 0 0 1 718 930.3Z" fill="#ffc500" stroke="#c79a00"/>
<path d="M663 935.4L717.9 930A55.2 55.2 0 0 1 718.2 935.7Z" fill="#ffc100" stroke="#c89700"/>
<path d="M663 935.4L718.2 935.4A55.2 55.2 0 0 1 717.9 941.1Z" fill="#ffbd00" stroke="#c99500"/>
<path d="M663 935.4L717.9 940.8A55.2 55.2 0 0 1 717.1 946.5Z" fill="#ffb900" stroke="#ca9200"/>
<path d="M663 935.4L717.1 946.2A55.2 55.2 0 0 1 715.7 951.7Z" fill="#ffb500" stroke="#cb9000"/>
<path d="M663 935.4L715.8 951.4A55.2 55.2 0 0 1 713.9 956.8Z" fill="#ffb100" stroke="#cb8d00"/>
<path d="M663 935.4L714 956.5A55.2 55.2 0 0 1 711.5 961.7Z" fill="#ffad00" stroke="#cc8a00"/>
<path d="M663 935.4L711.7 961.4A55.2 55.2 0 0 1 708.7 966.3Z" fill="#ffa900" stroke="#cd8800"/>
<path d="M663 935.4L708.9 966.1A55.2 55.2 0 0 1 705.5 970.6Z" fill="#ffa500" stroke="#ce8500"/>
<path d="M663 935.4L705.7 970.4A55.2 55.2 0 0 1 701.8 974.6Z" fill="#ffa100" stroke="#cf8200"/>
<path d="M663 935.4L702 974.4A55.2 55.2 0 0 1 697.8 978.3Z" fill="#ff9d00" stroke="#cf7f00"/>
<path d="M663 935.4L698 978.1A55.2 55.2 0 0 1 693.4 981.5Z" fill="#ff9900" stroke="#d07d00"/>
<path d="M663 935.4L693.7 981.3A55.2 55.2 0 0 1 688.8 984.2Z" fill="#ff9500" stroke="#d17a00"/>
<path d="M663 935.4L689 984.1A55.2 55.2 0 0 1 683.9 986.5Z" fill="#ff9100" stroke="#d27700"/>
<path d="M663 935.4L684.1 986.4A55.2 55.2 0 0 1 678.7 988.3Z" fill="#ff8d00" stroke="#d37400"/>
<path d="M663 935.4L679 988.2A55.2 55.2 0 0 1 673.5 989.6Z" fill="#ff8900" stroke="#d37100"/>
<path d="M663 935.4L673.8 989.5A55.2 55.2 0 0 1 668.1 990.4Z" fill="#ff8500" stroke="#d46e00"/>
<path d="M663 935.4L668.4 990.3A55.2 55.2 0 0 1 662.7 990.6Z" fill="#ff8100" stroke="#d56b00"/>
<path d="M663 935.4L663 990.6A55.2 55.2 0 0 1 657.3 990.3Z" fill="#ff7e00" stroke="#d66900"/>
<path d="M663 935.4L657.6 990.3A55.2 55.2 0 0 1 651.9 989.5Z" fill="#ff7a00" stroke="#d66600"/>
<path d="M663 935.4L652.2 989.5A55.2 55.2 0 0 1 646.7 988.1Z" fill="#ff7600" stroke="#d76300"/>
<path d="M663 935.4L647 988.2A55.2 55.2 0 0 1 641.6 986.3Z" fill="#ff7200" stroke="#d86000"/>
<path d="M663 935.4L641.9 986.4A55.2 55.2 0 0 1 636.7 983.9Z" fill="#ff6e00" stroke="#d95d00"/>
<path d="M663 935.4L637 984.1A55.2 55.2 0 0 1 632.1 981.1Z" fill="#ff6a00" stroke="#da5a00"/>
<path d="M663 935.4L632.3 981.3A55.2 55.2 0 0 1 627.8 977.9Z" fill="#ff6600" stroke="#da5700"/>
<path d="M663 935.4L628 978.1A55.2 55.2 0 0 1 623.8 974.2Z" fill="#ff6200" stroke="#db5400"/>
<path d="M663 935.4L624 974.4A55.2 55.2 0 0 1 620.1 970.2Z" fill="#ff5e00" stroke="#dc5100"/>
<path d="M663 935.4L620.3 970.4A55.2 55.2 0 0 1 616.9 965.8Z" fill="#ff5a00" stroke="#dd4e00"/>
<path d="M663 935.4L617.1 966.1A55.2 55.2 0 0 1 614.2 961.2Z" fill="#ff5600" stroke="#de4a00"/>
<path d="M663 935.4L614.3 961.4A55.2 55.2 0 0 1 611.9 956.3Z" fill="#ff5200" stroke="#de4700"/>
<path d="M663 935.4L612 956.5A55.2 55.2 0 0 1 610.1 951.1Z" fill="#ff4e00" stroke="#df4400"/>
<path d="M663 935.4L610.2 951.4A55.2 55.2 0 0 1 608.8 945.9Z" fill="#ff4a00" stroke="#e04100"/>
<path d="M663 935.4L608.9 946.2A55.2 55.2 0 0 1 608 940.5Z" fill="#ff4600" stroke="#e13d00"/>
<path d="M663 935.4L608.1 940.8A55.2 55.2 0 0 1 607.8 935.1Z" fill="#ff4200" stroke="#e23a00"/>
<path d="M663 935.4L607.8 935.4A55.2 55.2 0 0 1 608.1 929.7Z" fill="#ff3e00" stroke="#e23700"/>
<path d="M663 935.4L608.1 930A55.2 55.2 0 0 1 608.9 924.3Z" fill="#ff3a00" stroke="#e33300"/>
<path d="M663 935.4L608.9 924.6A55.2 55.2 0 0 1 610.3 919.1Z" fill="#ff3600" stroke="#e43000"/>
<path d="M663 935.4L610.2 919.4A55.2 55.2 0 0 1 612.1 914Z" fill="#ff3200" stroke="#e52c00"/>
<path d="M663 935.4L612 914.3A55.2 55.2 0 0 1 614.5 909.1Z" fill="#ff2e00" stroke="#e62900"/>
<path d="M663 935.4L614.3 909.4A55.2 55.2 0 0 1 617.3 904.5Z" fill="#ff2a00" stroke="#e62600"/>
<path d="M663 935.4L617.1 904.7A55.2 55.2 0 0 1 620.5 900.2Z" fill="#ff2600" stroke="#e72200"/>
<path d="M663 935.4L620.3 900.4A55.2 55.2 0 0 1 624.2 896.2Z" fill="#ff2200" stroke="#e81f00"/>
<path d="M663 935.4L624 896.4A55.2 55.2 0 0 1 628.2 892.5Z" fill="#ff1e00" stroke="#e91b00"/>
<path d="M663 935.4L628 892.7A55.2 55.2 0 0 1 632.6 889.3Z" fill="#ff1a00" stroke="#ea1700"/>
<path d="M663 935.4L632.3 889.5A55.2 55.2 0 0 1 637.2 886.6Z" fill="#ff1600" stroke="#ea1400"/>
<path d="M663 935.4L637 886.7A55.2 55.2 0 0 1 642.1 884.3Z" fill="#ff1200" stroke="#eb1000"/>
<path d="M663 935.4L641.9 884.4A55.2 55.2 0 0 1 647.3 882.5Z" fill="#ff0e00" stroke="#ec0c00"/>
<path d="M663 935.4L647 882.6A55.2 55.2 0 0 1 652.5 881.2Z" fill="#ff0a00" stroke="#ed0900"/>
<path d="M663 935.4L652.2 881.3A55.2 55.2 0 0 1 657.9 880.4Z" fill="#ff0600" stroke="#ee0500"/>
<path d="M663 935.4L657.6 880.5A55.2 55.2 0 0 1 663.3 880.2Z" fill="#ff0200" stroke="#ee0100"/>
</g>
<circle cx="663" cy="935.4" r="3.1" fill="#6a7078" opacity="0.75"/>
<circle cx="663" cy="935.4" r="55.2" fill="none" stroke="#a05010" stroke-width="0.5" opacity="0.6"/>
<text x="663" y="861" font-size="8.85" font-weight="bold" text-anchor="middle" fill="#111">Curvature</text>
<g font-size="6.3" fill="#111">
<text transform="translate(666.1 869.1) rotate(-87.3)" y="2.2" text-anchor="middle">0.12</text>
<text transform="translate(691.3 875.3) rotate(-64.8)" y="2.2" text-anchor="middle">0.12</text>
<text transform="translate(712.1 890.7) rotate(-42.3)" y="2.2" text-anchor="middle">0.13</text>
<text transform="translate(725.5 912.9) rotate(-19.8)" y="2.2" text-anchor="middle">0.14</text>
<text transform="translate(729.3 938.5) rotate(2.7)" y="2.2" text-anchor="middle">0.14</text>
<text transform="translate(723.1 963.7) rotate(25.2)" y="2.2" text-anchor="middle">0.15</text>
<text transform="translate(707.7 984.5) rotate(47.7)" y="2.2" text-anchor="middle">0.16</text>
<text transform="translate(685.5 997.9) rotate(70.2)" y="2.2" text-anchor="middle">0.17</text>
<text transform="translate(659.9 1001.7) rotate(272.7)" y="2.2" text-anchor="middle">0.17</text>
<text transform="translate(634.7 995.5) rotate(295.2)" y="2.2" text-anchor="middle">0.18</text>
<text transform="translate(613.9 980.1) rotate(317.7)" y="2.2" text-anchor="middle">0.19</text>
<text transform="translate(600.5 957.9) rotate(340.2)" y="2.2" text-anchor="middle">0.19</text>
<text transform="translate(596.7 932.3) rotate(362.7)" y="2.2" text-anchor="middle">0.20</text>
<text transform="translate(602.9 907.1) rotate(385.2)" y="2.2" text-anchor="middle">0.21</text>
<text transform="translate(618.3 886.3) rotate(407.7)" y="2.2" text-anchor="middle">0.21</text>
<text transform="translate(640.5 872.9) rotate(430.2)" y="2.2" text-anchor="middle">0.22</text>
</g>
<g stroke-width="0.4">
<path d="M808.3 935.8L808.3 881.6A54.2 54.2 0 0 1 813.9 881.9Z" fill="#ffcb80" stroke="#bc965e"/>
<path d="M808.3 935.8L813.6 881.9A54.2 54.2 0 0 1 819.2 882.7Z" fill="#fec77c" stroke="#bc935c"/>
<path d="M808.3 935.8L818.9 882.6A54.2 54.2 0 0 1 824.3 884Z" fill="#fdc379" stroke="#bc915a"/>
<path d="M808.3 935.8L824 883.9A54.2 54.2 0 0 1 829.3 885.8Z" fill="#fcbf75" stroke="#bc8f57"/>
<path d="M808.3 935.8L829 885.7A54.2 54.2 0 0 1 834.1 888.1Z" fill="#fbba71" stroke="#bc8b55"/>
<path d="M808.3 935.8L833.8 888A54.2 54.2 0 0 1 838.6 890.9Z" fill="#fab66e" stroke="#bc8953"/>
<path d="M808.3 935.8L838.4 890.7A54.2 54.2 0 0 1 842.9 894.1Z" fill="#f9b26a" stroke="#bc8750"/>
<path d="M808.3 935.8L842.7 893.9A54.2 54.2 0 0 1 846.8 897.7Z" fill="#f8ae66" stroke="#bc844d"/>
<path d="M808.3 935.8L846.6 897.5A54.2 54.2 0 0 1 850.4 901.6Z" fill="#f7aa63" stroke="#bc824b"/>
<path d="M808.3 935.8L850.2 901.4A54.2 54.2 0 0 1 853.5 905.9Z" fill="#f6a65f" stroke="#bc7f48"/>
<path d="M808.3 935.8L853.4 905.7A54.2 54.2 0 0 1 856.2 910.5Z" fill="#f5a25b" stroke="#bc7c46"/>
<path d="M808.3 935.8L856.1 910.3A54.2 54.2 0 0 1 858.5 915.3Z" fill="#f49f5a" stroke="#bc7b45"/>
<path d="M808.3 935.8L858.4 915.1A54.2 54.2 0 0 1 860.2 920.3Z" fill="#f39d5a" stroke="#bc7a45"/>
<path d="M808.3 935.8L860.2 920.1A54.2 54.2 0 0 1 861.5 925.5Z" fill="#f29b5a" stroke="#bc7846"/>
<path d="M808.3 935.8L861.5 925.2A54.2 54.2 0 0 1 862.3 930.8Z" fill="#f1995a" stroke="#bc7746"/>
<path d="M808.3 935.8L862.2 930.5A54.2 54.2 0 0 1 862.5 936.1Z" fill="#f0975a" stroke="#bc7646"/>
<path d="M808.3 935.8L862.5 935.8A54.2 54.2 0 0 1 862.2 941.4Z" fill="#ee9559" stroke="#bc7546"/>
<path d="M808.3 935.8L862.2 941.1A54.2 54.2 0 0 1 861.4 946.7Z" fill="#eb9358" stroke="#ba7445"/>
<path d="M808.3 935.8L861.5 946.4A54.2 54.2 0 0 1 860.1 951.8Z" fill="#e89157" stroke="#b87345"/>
<path d="M808.3 935.8L860.2 951.5A54.2 54.2 0 0 1 858.3 956.8Z" fill="#e58e56" stroke="#b77144"/>
<path d="M808.3 935.8L858.4 956.5A54.2 54.2 0 0 1 856 961.6Z" fill="#e28c54" stroke="#b57043"/>
<path d="M808.3 935.8L856.1 961.3A54.2 54.2 0 0 1 853.2 966.1Z" fill="#df8a53" stroke="#b36f42"/>
<path d="M808.3 935.8L853.4 965.9A54.2 54.2 0 0 1 850 970.4Z" fill="#dc8852" stroke="#b16d42"/>
<path d="M808.3 935.8L850.2 970.2A54.2 54.2 0 0 1 846.4 974.3Z" fill="#d98651" stroke="#b06c41"/>
<path d="M808.3 935.8L846.6 974.1A54.2 54.2 0 0 1 842.5 977.9Z" fill="#d5834f" stroke="#ad6a40"/>
<path d="M808.3 935.8L842.7 977.7A54.2 54.2 0 0 1 838.2 981Z" fill="#d2814e" stroke="#ab693f"/>
<path d="M808.3 935.8L838.4 980.9A54.2 54.2 0 0 1 833.6 983.7Z" fill="#cf7f4d" stroke="#a9683f"/>
<path d="M808.3 935.8L833.8 983.6A54.2 54.2 0 0 1 828.8 986Z" fill="#cc7d4c" stroke="#a8673e"/>
<path d="M808.3 935.8L829 985.9A54.2 54.2 0 0 1 823.8 987.7Z" fill="#c97b4a" stroke="#a6653d"/>
<path d="M808.3 935.8L824 987.7A54.2 54.2 0 0 1 818.6 989Z" fill="#c67849" stroke="#a4633c"/>
<path d="M808.3 935.8L818.9 989A54.2 54.2 0 0 1 813.3 989.8Z" fill="#c37648" stroke="#a2623c"/>
<path d="M808.3 935.8L813.6 989.7A54.2 54.2 0 0 1 808 990Z" fill="#c07447" stroke="#a0613b"/>
<path d="M808.3 935.8L808.3 990A54.2 54.2 0 0 1 802.7 989.7Z" fill="#bc7245" stroke="#9d5f39"/>
<path d="M808.3 935.8L803 989.7A54.2 54.2 0 0 1 797.4 988.9Z" fill="#b86f44" stroke="#9b5d39"/>
<path d="M808.3 935.8L797.7 989A54.2 54.2 0 0 1 792.3 987.6Z" fill="#b46d42" stroke="#985c37"/>
<path d="M808.3 935.8L792.6 987.7A54.2 54.2 0 0 1 787.3 985.8Z" fill="#b06a41" stroke="#955a37"/>
<path d="M808.3 935.8L787.6 985.9A54.2 54.2 0 0 1 782.5 983.5Z" fill="#ac683f" stroke="#925835"/>
<path d="M808.3 935.8L782.8 983.6A54.2 54.2 0 0 1 778 980.7Z" fill="#a8653d" stroke="#8f5634"/>
<path d="M808.3 935.8L778.2 980.9A54.2 54.2 0 0 1 773.7 977.5Z" fill="#a4633c" stroke="#8c5533"/>
<path d="M808.3 935.8L773.9 977.7A54.2 54.2 0 0 1 769.8 973.9Z" fill="#a0603a" stroke="#895231"/>
<path d="M808.3 935.8L770 974.1A54.2 54.2 0 0 1 766.2 970Z" fill="#9b5e39" stroke="#865131"/>
<path d="M808.3 935.8L766.4 970.2A54.2 54.2 0 0 1 763.1 965.7Z" fill="#975b37" stroke="#834e2f"/>
<path d="M808.3 935.8L763.2 965.9A54.2 54.2 0 0 1 760.4 961.1Z" fill="#935936" stroke="#804d2f"/>
<path d="M808.3 935.8L760.5 961.3A54.2 54.2 0 0 1 758.1 956.3Z" fill="#8f5634" stroke="#7d4b2d"/>
<path d="M808.3 935.8L758.2 956.5A54.2 54.2 0 0 1 756.4 951.3Z" fill="#8b5432" stroke="#79492b"/>
<path d="M808.3 935.8L756.4 951.5A54.2 54.2 0 0 1 755.1 946.1Z" fill="#875131" stroke="#76472b"/>
<path d="M808.3 935.8L755.1 946.4A54.2 54.2 0 0 1 754.3 940.8Z" fill="#834f2f" stroke="#734529"/>
<path d="M808.3 935.8L754.4 941.1A54.2 54.2 0 0 1 754.1 935.5Z" fill="#7f4c2e" stroke="#704328"/>
<path d="M808.3 935.8L754.1 935.8A54.2 54.2 0 0 1 754.4 930.2Z" fill="#79492c" stroke="#6b4027"/>
<path d="M808.3 935.8L754.4 930.5A54.2 54.2 0 0 1 755.2 924.9Z" fill="#714429" stroke="#643c24"/>
<path d="M808.3 935.8L755.1 925.2A54.2 54.2 0 0 1 756.5 919.8Z" fill="#694026" stroke="#5e3922"/>
<path d="M808.3 935.8L756.4 920.1A54.2 54.2 0 0 1 758.3 914.8Z" fill="#623b23" stroke="#58351f"/>
<path d="M808.3 935.8L758.2 915.1A54.2 54.2 0 0 1 760.6 910Z" fill="#5a3621" stroke="#51301d"/>
<path d="M808.3 935.8L760.5 910.3A54.2 54.2 0 0 1 763.4 905.5Z" fill="#52321e" stroke="#4a2d1b"/>
<path d="M808.3 935.8L763.2 905.7A54.2 54.2 0 0 1 766.6 901.2Z" fill="#4a2d1b" stroke="#432818"/>
<path d="M808.3 935.8L766.4 901.4A54.2 54.2 0 0 1 770.2 897.3Z" fill="#422918" stroke="#3c2515"/>
<path d="M808.3 935.8L770 897.5A54.2 54.2 0 0 1 774.1 893.7Z" fill="#3b2416" stroke="#352014"/>
<path d="M808.3 935.8L773.9 893.9A54.2 54.2 0 0 1 778.4 890.6Z" fill="#331f13" stroke="#2e1c11"/>
<path d="M808.3 935.8L778.2 890.7A54.2 54.2 0 0 1 783 887.9Z" fill="#2b1b10" stroke="#27180e"/>
<path d="M808.3 935.8L782.8 888A54.2 54.2 0 0 1 787.8 885.6Z" fill="#23160d" stroke="#20140c"/>
<path d="M808.3 935.8L787.6 885.7A54.2 54.2 0 0 1 792.8 883.9Z" fill="#1b110a" stroke="#190f09"/>
<path d="M808.3 935.8L792.6 883.9A54.2 54.2 0 0 1 798 882.6Z" fill="#140c07" stroke="#120b06"/>
<path d="M808.3 935.8L797.7 882.6A54.2 54.2 0 0 1 803.3 881.8Z" fill="#0c0704" stroke="#0b0603"/>
<path d="M808.3 935.8L803 881.9A54.2 54.2 0 0 1 808.6 881.6Z" fill="#040201" stroke="#030100"/>
</g>
<circle cx="808.3" cy="935.8" r="3.1" fill="#8a9080" opacity="0.75"/>
<circle cx="808.3" cy="935.8" r="54.2" fill="none" stroke="#503020" stroke-width="0.5" opacity="0.6"/>
<text x="808.4" y="863" font-size="8.75" font-weight="bold" text-anchor="middle" fill="#111">Degree of Connectivity</text>
<g font-size="6.3" fill="#111">
<text transform="translate(811.4 870.5) rotate(-87.3)" y="2.2" text-anchor="middle">0.23</text>
<text transform="translate(836.1 876.6) rotate(-64.8)" y="2.2" text-anchor="middle">0.33</text>
<text transform="translate(856.7 891.8) rotate(-42.3)" y="2.2" text-anchor="middle">0.42</text>
<text transform="translate(869.8 913.6) rotate(-19.8)" y="2.2" text-anchor="middle">0.52</text>
<text transform="translate(873.6 938.9) rotate(2.7)" y="2.2" text-anchor="middle">0.61</text>
<text transform="translate(867.5 963.6) rotate(25.2)" y="2.2" text-anchor="middle">0.71</text>
<text transform="translate(852.3 984.2) rotate(47.7)" y="2.2" text-anchor="middle">0.81</text>
<text transform="translate(830.5 997.3) rotate(70.2)" y="2.2" text-anchor="middle">0.90</text>
<text transform="translate(805.2 1001.1) rotate(272.7)" y="2.2" text-anchor="middle">1.00</text>
<text transform="translate(780.5 995) rotate(295.2)" y="2.2" text-anchor="middle">1.09</text>
<text transform="translate(759.9 979.8) rotate(317.7)" y="2.2" text-anchor="middle">1.19</text>
<text transform="translate(746.8 958) rotate(340.2)" y="2.2" text-anchor="middle">1.28</text>
<text transform="translate(743 932.7) rotate(362.7)" y="2.2" text-anchor="middle">1.38</text>
<text transform="translate(749.1 908) rotate(385.2)" y="2.2" text-anchor="middle">1.48</text>
<text transform="translate(764.3 887.4) rotate(407.7)" y="2.2" text-anchor="middle">1.57</text>
<text transform="translate(786.1 874.3) rotate(430.2)" y="2.2" text-anchor="middle">1.67</text>
</g>
</svg>
</body></html>
